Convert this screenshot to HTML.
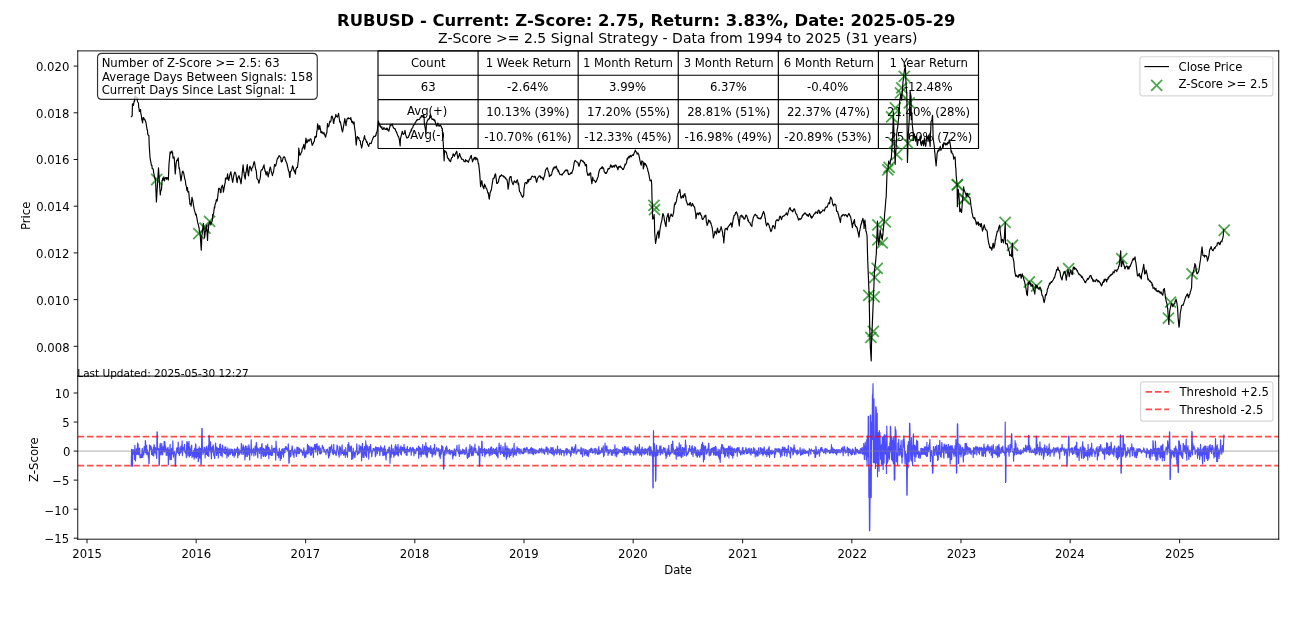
<!DOCTYPE html>
<html><head><meta charset="utf-8"><title>RUBUSD Z-Score</title>
<style>
html,body{margin:0;padding:0;background:#fff;}
body{width:1292px;height:634px;overflow:hidden;font-family:"DejaVu Sans","Liberation Sans",sans-serif;}
svg{display:block;will-change:transform;}
svg text{font-family:"DejaVu Sans",sans-serif;}
</style></head><body>
<svg width="1292" height="634" viewBox="0 0 1107.428571 543.428571" version="1.1">
<defs>
<style type="text/css">*{stroke-linejoin: round; stroke-linecap: butt}</style>
</defs>
<g id="figure_1">
<g id="patch_1">
<path d="M 0 543.428571
L 1107.428571 543.428571
L 1107.428571 0
L 0 0
z
" style="fill: #ffffff"/>
</g>
<g id="axes_1">
<g id="patch_2">
<path d="M 66.642857 322.371429
L 1096.071429 322.371429
L 1096.071429 43.628571
L 66.642857 43.628571
z
" style="fill: #ffffff"/>
</g>
<g id="table_1">
<g id="patch_3">
<path d="M 324 64.534286
L 409.785714 64.534286
L 409.785714 43.628571
L 324 43.628571
L 324 64.534286
z
" style="fill: none; stroke: #000000; stroke-linejoin: miter"/>
</g>
<g id="g_tbl_r0_c0" transform="translate(0.214 0.321)">
<text style="font-size: 10px; font-family: 'DejaVu Sans'; text-anchor: middle" x="366.892857" y="56.840804" transform="rotate(-0 366.892857 56.840804)">Count</text>
</g>
<g id="patch_4">
<path d="M 409.785714 64.534286
L 495.571429 64.534286
L 495.571429 43.628571
L 409.785714 43.628571
M 409.785714 64.534286
" style="fill: none; stroke: #000000; stroke-linejoin: miter"/>
</g>
<g id="g_tbl_r0_c1" transform="translate(0.214 0.214)">
<text style="font-size: 10px; font-family: 'DejaVu Sans'; text-anchor: middle" x="452.678571" y="56.840804" transform="rotate(-0 452.678571 56.840804)">1 Week Return</text>
</g>
<g id="patch_5">
<path d="M 495.571429 64.534286
L 581.357143 64.534286
L 581.357143 43.628571
L 495.571429 43.628571
M 495.571429 64.534286
" style="fill: none; stroke: #000000; stroke-linejoin: miter"/>
</g>
<g id="g_tbl_r0_c2" transform="translate(-0.214 0.214)">
<text style="font-size: 10px; font-family: 'DejaVu Sans'; text-anchor: middle" x="538.464286" y="56.840804" transform="rotate(-0 538.464286 56.840804)">1 Month Return</text>
</g>
<g id="patch_6">
<path d="M 581.357143 64.534286
L 667.142857 64.534286
L 667.142857 43.628571
L 581.357143 43.628571
M 581.357143 64.534286
" style="fill: none; stroke: #000000; stroke-linejoin: miter"/>
</g>
<g id="g_tbl_r0_c3" transform="translate(0.321 0.321)">
<text style="font-size: 10px; font-family: 'DejaVu Sans'; text-anchor: middle" x="624.25" y="56.840804" transform="rotate(-0 624.25 56.840804)">3 Month Return</text>
</g>
<g id="patch_7">
<path d="M 667.142857 64.534286
L 752.928571 64.534286
L 752.928571 43.628571
L 667.142857 43.628571
M 667.142857 64.534286
" style="fill: none; stroke: #000000; stroke-linejoin: miter"/>
</g>
<g id="g_tbl_r0_c4" transform="translate(0.429 0.321)">
<text style="font-size: 10px; font-family: 'DejaVu Sans'; text-anchor: middle" x="710.035714" y="56.840804" transform="rotate(-0 710.035714 56.840804)">6 Month Return</text>
</g>
<g id="patch_8">
<path d="M 752.928571 64.534286
L 838.714286 64.534286
L 838.714286 43.628571
L 752.928571 43.628571
M 752.928571 64.534286
" style="fill: none; stroke: #000000; stroke-linejoin: miter"/>
</g>
<g id="g_tbl_r0_c5" transform="translate(0.214 0.214)">
<text style="font-size: 10px; font-family: 'DejaVu Sans'; text-anchor: middle" x="795.821429" y="56.840804" transform="rotate(-0 795.821429 56.840804)">1 Year Return</text>
</g>
<g id="patch_9">
<path d="M 324 85.44
L 409.785714 85.44
L 409.785714 64.534286
M 324 64.534286
L 324 85.44
" style="fill: none; stroke: #000000; stroke-linejoin: miter"/>
</g>
<g id="g_tbl_r1_c0" transform="translate(0.107 0.000)">
<text style="font-size: 10px; font-family: 'DejaVu Sans'; text-anchor: middle" x="366.892857" y="77.746518" transform="rotate(-0 366.892857 77.746518)">63</text>
</g>
<g id="patch_10">
<path d="M 409.785714 85.44
L 495.571429 85.44
L 495.571429 64.534286
M 409.785714 64.534286
M 409.785714 85.44
" style="fill: none; stroke: #000000; stroke-linejoin: miter"/>
</g>
<g id="g_tbl_r1_c1" transform="translate(-0.321 0.000)">
<text style="font-size: 10px; font-family: 'DejaVu Sans'; text-anchor: middle" x="452.678571" y="77.746518" transform="rotate(-0 452.678571 77.746518)">-2.64%</text>
</g>
<g id="patch_11">
<path d="M 495.571429 85.44
L 581.357143 85.44
L 581.357143 64.534286
M 495.571429 64.534286
M 495.571429 85.44
" style="fill: none; stroke: #000000; stroke-linejoin: miter"/>
</g>
<g id="g_tbl_r1_c2" transform="translate(-0.536 0.000)">
<text style="font-size: 10px; font-family: 'DejaVu Sans'; text-anchor: middle" x="538.464286" y="77.746518" transform="rotate(-0 538.464286 77.746518)">3.99%</text>
</g>
<g id="patch_12">
<path d="M 581.357143 85.44
L 667.142857 85.44
L 667.142857 64.534286
M 581.357143 64.534286
M 581.357143 85.44
" style="fill: none; stroke: #000000; stroke-linejoin: miter"/>
</g>
<g id="g_tbl_r1_c3" transform="translate(0.107 0.000)">
<text style="font-size: 10px; font-family: 'DejaVu Sans'; text-anchor: middle" x="624.25" y="77.746518" transform="rotate(-0 624.25 77.746518)">6.37%</text>
</g>
<g id="patch_13">
<path d="M 667.142857 85.44
L 752.928571 85.44
L 752.928571 64.534286
M 667.142857 64.534286
M 667.142857 85.44
" style="fill: none; stroke: #000000; stroke-linejoin: miter"/>
</g>
<g id="g_tbl_r1_c4" transform="translate(-0.643 -0.107)">
<text style="font-size: 10px; font-family: 'DejaVu Sans'; text-anchor: middle" x="710.035714" y="77.746518" transform="rotate(-0 710.035714 77.746518)">-0.40%</text>
</g>
<g id="patch_14">
<path d="M 752.928571 85.44
L 838.714286 85.44
L 838.714286 64.534286
M 752.928571 64.534286
M 752.928571 85.44
" style="fill: none; stroke: #000000; stroke-linejoin: miter"/>
</g>
<g id="g_tbl_r1_c5" transform="translate(-0.214 0.000)">
<text style="font-size: 10px; font-family: 'DejaVu Sans'; text-anchor: middle" x="795.821429" y="77.746518" transform="rotate(-0 795.821429 77.746518)">-12.48%</text>
</g>
<g id="patch_15">
<path d="M 324 106.345714
L 409.785714 106.345714
L 409.785714 85.44
M 324 85.44
L 324 106.345714
" style="fill: none; stroke: #000000; stroke-linejoin: miter"/>
</g>
<g id="g_tbl_r2_c0" transform="translate(-0.750 -0.321)">
<text style="font-size: 10px; font-family: 'DejaVu Sans'; text-anchor: middle" x="366.892857" y="98.652232" transform="rotate(-0 366.892857 98.652232)">Avg(+)</text>
</g>
<g id="patch_16">
<path d="M 409.785714 106.345714
L 495.571429 106.345714
L 495.571429 85.44
M 409.785714 85.44
M 409.785714 106.345714
" style="fill: none; stroke: #000000; stroke-linejoin: miter"/>
</g>
<g id="g_tbl_r2_c1" transform="translate(-0.214 0.429)">
<text style="font-size: 10px; font-family: 'DejaVu Sans'; text-anchor: middle" x="452.678571" y="98.652232" transform="rotate(-0 452.678571 98.652232)">10.13% (39%)</text>
</g>
<g id="patch_17">
<path d="M 495.571429 106.345714
L 581.357143 106.345714
L 581.357143 85.44
M 495.571429 85.44
M 495.571429 106.345714
" style="fill: none; stroke: #000000; stroke-linejoin: miter"/>
</g>
<g id="g_tbl_r2_c2" transform="translate(0.321 0.429)">
<text style="font-size: 10px; font-family: 'DejaVu Sans'; text-anchor: middle" x="538.464286" y="98.652232" transform="rotate(-0 538.464286 98.652232)">17.20% (55%)</text>
</g>
<g id="patch_18">
<path d="M 581.357143 106.345714
L 667.142857 106.345714
L 667.142857 85.44
M 581.357143 85.44
M 581.357143 106.345714
" style="fill: none; stroke: #000000; stroke-linejoin: miter"/>
</g>
<g id="g_tbl_r2_c3" transform="translate(0.429 0.536)">
<text style="font-size: 10px; font-family: 'DejaVu Sans'; text-anchor: middle" x="624.25" y="98.652232" transform="rotate(-0 624.25 98.652232)">28.81% (51%)</text>
</g>
<g id="patch_19">
<path d="M 667.142857 106.345714
L 752.928571 106.345714
L 752.928571 85.44
M 667.142857 85.44
M 667.142857 106.345714
" style="fill: none; stroke: #000000; stroke-linejoin: miter"/>
</g>
<g id="g_tbl_r2_c4" transform="translate(0.107 0.536)">
<text style="font-size: 10px; font-family: 'DejaVu Sans'; text-anchor: middle" x="710.035714" y="98.652232" transform="rotate(-0 710.035714 98.652232)">22.37% (47%)</text>
</g>
<g id="patch_20">
<path d="M 752.928571 106.345714
L 838.714286 106.345714
L 838.714286 85.44
M 752.928571 85.44
M 752.928571 106.345714
" style="fill: none; stroke: #000000; stroke-linejoin: miter"/>
</g>
<g id="g_tbl_r2_c5" transform="translate(0.107 0.429)">
<text style="font-size: 10px; font-family: 'DejaVu Sans'; text-anchor: middle" x="795.821429" y="98.652232" transform="rotate(-0 795.821429 98.652232)">21.40% (28%)</text>
</g>
<g id="patch_21">
<path d="M 324 127.251429
L 409.785714 127.251429
L 409.785714 106.345714
M 324 106.345714
L 324 127.251429
" style="fill: none; stroke: #000000; stroke-linejoin: miter"/>
</g>
<g id="g_tbl_r3_c0" transform="translate(-0.321 -0.643)">
<text style="font-size: 10px; font-family: 'DejaVu Sans'; text-anchor: middle" x="366.892857" y="119.557946" transform="rotate(-0 366.892857 119.557946)">Avg(-)</text>
</g>
<g id="patch_22">
<path d="M 409.785714 127.251429
L 495.571429 127.251429
L 495.571429 106.345714
M 409.785714 106.345714
M 409.785714 127.251429
" style="fill: none; stroke: #000000; stroke-linejoin: miter"/>
</g>
<g id="g_tbl_r3_c1" transform="translate(-0.107 1.071)">
<text style="font-size: 10px; font-family: 'DejaVu Sans'; text-anchor: middle" x="452.678571" y="119.557946" transform="rotate(-0 452.678571 119.557946)">-10.70% (61%)</text>
</g>
<g id="patch_23">
<path d="M 495.571429 127.251429
L 581.357143 127.251429
L 581.357143 106.345714
M 495.571429 106.345714
M 495.571429 127.251429
" style="fill: none; stroke: #000000; stroke-linejoin: miter"/>
</g>
<g id="g_tbl_r3_c2" transform="translate(-0.214 1.071)">
<text style="font-size: 10px; font-family: 'DejaVu Sans'; text-anchor: middle" x="538.464286" y="119.557946" transform="rotate(-0 538.464286 119.557946)">-12.33% (45%)</text>
</g>
<g id="patch_24">
<path d="M 581.357143 127.251429
L 667.142857 127.251429
L 667.142857 106.345714
M 581.357143 106.345714
M 581.357143 127.251429
" style="fill: none; stroke: #000000; stroke-linejoin: miter"/>
</g>
<g id="g_tbl_r3_c3" transform="translate(-0.107 1.071)">
<text style="font-size: 10px; font-family: 'DejaVu Sans'; text-anchor: middle" x="624.25" y="119.557946" transform="rotate(-0 624.25 119.557946)">-16.98% (49%)</text>
</g>
<g id="patch_25">
<path d="M 667.142857 127.251429
L 752.928571 127.251429
L 752.928571 106.345714
M 667.142857 106.345714
M 667.142857 127.251429
" style="fill: none; stroke: #000000; stroke-linejoin: miter"/>
</g>
<g id="g_tbl_r3_c4" transform="translate(-0.321 1.071)">
<text style="font-size: 10px; font-family: 'DejaVu Sans'; text-anchor: middle" x="710.035714" y="119.557946" transform="rotate(-0 710.035714 119.557946)">-20.89% (53%)</text>
</g>
<g id="patch_26">
<path d="M 752.928571 127.251429
L 838.714286 127.251429
L 838.714286 106.345714
M 752.928571 106.345714
M 752.928571 127.251429
" style="fill: none; stroke: #000000; stroke-linejoin: miter"/>
</g>
<g id="g_tbl_r3_c5" transform="translate(0.214 1.071)">
<text style="font-size: 10px; font-family: 'DejaVu Sans'; text-anchor: middle" x="795.821429" y="119.557946" transform="rotate(-0 795.821429 119.557946)">-25.60% (72%)</text>
</g>
</g>
<g id="matplotlib.axis_1">
<g id="xtick_1">
<g id="line2d_1">
<defs>
<path id="m846767134b" d="M 0 0
L 0 3.5
" style="stroke: #000000; stroke-width: 0.8"/>
</defs>
<g>
<use href="#m846767134b" x="74.571429" y="322.371429" style="stroke: #000000; stroke-width: 0.8"/>
</g>
</g>
</g>
<g id="xtick_2">
<g id="line2d_2">
<g>
<use href="#m846767134b" x="168.147" y="322.371429" style="stroke: #000000; stroke-width: 0.8"/>
</g>
</g>
</g>
<g id="xtick_3">
<g id="line2d_3">
<g>
<use href="#m846767134b" x="261.978943" y="322.371429" style="stroke: #000000; stroke-width: 0.8"/>
</g>
</g>
</g>
<g id="xtick_4">
<g id="line2d_4">
<g>
<use href="#m846767134b" x="355.554514" y="322.371429" style="stroke: #000000; stroke-width: 0.8"/>
</g>
</g>
</g>
<g id="xtick_5">
<g id="line2d_5">
<g>
<use href="#m846767134b" x="449.130086" y="322.371429" style="stroke: #000000; stroke-width: 0.8"/>
</g>
</g>
</g>
<g id="xtick_6">
<g id="line2d_6">
<g>
<use href="#m846767134b" x="542.705657" y="322.371429" style="stroke: #000000; stroke-width: 0.8"/>
</g>
</g>
</g>
<g id="xtick_7">
<g id="line2d_7">
<g>
<use href="#m846767134b" x="636.5376" y="322.371429" style="stroke: #000000; stroke-width: 0.8"/>
</g>
</g>
</g>
<g id="xtick_8">
<g id="line2d_8">
<g>
<use href="#m846767134b" x="730.113171" y="322.371429" style="stroke: #000000; stroke-width: 0.8"/>
</g>
</g>
</g>
<g id="xtick_9">
<g id="line2d_9">
<g>
<use href="#m846767134b" x="823.688743" y="322.371429" style="stroke: #000000; stroke-width: 0.8"/>
</g>
</g>
</g>
<g id="xtick_10">
<g id="line2d_10">
<g>
<use href="#m846767134b" x="917.264314" y="322.371429" style="stroke: #000000; stroke-width: 0.8"/>
</g>
</g>
</g>
<g id="xtick_11">
<g id="line2d_11">
<g>
<use href="#m846767134b" x="1011.096257" y="322.371429" style="stroke: #000000; stroke-width: 0.8"/>
</g>
</g>
</g>
</g>
<g id="matplotlib.axis_2">
<g id="ytick_1">
<g id="line2d_12">
<defs>
<path id="me7e407bb2a" d="M 0 0
L -3.5 0
" style="stroke: #000000; stroke-width: 0.8"/>
</defs>
<g>
<use href="#me7e407bb2a" x="66.642857" y="296.828571" style="stroke: #000000; stroke-width: 0.8"/>
</g>
</g>
<g id="g_ytl1_1" transform="translate(0.000 0.857)">
<text style="font-size: 10px; font-family: 'DejaVu Sans'; text-anchor: end" x="59.642857" y="300.62779" transform="rotate(-0 59.642857 300.62779)">0.008</text>
</g>
</g>
<g id="ytick_2">
<g id="line2d_13">
<g>
<use href="#me7e407bb2a" x="66.642857" y="256.8" style="stroke: #000000; stroke-width: 0.8"/>
</g>
</g>
<g id="g_ytl1_2" transform="translate(0.000 0.536)">
<text style="font-size: 10px; font-family: 'DejaVu Sans'; text-anchor: end" x="59.642857" y="260.599219" transform="rotate(-0 59.642857 260.599219)">0.010</text>
</g>
</g>
<g id="ytick_3">
<g id="line2d_14">
<g>
<use href="#me7e407bb2a" x="66.642857" y="216.771429" style="stroke: #000000; stroke-width: 0.8"/>
</g>
</g>
<g id="g_ytl1_3" transform="translate(-0.107 0.214)">
<text style="font-size: 10px; font-family: 'DejaVu Sans'; text-anchor: end" x="59.642857" y="220.570647" transform="rotate(-0 59.642857 220.570647)">0.012</text>
</g>
</g>
<g id="ytick_4">
<g id="line2d_15">
<g>
<use href="#me7e407bb2a" x="66.642857" y="176.742857" style="stroke: #000000; stroke-width: 0.8"/>
</g>
</g>
<g id="g_ytl1_4">
<text style="font-size: 10px; font-family: 'DejaVu Sans'; text-anchor: end" x="59.642857" y="180.542076" transform="rotate(-0 59.642857 180.542076)">0.014</text>
</g>
</g>
<g id="ytick_5">
<g id="line2d_16">
<g>
<use href="#me7e407bb2a" x="66.642857" y="136.714286" style="stroke: #000000; stroke-width: 0.8"/>
</g>
</g>
<g id="g_ytl1_5" transform="translate(-0.107 -0.214)">
<text style="font-size: 10px; font-family: 'DejaVu Sans'; text-anchor: end" x="59.642857" y="140.513504" transform="rotate(-0 59.642857 140.513504)">0.016</text>
</g>
</g>
<g id="ytick_6">
<g id="line2d_17">
<g>
<use href="#me7e407bb2a" x="66.642857" y="96.685714" style="stroke: #000000; stroke-width: 0.8"/>
</g>
</g>
<g id="g_ytl1_6" transform="translate(-0.107 0.429)">
<text style="font-size: 10px; font-family: 'DejaVu Sans'; text-anchor: end" x="59.642857" y="100.484933" transform="rotate(-0 59.642857 100.484933)">0.018</text>
</g>
</g>
<g id="ytick_7">
<g id="line2d_18">
<g>
<use href="#me7e407bb2a" x="66.642857" y="56.657143" style="stroke: #000000; stroke-width: 0.8"/>
</g>
</g>
<g id="g_ytl1_7" transform="translate(-0.214 0.000)">
<text style="font-size: 10px; font-family: 'DejaVu Sans'; text-anchor: end" x="59.642857" y="60.456362" transform="rotate(-0 59.642857 60.456362)">0.020</text>
</g>
</g>
<g id="g_ylabel1" transform="translate(0.429 0.321)">
<text style="font-size: 10px; font-family: 'DejaVu Sans'; text-anchor: middle" x="24.935045" y="184.628571" transform="rotate(-90 24.935045 184.628571)">Price</text>
</g>
</g>
<g id="PathCollection_1">
<defs>
<path id="m4cc03a8183" d="M -4.743416 4.743416
L 4.743416 -4.743416
M -4.743416 -4.743416
L 4.743416 4.743416
" style="stroke: #008000; stroke-opacity: 0.7; stroke-width: 1.5"/>
</defs>
<g clip-path="url(#pc347632fc4)">
<use href="#m4cc03a8183" x="134.314286" y="153.857143" style="fill: #008000; fill-opacity: 0.7; stroke: #008000; stroke-opacity: 0.7; stroke-width: 1.5"/>
<use href="#m4cc03a8183" x="170.4" y="200.314286" style="fill: #008000; fill-opacity: 0.7; stroke: #008000; stroke-opacity: 0.7; stroke-width: 1.5"/>
<use href="#m4cc03a8183" x="175.714286" y="195.514286" style="fill: #008000; fill-opacity: 0.7; stroke: #008000; stroke-opacity: 0.7; stroke-width: 1.5"/>
<use href="#m4cc03a8183" x="179.657143" y="189.771429" style="fill: #008000; fill-opacity: 0.7; stroke: #008000; stroke-opacity: 0.7; stroke-width: 1.5"/>
<use href="#m4cc03a8183" x="560.485714" y="175.971429" style="fill: #008000; fill-opacity: 0.7; stroke: #008000; stroke-opacity: 0.7; stroke-width: 1.5"/>
<use href="#m4cc03a8183" x="561" y="179.657143" style="fill: #008000; fill-opacity: 0.7; stroke: #008000; stroke-opacity: 0.7; stroke-width: 1.5"/>
<use href="#m4cc03a8183" x="746.485714" y="289.114286" style="fill: #008000; fill-opacity: 0.7; stroke: #008000; stroke-opacity: 0.7; stroke-width: 1.5"/>
<use href="#m4cc03a8183" x="748.542857" y="283.971429" style="fill: #008000; fill-opacity: 0.7; stroke: #008000; stroke-opacity: 0.7; stroke-width: 1.5"/>
<use href="#m4cc03a8183" x="744.685714" y="253.2" style="fill: #008000; fill-opacity: 0.7; stroke: #008000; stroke-opacity: 0.7; stroke-width: 1.5"/>
<use href="#m4cc03a8183" x="749.314286" y="254.485714" style="fill: #008000; fill-opacity: 0.7; stroke: #008000; stroke-opacity: 0.7; stroke-width: 1.5"/>
<use href="#m4cc03a8183" x="749.828571" y="237.771429" style="fill: #008000; fill-opacity: 0.7; stroke: #008000; stroke-opacity: 0.7; stroke-width: 1.5"/>
<use href="#m4cc03a8183" x="751.885714" y="230.057143" style="fill: #008000; fill-opacity: 0.7; stroke: #008000; stroke-opacity: 0.7; stroke-width: 1.5"/>
<use href="#m4cc03a8183" x="752.4" y="192.771429" style="fill: #008000; fill-opacity: 0.7; stroke: #008000; stroke-opacity: 0.7; stroke-width: 1.5"/>
<use href="#m4cc03a8183" x="758.828571" y="190.2" style="fill: #008000; fill-opacity: 0.7; stroke: #008000; stroke-opacity: 0.7; stroke-width: 1.5"/>
<use href="#m4cc03a8183" x="752.4" y="205.628571" style="fill: #008000; fill-opacity: 0.7; stroke: #008000; stroke-opacity: 0.7; stroke-width: 1.5"/>
<use href="#m4cc03a8183" x="756.257143" y="208.2" style="fill: #008000; fill-opacity: 0.7; stroke: #008000; stroke-opacity: 0.7; stroke-width: 1.5"/>
<use href="#m4cc03a8183" x="775.078864" y="65.529518" style="fill: #008000; fill-opacity: 0.7; stroke: #008000; stroke-opacity: 0.7; stroke-width: 1.5"/>
<use href="#m4cc03a8183" x="771.83416" y="79.589905" style="fill: #008000; fill-opacity: 0.7; stroke: #008000; stroke-opacity: 0.7; stroke-width: 1.5"/>
<use href="#m4cc03a8183" x="772.915728" y="75.263632" style="fill: #008000; fill-opacity: 0.7; stroke: #008000; stroke-opacity: 0.7; stroke-width: 1.5"/>
<use href="#m4cc03a8183" x="779.405137" y="88.242452" style="fill: #008000; fill-opacity: 0.7; stroke: #008000; stroke-opacity: 0.7; stroke-width: 1.5"/>
<use href="#m4cc03a8183" x="767.507886" y="92.568725" style="fill: #008000; fill-opacity: 0.7; stroke: #008000; stroke-opacity: 0.7; stroke-width: 1.5"/>
<use href="#m4cc03a8183" x="764.263182" y="100.139703" style="fill: #008000; fill-opacity: 0.7; stroke: #008000; stroke-opacity: 0.7; stroke-width: 1.5"/>
<use href="#m4cc03a8183" x="766.426318" y="122.852636" style="fill: #008000; fill-opacity: 0.7; stroke: #008000; stroke-opacity: 0.7; stroke-width: 1.5"/>
<use href="#m4cc03a8183" x="778.323569" y="122.852636" style="fill: #008000; fill-opacity: 0.7; stroke: #008000; stroke-opacity: 0.7; stroke-width: 1.5"/>
<use href="#m4cc03a8183" x="768.589455" y="132.586751" style="fill: #008000; fill-opacity: 0.7; stroke: #008000; stroke-opacity: 0.7; stroke-width: 1.5"/>
<use href="#m4cc03a8183" x="762.100045" y="143.402434" style="fill: #008000; fill-opacity: 0.7; stroke: #008000; stroke-opacity: 0.7; stroke-width: 1.5"/>
<use href="#m4cc03a8183" x="761.018477" y="145.56557" style="fill: #008000; fill-opacity: 0.7; stroke: #008000; stroke-opacity: 0.7; stroke-width: 1.5"/>
<use href="#m4cc03a8183" x="820.504732" y="158.544389" style="fill: #008000; fill-opacity: 0.7; stroke: #008000; stroke-opacity: 0.7; stroke-width: 1.5"/>
<use href="#m4cc03a8183" x="826.994142" y="170.44164" style="fill: #008000; fill-opacity: 0.7; stroke: #008000; stroke-opacity: 0.7; stroke-width: 1.5"/>
<use href="#m4cc03a8183" x="820.651092" y="158.284182" style="fill: #008000; fill-opacity: 0.7; stroke: #008000; stroke-opacity: 0.7; stroke-width: 1.5"/>
<use href="#m4cc03a8183" x="826.396017" y="170.463424" style="fill: #008000; fill-opacity: 0.7; stroke: #008000; stroke-opacity: 0.7; stroke-width: 1.5"/>
<use href="#m4cc03a8183" x="861.55496" y="190.685561" style="fill: #008000; fill-opacity: 0.7; stroke: #008000; stroke-opacity: 0.7; stroke-width: 1.5"/>
<use href="#m4cc03a8183" x="867.759479" y="210.218307" style="fill: #008000; fill-opacity: 0.7; stroke: #008000; stroke-opacity: 0.7; stroke-width: 1.5"/>
<use href="#m4cc03a8183" x="882.236691" y="241.700498" style="fill: #008000; fill-opacity: 0.7; stroke: #008000; stroke-opacity: 0.7; stroke-width: 1.5"/>
<use href="#m4cc03a8183" x="888.44121" y="245.147453" style="fill: #008000; fill-opacity: 0.7; stroke: #008000; stroke-opacity: 0.7; stroke-width: 1.5"/>
<use href="#m4cc03a8183" x="916.016852" y="230.210647" style="fill: #008000; fill-opacity: 0.7; stroke: #008000; stroke-opacity: 0.7; stroke-width: 1.5"/>
<use href="#m4cc03a8183" x="961.51666" y="221.708158" style="fill: #008000; fill-opacity: 0.7; stroke: #008000; stroke-opacity: 0.7; stroke-width: 1.5"/>
<use href="#m4cc03a8183" x="1003.339717" y="258.935274" style="fill: #008000; fill-opacity: 0.7; stroke: #008000; stroke-opacity: 0.7; stroke-width: 1.5"/>
<use href="#m4cc03a8183" x="1001.50134" y="272.723095" style="fill: #008000; fill-opacity: 0.7; stroke: #008000; stroke-opacity: 0.7; stroke-width: 1.5"/>
<use href="#m4cc03a8183" x="1021.723478" y="234.806588" style="fill: #008000; fill-opacity: 0.7; stroke: #008000; stroke-opacity: 0.7; stroke-width: 1.5"/>
<use href="#m4cc03a8183" x="1049.299119" y="197.349674" style="fill: #008000; fill-opacity: 0.7; stroke: #008000; stroke-opacity: 0.7; stroke-width: 1.5"/>
</g>
</g>
<g id="patch_27">
<path d="M 66.642857 322.371429
L 66.642857 43.628571
" style="fill: none; stroke: #000000; stroke-width: 0.8; stroke-linejoin: miter; stroke-linecap: square"/>
</g>
<g id="patch_28">
<path d="M 1096.071429 322.371429
L 1096.071429 43.628571
" style="fill: none; stroke: #000000; stroke-width: 0.8; stroke-linejoin: miter; stroke-linecap: square"/>
</g>
<g id="patch_29">
<path d="M 66.642857 43.628571
L 1096.071429 43.628571
" style="fill: none; stroke: #000000; stroke-width: 0.8; stroke-linejoin: miter; stroke-linecap: square"/>
</g>
<g id="line2d_19">
<path d="M 112.5144 100.114286
L 113.283514 99.357179
L 113.539886 89.005017
L 113.796257 89.428827
L 114.052629 89.151425
L 114.309 90.270049
L 115.078114 86.389279
L 115.334486 86.98221
L 115.590857 83.466175
L 115.847229 82.130921
L 116.1036 83.712635
L 116.872714 83.701657
L 117.129086 83.585635
L 117.385457 83.048584
L 117.641829 85.720481
L 117.8982 87.185939
L 118.667314 88.291246
L 118.923686 92.285108
L 119.180057 93.119463
L 119.436429 95.603199
L 119.6928 95.465519
L 120.461914 93.960926
L 120.718286 97.501408
L 120.974657 97.949626
L 121.231029 99.581956
L 121.4874 102.389249
L 122.256514 105.367035
L 122.512886 100.97993
L 122.769257 102.350638
L 123.025629 100.818683
L 124.051114 102.862398
L 124.307486 102.513085
L 124.563857 103.622635
L 124.820229 103.964177
L 125.0766 104.848983
L 126.102086 111.316362
L 126.358457 111.190207
L 126.614829 114.430764
L 126.8712 115.568011
L 127.640314 116.324295
L 127.896686 124.755899
L 128.6658 135.810913
L 129.434914 139.591034
L 129.691286 141.437272
L 129.947657 141.883422
L 130.204029 141.692752
L 130.4604 144.504189
L 131.229514 144.688694
L 131.485886 145.897258
L 131.742257 148.410194
L 131.998629 148.982703
L 132.255 150.552623
L 133.024114 154.209123
L 133.280486 153.226069
L 134.0496 173.155661
L 135.8442 143.759889
L 137.382429 167.130419
L 137.6388 164.339732
L 138.407914 162.298079
L 138.920657 154.62987
L 139.177029 154.987771
L 139.4334 152.574714
L 140.202514 154.252865
L 140.458886 151.498944
L 140.715257 154.306197
L 140.971629 155.0128
L 141.228 152.964391
L 141.997114 152.191924
L 142.253486 153.138528
L 142.509857 152.337968
L 142.766229 153.683644
L 143.0226 152.154801
L 143.791714 152.619346
L 144.304457 154.369609
L 144.8172 141.260661
L 145.842686 130.20054
L 146.099057 131.795276
L 146.355429 131.594075
L 146.6118 130.837398
L 147.380914 129.399714
L 147.637286 130.43604
L 147.893657 130.515063
L 148.150029 133.717996
L 148.4064 135.497201
L 149.175514 134.546449
L 149.431886 136.232445
L 150.201 149.043394
L 150.970114 140.286649
L 151.482857 137.475339
L 151.739229 137.116025
L 151.9956 137.547277
L 152.764714 135.351554
L 153.277457 142.306626
L 153.533829 144.605759
L 153.7902 143.757209
L 155.072057 155.014217
L 155.328429 154.123068
L 155.5848 151.945038
L 156.353914 147.021765
L 156.610286 147.545312
L 156.866657 146.548084
L 157.123029 148.092288
L 157.3794 147.945436
L 158.404886 153.571203
L 158.661257 154.020975
L 158.917629 154.855726
L 159.174 157.757429
L 159.943114 160.800847
L 160.199486 163.177711
L 160.455857 161.022466
L 160.712229 160.831928
L 160.9686 164.467948
L 161.737714 164.189136
L 161.994086 166.661084
L 162.250457 170.338956
L 162.506829 171.130472
L 162.7632 174.947138
L 163.532314 174.743384
L 163.788686 176.672613
L 164.5578 169.207524
L 165.326914 172.44478
L 165.839657 175.854495
L 166.096029 177.069084
L 166.3524 178.965603
L 167.377886 182.624306
L 167.634257 184.269201
L 168.147 183.577083
L 169.172486 189.136284
L 169.428857 190.962147
L 169.9416 192.102957
L 170.710714 195.898238
L 170.967086 199.682707
L 171.223457 199.490106
L 171.479829 200.325433
L 171.7362 203.215543
L 172.505314 214.405043
L 172.761686 209.134888
L 173.018057 201.279609
L 173.274429 200.712054
L 173.5308 197.983337
L 174.299914 191.341823
L 174.812657 195.646063
L 175.3254 203.936523
L 176.094514 197.852286
L 176.350886 198.107828
L 176.607257 194.81051
L 177.12 192.915725
L 177.889114 206.024634
L 178.145486 200.23484
L 178.658229 196.684826
L 178.9146 192.964392
L 179.683714 190.249397
L 179.940086 189.848726
L 180.196457 190.153919
L 180.452829 191.116085
L 180.7092 192.769462
L 181.734686 189.478219
L 181.991057 189.466355
L 182.247429 183.833796
L 182.5038 185.725706
L 183.272914 181.445553
L 183.785657 177.278806
L 184.042029 178.205268
L 184.2984 175.540011
L 185.067514 173.576351
L 185.323886 171.44313
L 185.580257 171.147896
L 185.836629 171.160143
L 186.093 172.4616
L 186.862114 166.886133
L 187.374857 161.801606
L 187.631229 161.277412
L 188.656714 162.423012
L 188.913086 165.062241
L 189.169457 162.961389
L 189.425829 164.867332
L 189.6822 160.738918
L 190.707686 158.743575
L 190.964057 160.479102
L 191.220429 161.407222
L 191.4768 164.632583
L 192.758657 157.313088
L 193.015029 156.834844
L 193.2714 152.670068
L 194.040514 152.662393
L 194.296886 152.986741
L 194.553257 153.556595
L 195.066 148.94511
L 195.835114 154.137315
L 196.091486 154.606097
L 196.347857 152.389378
L 196.604229 152.787998
L 196.8606 150.651391
L 197.629714 147.720948
L 197.886086 147.290215
L 198.142457 149.416115
L 198.398829 149.827637
L 198.6552 152.132925
L 199.424314 156.364583
L 200.4498 150.056534
L 201.218914 147.675398
L 201.475286 147.536441
L 202.2444 149.453015
L 203.013514 155.53421
L 203.269886 156.583442
L 203.782629 152.503254
L 204.039 152.191976
L 204.808114 150.534085
L 205.064486 151.451332
L 205.320857 153.140645
L 205.577229 152.66418
L 206.602714 157.671484
L 207.115457 152.878381
L 207.371829 151.048322
L 207.6282 148.034633
L 208.397314 141.202515
L 208.910057 147.640384
L 209.166429 147.601466
L 209.4228 150.21846
L 210.191914 153.618956
L 210.704657 147.782744
L 210.961029 147.870881
L 211.2174 145.623159
L 211.986514 141.072785
L 212.242886 145.399619
L 212.755629 149.250177
L 213.012 150.732659
L 213.781114 143.67611
L 214.037486 142.860682
L 214.293857 142.448091
L 214.8066 143.984909
L 215.575714 146.474856
L 215.832086 144.251825
L 216.6012 143.522624
L 217.626686 139.105057
L 217.883057 138.623457
L 218.139429 138.813168
L 218.3958 140.753296
L 219.164914 145.141326
L 219.421286 145.729413
L 219.677657 146.657638
L 220.1904 152.893236
L 220.959514 154.062719
L 221.215886 154.049012
L 221.472257 155.017366
L 221.728629 156.694122
L 221.985 157.000163
L 222.754114 153.829045
L 223.266857 150.903948
L 223.523229 147.04157
L 223.7796 145.982073
L 224.548714 145.28338
L 224.805086 145.595684
L 225.317829 144.054125
L 225.5742 143.185738
L 226.343314 141.319395
L 226.599686 144.332957
L 226.856057 144.608525
L 227.112429 146.646478
L 227.3688 146.491716
L 228.137914 150.027465
L 228.650657 147.616784
L 228.907029 147.115728
L 229.1634 148.619935
L 229.932514 151.571029
L 230.445257 148.025633
L 230.701629 148.66381
L 230.958 145.78975
L 231.727114 143.129985
L 232.239857 145.413833
L 232.496229 147.098939
L 232.7526 147.621064
L 233.521714 150.519614
L 233.778086 148.943716
L 234.034457 148.516384
L 234.5472 146.758268
L 235.316314 140.983898
L 235.572686 141.131864
L 235.829057 142.060455
L 236.085429 142.368163
L 236.3418 141.988383
L 237.110914 138.996326
L 237.367286 137.277032
L 237.623657 136.603752
L 237.880029 135.502227
L 238.1364 135.848157
L 239.161886 133.577609
L 239.674629 133.489811
L 239.931 134.204931
L 240.700114 135.118727
L 240.956486 138.391855
L 241.212857 138.766958
L 241.469229 138.362201
L 241.7256 138.746902
L 242.751086 135.107734
L 243.007457 135.073518
L 243.5202 134.308652
L 244.289314 135.307868
L 244.545686 137.080231
L 244.802057 136.942003
L 245.058429 138.324726
L 245.3148 138.763215
L 246.083914 140.517303
L 246.340286 142.341056
L 246.596657 143.009842
L 247.1094 145.727027
L 247.878514 147.643653
L 248.134886 150.837858
L 248.391257 152.169464
L 248.647629 151.162248
L 248.904 146.828799
L 249.673114 146.53695
L 249.929486 145.906655
L 250.442229 143.987224
L 250.6986 142.073669
L 251.467714 143.854042
L 251.980457 146.728417
L 252.236829 146.030734
L 252.4932 147.014589
L 253.262314 149.163563
L 253.518686 145.022632
L 254.031429 144.632782
L 254.2878 143.442398
L 255.056914 143.415293
L 255.313286 140.000946
L 255.569657 138.557809
L 255.826029 136.04601
L 256.0824 126.892999
L 256.851514 132.443779
L 257.107886 133.11911
L 257.364257 132.442747
L 257.620629 132.576755
L 257.877 131.413903
L 258.646114 130.125619
L 259.158857 126.810881
L 259.415229 126.747235
L 259.6716 126.371858
L 260.440714 123.763219
L 260.697086 126.703727
L 260.953457 127.854144
L 261.209829 127.750745
L 261.4662 126.216112
L 262.235314 118.346692
L 263.004429 122.601475
L 263.2608 122.236834
L 264.029914 119.695076
L 264.286286 120.543561
L 264.542657 120.409937
L 264.799029 121.141695
L 265.0554 120.577902
L 265.824514 119.167079
L 266.080886 118.96654
L 266.337257 119.374775
L 266.593629 119.197614
L 266.85 120.900524
L 267.619114 124.62209
L 267.875486 123.571218
L 268.131857 123.191201
L 268.388229 123.368375
L 268.6446 122.424721
L 269.413714 120.960176
L 269.926457 117.20385
L 270.182829 116.813395
L 270.4392 118.007692
L 271.208314 117.095925
L 271.464686 112.838001
L 271.721057 112.410234
L 271.977429 110.320211
L 272.2338 106.09694
L 273.002914 109.019925
L 273.259286 111.044224
L 273.515657 111.00923
L 273.772029 109.660618
L 274.0284 107.593881
L 274.797514 111.270264
L 275.053886 113.707216
L 275.310257 113.382691
L 275.566629 113.742359
L 275.823 112.790705
L 276.592114 114.098837
L 276.848486 114.177307
L 277.104857 114.730867
L 277.361229 114.483574
L 277.6176 113.509187
L 278.386714 115.831891
L 278.643086 116.249103
L 278.899457 117.367052
L 279.155829 117.611242
L 279.4122 115.615872
L 280.181314 113.5763
L 280.694057 106.028942
L 281.2068 108.871825
L 281.975914 107.75731
L 282.488657 104.723709
L 282.745029 103.815228
L 283.0014 104.749391
L 283.770514 103.448504
L 284.026886 100.002072
L 284.283257 99.880164
L 284.539629 99.47288
L 284.796 99.752507
L 285.565114 102.582673
L 285.821486 105.532317
L 286.077857 105.849675
L 286.5906 102.057173
L 287.359714 100.61667
L 287.616086 99.86807
L 287.872457 98.02075
L 288.128829 99.241029
L 288.3852 99.634462
L 289.154314 100.438145
L 289.667057 98.75172
L 289.923429 98.578844
L 290.1798 97.082033
L 291.205286 104.686059
L 291.461657 103.891122
L 291.9744 105.525043
L 292.743514 109.136179
L 292.999886 111.318995
L 293.256257 111.745595
L 293.512629 113.144
L 293.769 112.370582
L 295.5636 101.618964
L 296.589086 107.721196
L 296.845457 104.590891
L 297.101829 104.44619
L 297.3582 102.239847
L 298.127314 101.169094
L 298.383686 101.683395
L 298.640057 100.922329
L 298.896429 101.127125
L 299.1528 101.746434
L 300.178286 101.412668
L 300.434657 102.383872
L 300.691029 100.762017
L 300.9474 102.452517
L 301.716514 105.102275
L 301.972886 104.195811
L 302.229257 103.996938
L 302.485629 104.687377
L 302.742 106.165244
L 303.511114 104.514208
L 303.767486 108.409836
L 304.5366 113.674116
L 305.305714 124.338977
L 306.074829 117.634006
L 306.3312 117.066876
L 307.100314 118.449818
L 307.356686 118.321914
L 307.613057 118.029974
L 307.869429 119.744276
L 308.1258 120.207214
L 308.894914 121.025577
L 309.151286 123.866379
L 309.407657 124.023042
L 309.664029 125.061603
L 309.9204 126.889659
L 310.689514 123.751474
L 310.945886 120.887495
L 311.202257 120.963017
L 311.715 119.739027
L 312.484114 116.190013
L 312.740486 118.482037
L 312.996857 119.301079
L 313.5096 119.792485
L 314.278714 122.17657
L 314.535086 121.346498
L 315.047829 123.394297
L 315.3042 124.099774
L 316.073314 125.480745
L 316.329686 123.85028
L 316.586057 123.426577
L 316.842429 122.720166
L 317.0988 122.952377
L 317.867914 122.916832
L 318.124286 123.171697
L 318.8934 120.546257
L 319.918886 117.878772
L 320.175257 117.66492
L 320.431629 116.69518
L 320.688 116.913394
L 321.457114 116.990595
L 321.713486 116.768237
L 321.969857 115.760632
L 322.226229 116.127012
L 322.4826 114.295352
L 323.251714 112.692089
L 323.764457 108.860773
L 324.020829 107.389463
L 324.2772 103.810399
L 325.046314 106.005865
L 325.302686 106.074911
L 325.559057 107.839996
L 325.815429 106.849638
L 326.0718 108.675386
L 326.840914 109.356196
L 327.097286 109.778797
L 327.353657 108.614184
L 327.610029 110.331612
L 327.8664 110.939112
L 328.635514 110.742263
L 328.891886 109.675761
L 329.148257 109.203107
L 329.404629 110.353254
L 330.430114 110.929649
L 330.686486 110.395742
L 330.942857 111.20775
L 331.199229 111.049982
L 331.4556 109.701799
L 332.224714 110.56491
L 332.481086 111.658604
L 332.737457 111.415581
L 332.993829 111.463795
L 333.2502 112.523026
L 334.275686 108.098467
L 334.532057 106.88781
L 335.0448 107.78566
L 336.070286 106.35217
L 336.326657 106.361285
L 336.8394 108.741269
L 337.864886 110.25307
L 338.377629 110.200264
L 338.634 110.335868
L 339.403114 112.460904
L 339.659486 112.685971
L 339.915857 113.910774
L 340.172229 113.612534
L 340.4286 114.784075
L 341.197714 116.710231
L 341.454086 116.745774
L 341.710457 117.318747
L 342.2232 119.235348
L 342.992314 125.142588
L 343.248686 119.226057
L 343.761429 116.884298
L 344.786914 112.584038
L 345.043286 113.046856
L 345.556029 115.156419
L 345.8124 115.16389
L 346.581514 114.371471
L 346.837886 113.711989
L 347.094257 111.77193
L 347.350629 113.086732
L 347.607 115.225966
L 348.632486 118.209224
L 348.888857 117.781512
L 349.4016 118.124101
L 350.170714 117.446261
L 350.427086 116.166264
L 350.683457 115.872372
L 350.939829 115.836497
L 351.1962 114.308563
L 352.221686 112.370337
L 352.478057 111.176345
L 352.734429 112.111947
L 352.9908 110.151703
L 353.759914 109.617433
L 354.272657 107.54486
L 354.529029 107.642559
L 354.7854 106.951351
L 355.554514 106.100024
L 355.810886 104.891388
L 356.067257 104.691586
L 356.323629 104.726178
L 356.58 104.007284
L 357.605486 102.462031
L 357.861857 102.903546
L 358.118229 102.356504
L 358.3746 102.646952
L 359.143714 102.469891
L 359.400086 102.211451
L 359.656457 102.200282
L 360.1692 100.813793
L 360.938314 100.38153
L 361.194686 99.031251
L 361.451057 99.433665
L 361.707429 100.118271
L 361.9638 99.16397
L 362.732914 99.655108
L 362.989286 98.699345
L 363.245657 98.318093
L 363.502029 100.929068
L 363.7584 106.24374
L 364.527514 110.142765
L 365.040257 114.578098
L 365.553 105.845375
L 366.322114 103.327042
L 366.834857 102.680682
L 367.091229 101.820398
L 367.3476 102.291154
L 368.116714 101.795982
L 368.373086 99.731485
L 368.629457 98.627387
L 368.885829 98.441847
L 369.1422 100.733864
L 369.911314 101.064087
L 370.167686 102.082009
L 370.424057 102.137826
L 370.680429 102.384319
L 370.9368 101.988079
L 371.705914 102.833386
L 371.962286 102.315559
L 372.218657 103.372845
L 372.475029 103.738193
L 372.7314 102.937655
L 373.500514 105.884725
L 373.756886 107.322472
L 374.269629 108.111406
L 374.526 108.080971
L 375.295114 105.410293
L 375.807857 107.394338
L 376.064229 107.551955
L 376.3206 108.197657
L 377.602457 107.134261
L 377.858829 108.214222
L 378.1152 108.28103
L 378.884314 110.311606
L 379.140686 110.200522
L 379.397057 117.617859
L 379.9098 122.375842
L 380.678914 137.824972
L 380.935286 131.828816
L 381.191657 129.029805
L 381.448029 129.394466
L 381.7044 130.148228
L 382.473514 130.135019
L 382.729886 131.062151
L 382.986257 132.569784
L 383.242629 133.021063
L 383.499 135.224355
L 384.268114 136.040391
L 384.524486 135.814041
L 384.780857 137.361416
L 385.037229 136.895548
L 385.2936 137.647432
L 386.062714 138.619611
L 386.319086 138.33742
L 386.575457 136.58714
L 386.831829 136.407697
L 387.0882 135.242781
L 387.857314 134.779154
L 388.370057 131.870138
L 388.626429 132.183454
L 388.8828 133.032495
L 389.651914 133.92909
L 389.908286 132.245415
L 390.164657 132.391683
L 390.6774 131.252022
L 391.446514 129.75307
L 391.702886 130.817897
L 391.959257 132.985548
L 392.215629 133.692229
L 392.472 135.955169
L 393.241114 133.672004
L 393.497486 133.754049
L 393.753857 132.253157
L 394.010229 131.589059
L 394.2666 132.862047
L 395.035714 134.876231
L 395.292086 134.990921
L 395.548457 136.406465
L 395.804829 136.248331
L 396.0612 136.465616
L 396.830314 136.609168
L 397.086686 137.085573
L 397.343057 137.085878
L 397.599429 138.353687
L 397.8558 138.06103
L 398.624914 138.821501
L 399.137657 136.782887
L 399.394029 138.029
L 399.6504 137.662271
L 400.419514 137.898206
L 400.675886 138.335731
L 400.932257 138.444076
L 401.188629 138.34334
L 401.445 139.211789
L 402.470486 136.174071
L 402.726857 136.178924
L 402.983229 135.487035
L 403.2396 134.432478
L 404.008714 133.230005
L 404.265086 135.603408
L 404.521457 136.133465
L 405.0342 138.672166
L 406.059686 135.931325
L 406.316057 135.520207
L 406.572429 136.329938
L 406.8288 134.801868
L 407.597914 134.855152
L 407.854286 137.034117
L 408.110657 136.479887
L 408.367029 136.266025
L 408.6234 135.414265
L 409.392514 136.480655
L 409.905257 140.257768
L 410.161629 139.964199
L 410.418 141.562442
L 411.187114 148.791414
L 411.956229 160.043342
L 412.2126 158.099124
L 412.981714 154.785298
L 413.238086 156.482759
L 413.494457 159.050419
L 413.750829 159.125777
L 414.0072 160.392934
L 414.776314 161.808951
L 415.032686 159.260898
L 415.289057 157.832807
L 415.545429 159.628213
L 415.8018 158.781535
L 416.827286 161.610254
L 417.083657 161.56899
L 417.5964 163.148253
L 418.365514 166.000867
L 418.621886 165.228039
L 419.134629 169.824067
L 419.391 170.729863
L 420.160114 164.830173
L 420.416486 164.748691
L 420.672857 163.357481
L 420.929229 163.441824
L 421.1856 162.639502
L 422.467457 153.628628
L 422.723829 152.875045
L 422.9802 153.162836
L 423.749314 152.243925
L 424.005686 150.397991
L 424.518429 149.05745
L 424.7748 149.012719
L 425.800286 157.139349
L 426.313029 157.280017
L 426.5694 156.798111
L 427.338514 155.678667
L 427.594886 153.489236
L 427.851257 153.055808
L 428.364 150.90218
L 429.133114 151.130614
L 429.389486 150.245948
L 429.645857 150.438362
L 429.902229 149.872498
L 430.1586 150.429233
L 430.927714 150.720789
L 431.184086 151.070573
L 431.440457 150.766235
L 431.696829 151.696264
L 431.9532 151.138646
L 432.722314 151.843265
L 432.978686 152.434474
L 433.235057 153.326648
L 433.491429 152.440695
L 433.7478 153.352468
L 434.516914 154.002116
L 435.029657 156.660413
L 435.5424 162.088729
L 436.311514 156.717648
L 436.567886 153.381305
L 436.824257 152.29849
L 437.080629 152.189286
L 437.337 151.267891
L 438.106114 151.435241
L 438.362486 154.542937
L 438.618857 154.954309
L 439.1316 156.606245
L 439.900714 158.258392
L 440.157086 157.166505
L 440.669829 156.007039
L 440.9262 154.91277
L 441.695314 156.068777
L 442.464429 156.667383
L 442.7208 155.122494
L 443.489914 154.068411
L 444.259029 158.386836
L 444.5154 157.171677
L 445.284514 164.04956
L 445.540886 164.501803
L 445.797257 164.708751
L 446.053629 164.752783
L 447.079114 167.85255
L 447.335486 167.655863
L 447.591857 168.034188
L 447.848229 169.060261
L 448.1046 168.944614
L 448.873714 167.771677
L 449.130086 161.834925
L 449.386457 160.68217
L 449.8992 156.953168
L 450.668314 156.452373
L 450.924686 156.502245
L 451.437429 157.474918
L 451.6938 157.236771
L 452.462914 154.021738
L 452.975657 156.000964
L 453.232029 155.07895
L 453.4884 153.522708
L 454.257514 154.051217
L 454.770257 153.371813
L 455.026629 153.68531
L 455.283 152.402835
L 456.052114 150.97178
L 456.308486 150.937865
L 457.0776 151.577177
L 457.846714 151.993564
L 458.359457 150.983867
L 458.615829 151.038318
L 458.8722 151.662594
L 459.897686 156.253265
L 460.154057 155.851022
L 460.6668 153.010389
L 461.435914 151.883445
L 461.692286 151.777006
L 462.205029 150.710577
L 462.4614 150.90554
L 463.230514 151.007207
L 463.486886 152.585132
L 463.743257 152.498581
L 464.256 151.93204
L 465.281486 153.119441
L 465.537857 154.223348
L 465.794229 153.943425
L 466.0506 152.401719
L 466.819714 150.417474
L 467.076086 148.29316
L 467.332457 147.652257
L 467.588829 145.655061
L 467.8452 145.461624
L 468.870686 143.887681
L 469.127057 143.872071
L 469.383429 144.174139
L 469.6398 146.094762
L 470.408914 147.987364
L 470.921657 151.392691
L 471.178029 150.278235
L 471.4344 150.413786
L 472.203514 150.512961
L 472.459886 149.350451
L 472.716257 149.817584
L 472.972629 148.89954
L 473.229 147.432812
L 473.998114 145.322476
L 474.254486 144.010789
L 474.510857 144.959449
L 475.0236 143.105123
L 475.792714 143.902064
L 476.049086 143.837691
L 476.305457 143.177057
L 476.561829 142.865829
L 476.8182 142.328245
L 477.587314 145.448523
L 477.843686 145.063838
L 478.100057 145.705736
L 478.356429 147.207257
L 478.6128 145.891435
L 479.638286 149.143225
L 479.894657 149.192725
L 480.151029 149.654767
L 480.4074 149.576124
L 481.176514 149.513697
L 481.689257 150.12593
L 481.945629 149.801335
L 482.202 148.979567
L 482.971114 148.504472
L 483.227486 147.738308
L 483.483857 147.82737
L 483.740229 147.009765
L 483.9966 146.92028
L 484.765714 145.774056
L 485.022086 145.721972
L 485.278457 146.495257
L 485.534829 146.231453
L 485.7912 145.618672
L 486.560314 145.949437
L 486.816686 148.129928
L 487.073057 148.456924
L 487.329429 149.601403
L 487.5858 148.925838
L 488.354914 149.480204
L 488.867657 148.968233
L 489.124029 148.649512
L 489.3804 147.972246
L 490.149514 148.660425
L 490.405886 147.127338
L 490.662257 146.881538
L 490.918629 145.810812
L 491.175 145.711771
L 492.200486 139.228038
L 492.713229 137.863331
L 492.9696 137.527686
L 493.738714 138.403041
L 494.507829 138.639774
L 494.7642 139.211678
L 495.533314 139.765316
L 495.789686 141.520324
L 496.046057 141.606915
L 496.302429 142.595598
L 496.5588 141.310009
L 497.840657 137.230933
L 498.097029 137.097931
L 498.3534 137.620052
L 499.122514 137.942668
L 499.378886 138.482001
L 499.635257 137.813527
L 499.891629 138.495894
L 500.148 138.445858
L 500.917114 140.044105
L 501.173486 139.451907
L 501.686229 142.176682
L 501.9426 141.086157
L 502.711714 141.072329
L 502.968086 146.760913
L 503.480829 149.004758
L 503.7372 150.236411
L 504.506314 150.216908
L 504.762686 149.054965
L 505.019057 150.23381
L 505.275429 149.153767
L 505.5318 148.560308
L 506.300914 148.197937
L 506.557286 152.284476
L 507.3264 157.368309
L 508.095514 151.884483
L 508.351886 154.020094
L 508.608257 154.442453
L 509.121 154.298061
L 509.890114 155.196915
L 510.146486 155.915779
L 510.402857 156.249712
L 510.659229 155.661833
L 510.9156 155.721567
L 511.684714 154.117024
L 511.941086 153.101618
L 512.197457 152.662365
L 512.7102 151.179053
L 513.479314 146.637889
L 513.735686 146.633616
L 513.992057 145.372899
L 514.5048 144.665771
L 515.273914 144.121989
L 515.786657 143.193059
L 516.043029 144.544946
L 516.2994 143.069203
L 517.324886 144.329344
L 517.581257 145.101821
L 517.837629 146.953224
L 518.094 147.129844
L 518.863114 148.668487
L 519.119486 148.623586
L 519.375857 147.857461
L 519.632229 148.656992
L 519.8886 148.397424
L 520.657714 146.498477
L 521.170457 144.511254
L 521.426829 144.292028
L 521.6832 144.960874
L 522.452314 144.421093
L 522.708686 143.97413
L 523.4778 141.251975
L 524.246914 143.283436
L 524.503286 142.256929
L 525.016029 143.288457
L 525.2724 142.41197
L 526.041514 142.026149
L 526.297886 142.968589
L 526.554257 143.361587
L 527.067 141.469242
L 528.092486 141.480196
L 528.348857 143.001223
L 528.605229 143.089367
L 528.8616 143.024977
L 529.630714 145.528349
L 529.887086 144.605037
L 530.143457 143.017771
L 530.399829 143.3181
L 530.6562 142.532622
L 531.425314 143.289626
L 531.681686 142.70657
L 531.938057 142.4493
L 532.194429 143.399543
L 533.219914 144.287573
L 533.732657 145.242041
L 533.989029 145.053423
L 534.2454 145.182192
L 535.014514 143.623295
L 535.270886 142.389932
L 535.527257 142.004093
L 535.783629 140.543648
L 536.04 141.344137
L 537.065486 139.396975
L 537.578229 135.738441
L 537.8346 136.767527
L 538.603714 134.564726
L 538.860086 134.462879
L 539.116457 134.118516
L 539.372829 135.383935
L 539.6292 134.019276
L 540.398314 133.244788
L 540.654686 134.191869
L 540.911057 134.562648
L 541.167429 134.2202
L 541.4238 133.649348
L 542.192914 132.646645
L 542.449286 133.155632
L 542.705657 133.096973
L 542.962029 133.157318
L 543.2184 132.252413
L 543.987514 129.982484
L 544.243886 130.207261
L 544.500257 128.583476
L 544.756629 129.514511
L 545.013 129.67369
L 545.782114 130.516731
L 546.038486 132.143309
L 546.294857 131.474955
L 546.551229 131.655688
L 546.8076 131.198821
L 547.576714 132.737231
L 548.6022 137.928922
L 549.371314 141.154498
L 549.627686 141.609298
L 550.140429 137.853103
L 550.3968 138.282239
L 551.165914 138.582765
L 551.422286 144.763943
L 551.678657 143.20748
L 551.935029 142.857639
L 552.1914 139.645747
L 552.960514 141.070297
L 553.216886 140.16711
L 553.473257 141.484169
L 553.729629 141.418215
L 553.986 141.651588
L 554.755114 144.099315
L 555.011486 144.347307
L 555.524229 147.339143
L 555.7806 147.313613
L 557.062457 154.307111
L 557.318829 154.997532
L 557.5752 154.911462
L 558.344314 154.329017
L 558.600686 158.102453
L 558.857057 170.359043
L 559.113429 175.478815
L 559.3698 187.704402
L 560.138914 187.207543
L 560.395286 185.943502
L 560.651657 183.892769
L 560.908029 188.370692
L 561.1644 199.463918
L 561.933514 208.721941
L 562.446257 205.471478
L 562.702629 204.602113
L 562.959 201.890713
L 563.728114 199.031373
L 563.984486 199.707508
L 564.240857 197.773391
L 564.7536 204.132269
L 565.779086 196.082533
L 566.5482 191.949284
L 567.317314 188.954211
L 568.086429 183.540911
L 568.3428 183.156718
L 569.111914 185.519417
L 569.368286 187.982404
L 569.881029 190.133389
L 570.1374 191.717195
L 570.906514 194.288205
L 571.419257 186.929397
L 572.701114 182.892772
L 573.470229 189.955716
L 574.495714 184.726182
L 574.752086 184.869361
L 575.264829 183.38625
L 575.5212 184.872593
L 576.290314 184.953341
L 576.546686 185.520664
L 577.059429 183.28318
L 577.3158 182.666199
L 578.084914 175.222887
L 578.341286 175.487167
L 578.597657 173.783122
L 578.854029 175.058343
L 579.1104 174.222237
L 579.879514 172.094275
L 580.392257 168.068999
L 580.648629 168.469883
L 580.905 166.237413
L 581.674114 165.049145
L 581.930486 164.27897
L 582.186857 164.515623
L 582.443229 163.977676
L 582.6996 162.19121
L 583.468714 168.69653
L 583.725086 169.828753
L 583.981457 168.738866
L 584.237829 169.761085
L 584.4942 169.32465
L 585.263314 167.616867
L 585.519686 167.651523
L 585.776057 169.41324
L 586.032429 168.470996
L 586.2888 166.884373
L 587.057914 165.868599
L 587.314286 167.848443
L 587.570657 167.850276
L 587.827029 169.348363
L 588.0834 171.615916
L 589.108886 174.626191
L 589.365257 175.435675
L 589.621629 175.695474
L 589.878 175.347375
L 590.647114 174.809561
L 590.903486 175.765327
L 591.159857 174.02087
L 591.416229 174.184557
L 591.6726 173.576049
L 592.441714 176.763204
L 592.698086 176.026701
L 592.954457 176.297675
L 593.210829 175.936911
L 593.4672 174.207326
L 594.749057 177.062122
L 595.005429 177.034149
L 595.2618 177.149805
L 596.030914 181.643457
L 596.287286 182.265976
L 596.543657 187.412353
L 597.0564 184.119837
L 597.825514 182.621772
L 598.081886 182.721769
L 598.338257 183.254404
L 598.594629 184.256121
L 598.851 182.697486
L 599.620114 182.283946
L 599.876486 182.641241
L 600.132857 183.894284
L 600.389229 182.71675
L 600.6456 184.199202
L 601.414714 184.97711
L 601.671086 186.934515
L 601.927457 187.95958
L 602.183829 187.419705
L 602.4402 188.134151
L 603.465686 186.424777
L 603.722057 185.521956
L 603.978429 185.043606
L 604.2348 185.674252
L 605.003914 184.400411
L 605.516657 190.760539
L 605.773029 190.876074
L 606.0294 193.31799
L 606.798514 191.535594
L 607.311257 188.502403
L 607.567629 190.119628
L 607.824 189.310147
L 608.593114 189.25162
L 608.849486 191.030267
L 609.105857 191.268737
L 609.362229 190.981024
L 609.6186 192.335083
L 610.387714 194.895219
L 611.156829 200.395211
L 611.4132 203.919428
L 612.182314 201.226668
L 612.438686 201.369747
L 612.695057 198.671338
L 612.951429 198.140698
L 613.2078 198.549503
L 613.976914 200.182178
L 614.233286 200.410164
L 614.489657 197.7724
L 615.0024 195.498247
L 615.771514 199.477764
L 616.027886 198.329644
L 616.284257 199.193922
L 616.540629 198.46891
L 616.797 198.953475
L 617.566114 196.247942
L 617.822486 196.084579
L 618.078857 194.166623
L 619.360714 199.201618
L 619.617086 202.374114
L 619.873457 202.572025
L 620.129829 204.508053
L 620.3862 208.199604
L 621.411686 196.356869
L 621.668057 196.552128
L 621.924429 195.821258
L 622.1808 196.204364
L 622.949914 195.702591
L 623.462657 197.098246
L 623.719029 195.345676
L 623.9754 194.710374
L 625.000886 193.261905
L 625.257257 193.073754
L 625.513629 192.335921
L 625.77 192.659091
L 626.539114 190.925127
L 626.795486 191.895398
L 627.051857 192.414859
L 627.308229 194.679315
L 627.5646 193.783748
L 628.590086 186.715401
L 628.846457 187.071566
L 629.102829 184.726521
L 629.3592 184.773166
L 630.128314 183.918144
L 630.384686 182.147944
L 630.641057 182.143336
L 630.897429 182.496847
L 631.1538 181.590433
L 631.922914 183.240169
L 632.179286 184.53709
L 632.435657 184.873039
L 632.692029 187.768112
L 632.9484 188.390932
L 633.717514 193.706719
L 633.973886 188.683897
L 634.486629 185.241736
L 635.512114 184.44806
L 636.024857 186.09299
L 636.281229 185.809601
L 636.5376 185.082969
L 637.306714 186.765133
L 637.563086 187.699811
L 638.075829 187.132242
L 638.3322 187.853137
L 639.357686 184.28965
L 639.614057 184.83901
L 639.870429 184.605597
L 640.1268 185.122272
L 640.895914 187.458995
L 641.152286 189.3605
L 641.408657 188.447842
L 641.9214 190.471369
L 642.690514 190.694724
L 643.203257 192.293766
L 643.459629 192.860943
L 643.716 193.095565
L 644.485114 194.072918
L 644.741486 190.654395
L 644.997857 189.577283
L 645.254229 189.436363
L 645.5106 187.144817
L 646.792457 184.133553
L 647.048829 184.015955
L 647.3052 183.590694
L 648.074314 184.723516
L 648.330686 184.790693
L 648.587057 185.074154
L 648.843429 184.697381
L 649.0998 186.531224
L 649.868914 186.877289
L 650.125286 187.391278
L 650.381657 186.722902
L 650.638029 187.190303
L 650.8944 187.235174
L 651.663514 187.643324
L 651.919886 186.758682
L 652.176257 187.442558
L 653.458114 184.324471
L 653.714486 182.864952
L 653.970857 182.746648
L 654.4836 181.210654
L 655.252714 183.377167
L 655.509086 184.557988
L 655.765457 186.963176
L 656.021829 187.106915
L 656.2782 190.471947
L 657.047314 193.6084
L 657.303686 192.534537
L 657.560057 192.486416
L 658.0728 191.204808
L 658.841914 192.354142
L 659.098286 192.529749
L 659.611029 195.019389
L 659.8674 195.407974
L 660.636514 198.135121
L 660.892886 198.511624
L 661.149257 197.685808
L 661.405629 197.598056
L 661.662 196.140171
L 662.431114 193.317959
L 662.943857 193.601639
L 663.200229 194.084085
L 663.4566 194.287546
L 664.225714 196.114038
L 664.994829 189.507511
L 665.2512 189.127868
L 666.020314 188.208482
L 666.276686 188.471349
L 666.533057 189.140013
L 666.789429 188.776406
L 667.0458 189.243704
L 667.814914 188.306294
L 668.071286 186.229582
L 668.584029 185.248792
L 668.8404 185.354562
L 669.865886 188.292534
L 670.635 185.555212
L 671.404114 185.089788
L 671.916857 185.277798
L 672.4296 184.565421
L 673.198714 184.115281
L 673.455086 183.694122
L 673.711457 183.589676
L 673.967829 182.34155
L 674.2242 183.340561
L 674.993314 184.425731
L 675.506057 182.218041
L 676.0188 180.573571
L 676.787914 178.240118
L 677.044286 178.716184
L 677.300657 178.032332
L 677.8134 180.157551
L 678.582514 180.235622
L 678.838886 180.938499
L 679.095257 180.785145
L 679.351629 181.581234
L 679.608 181.28571
L 680.377114 179.135874
L 680.633486 179.611774
L 680.889857 178.949345
L 681.4026 180.269677
L 682.171714 183.123586
L 682.428086 183.153631
L 682.684457 183.75168
L 682.940829 183.654791
L 683.1972 184.723078
L 683.966314 186.716963
L 684.222686 188.03936
L 684.479057 188.630613
L 684.9918 187.453512
L 685.760914 188.269015
L 686.017286 187.552446
L 686.273657 187.632397
L 686.7864 187.501008
L 687.555514 185.789417
L 687.811886 184.412609
L 688.068257 184.443184
L 688.324629 184.099803
L 688.581 184.375007
L 689.350114 182.886788
L 689.606486 183.238203
L 689.862857 183.264439
L 690.119229 182.356407
L 690.3756 183.139983
L 691.401086 183.616511
L 691.657457 184.836571
L 691.913829 184.918749
L 692.1702 184.202581
L 692.939314 185.427723
L 693.195686 184.004056
L 693.452057 184.475024
L 693.708429 182.985114
L 693.9648 183.242296
L 694.733914 184.738429
L 694.990286 186.188529
L 695.246657 186.464003
L 695.503029 185.432709
L 695.7594 187.023162
L 696.784886 185.387554
L 697.041257 185.136552
L 697.554 183.572499
L 698.579486 183.114138
L 698.835857 182.085329
L 699.092229 182.50924
L 699.3486 181.67625
L 700.117714 181.91516
L 700.630457 182.979055
L 700.886829 182.504019
L 701.1432 180.545058
L 701.912314 180.040815
L 702.168686 180.588092
L 702.425057 182.525091
L 702.681429 182.476844
L 702.9378 183.054286
L 703.706914 181.44575
L 703.963286 181.843803
L 704.219657 181.893592
L 704.476029 181.143398
L 704.7324 180.915498
L 705.501514 179.964033
L 705.757886 180.212313
L 706.270629 180.203246
L 706.527 180.880627
L 707.552486 177.866736
L 707.808857 177.776637
L 708.065229 177.41497
L 708.3216 177.700452
L 709.090714 177.449245
L 709.347086 176.144549
L 709.603457 175.741905
L 710.1162 174.046717
L 710.885314 173.638748
L 711.141686 174.691112
L 711.398057 171.018233
L 711.654429 170.872808
L 711.9108 168.836331
L 712.679914 169.977344
L 713.192657 171.417798
L 713.7054 174.927064
L 714.474514 176.475023
L 714.730886 176.353871
L 714.987257 175.175061
L 715.243629 174.863066
L 715.5 174.895374
L 716.269114 175.48053
L 716.525486 176.047432
L 716.781857 178.090972
L 717.038229 181.119693
L 717.2946 180.714145
L 718.063714 181.367491
L 718.320086 183.315804
L 718.576457 183.261304
L 718.832829 184.032224
L 719.0892 185.996083
L 719.858314 188.225078
L 720.371057 190.758063
L 720.8838 185.955625
L 721.652914 184.617465
L 721.909286 185.14748
L 722.6784 183.719857
L 723.447514 184.39733
L 723.703886 185.026949
L 723.960257 184.282105
L 724.216629 184.539554
L 724.473 183.90956
L 725.498486 184.439292
L 725.754857 185.389952
L 726.011229 185.401585
L 726.2676 185.898723
L 727.036714 183.880334
L 727.293086 183.851734
L 727.549457 182.936533
L 727.805829 183.264981
L 728.0622 183.966465
L 729.087686 185.954867
L 729.344057 187.121163
L 729.600429 188.861146
L 729.8568 189.691484
L 730.625914 195.157162
L 731.138657 191.161995
L 731.395029 191.626898
L 731.6514 190.214458
L 732.420514 188.155913
L 732.676886 191.696253
L 732.933257 193.229832
L 733.189629 192.908758
L 733.446 194.191561
L 734.215114 194.139279
L 734.471486 195.4473
L 734.727857 195.376322
L 734.984229 197.618829
L 735.2406 198.189586
L 736.009714 201.661229
L 736.266086 203.381429
L 736.778829 198.391176
L 737.0352 197.353821
L 738.060686 191.805393
L 738.317057 192.035023
L 738.573429 190.136129
L 739.598914 187.220311
L 739.855286 188.489363
L 740.111657 191.173822
L 740.368029 189.406981
L 740.6244 195.891978
L 741.393514 188.660783
L 741.649886 192.058726
L 741.906257 193.335127
L 742.162629 198.235634
L 742.419 198.135566
L 743.188114 202.079489
L 743.700857 222.055503
L 744.982714 253.151672
L 745.495457 280.866269
L 746.0082 297.542107
L 746.777314 309.352028
L 747.033686 294.071721
L 749.084657 244.41786
L 749.5974 231.30698
L 750.622886 223.37093
L 750.879257 219.853448
L 751.135629 217.9174
L 751.392 209.665384
L 752.161114 189.516473
L 752.417486 199.552862
L 753.1866 209.882016
L 753.955714 203.657423
L 754.468457 197.004693
L 754.724829 199.688993
L 754.9812 199.996493
L 755.750314 204.292387
L 756.006686 203.11894
L 756.263057 205.702805
L 756.519429 201.878974
L 756.7758 200.713955
L 758.057657 187.03408
L 758.314029 182.331899
L 758.5704 180.483742
L 759.339514 170.486088
L 759.595886 168.941486
L 760.365 146.358881
L 761.134114 145.303404
L 761.646857 137.977969
L 761.903229 139.624378
L 762.1596 139.472431
L 762.928714 141.039869
L 763.185086 137.269147
L 763.441457 137.597143
L 763.697829 136.016578
L 763.9542 136.309081
L 765.236057 114.791999
L 765.7488 95.867081
L 766.517914 124.001647
L 767.030657 133.299092
L 767.287029 140.84746
L 767.5434 134.667331
L 768.312514 122.645949
L 768.568886 114.767824
L 768.825257 113.39059
L 769.081629 110.430833
L 769.338 109.987065
L 770.363486 99.990567
L 770.619857 98.776116
L 770.876229 94.844148
L 771.1326 87.148513
L 772.158086 80.617078
L 772.414457 81.305065
L 772.670829 84.844544
L 772.9272 85.935318
L 773.952686 70.666843
L 774.209057 68.32499
L 774.465429 68.075088
L 774.7218 63.975716
L 775.490914 58.532318
L 775.747286 58.945835
L 776.003657 55.880848
L 776.5164 70.36863
L 777.285514 80.974152
L 777.798257 139.169901
L 778.054629 131.919858
L 778.311 119.122319
L 779.336486 103.200968
L 779.849229 87.69665
L 780.1056 78.311296
L 780.874714 82.639666
L 781.131086 102.643518
L 781.643829 96.724047
L 781.9002 106.575241
L 782.669314 113.113736
L 782.925686 120.398378
L 783.182057 116.39033
L 783.438429 114.62594
L 783.6948 114.74273
L 784.720286 121.019454
L 784.976657 117.058625
L 785.233029 117.562899
L 785.4894 116.822093
L 786.258514 124.693347
L 786.514886 124.065476
L 787.027629 119.569607
L 787.284 119.726075
L 788.053114 119.595529
L 788.309486 119.384276
L 788.565857 117.327537
L 788.822229 116.504224
L 789.0786 122.615051
L 789.847714 124.700942
L 790.104086 121.563313
L 790.360457 121.401042
L 790.616829 122.679617
L 790.8732 120.527806
L 791.642314 124.918898
L 791.898686 120.450922
L 792.155057 119.710799
L 792.411429 118.151676
L 792.6678 122.403567
L 793.436914 125.482864
L 793.693286 123.736058
L 794.206029 117.402227
L 794.4624 116.314065
L 795.231514 119.023193
L 795.487886 121.211212
L 795.744257 118.402325
L 796.257 115.747436
L 797.282486 125.529932
L 797.538857 114.739625
L 797.795229 111.526329
L 798.0516 104.216782
L 798.820714 102.822965
L 799.077086 100.113297
L 799.333457 98.79226
L 799.8462 118.711412
L 800.871686 125.60107
L 801.128057 130.23115
L 801.384429 131.497012
L 801.6408 134.997579
L 802.409914 142.142013
L 802.666286 138.08182
L 802.922657 136.394992
L 803.179029 131.593005
L 803.4354 130.935148
L 804.204514 128.508303
L 804.717257 129.50947
L 805.23 127.947036
L 805.999114 125.373904
L 806.255486 127.597257
L 806.511857 128.836863
L 806.768229 128.005381
L 807.0246 127.559729
L 807.793714 127.007122
L 808.050086 123.80236
L 808.306457 126.207939
L 808.562829 126.013281
L 808.8192 122.489737
L 809.588314 123.242027
L 809.844686 122.485446
L 810.101057 123.832552
L 810.357429 123.017451
L 810.6138 124.410201
L 811.382914 123.386234
L 811.639286 122.781228
L 811.895657 123.983261
L 812.152029 122.545791
L 812.4084 121.972488
L 813.177514 122.775142
L 813.433886 120.649409
L 813.690257 119.853633
L 814.203 121.746994
L 814.972114 127.035754
L 815.228486 130.476013
L 815.484857 129.440051
L 815.741229 129.698003
L 815.9976 131.409878
L 816.766714 132.022561
L 817.023086 133.032783
L 817.535829 136.34852
L 817.7922 135.744997
L 818.561314 134.406944
L 818.817686 136.881597
L 819.074057 142.580886
L 819.330429 144.576376
L 819.5868 150.635191
L 820.355914 157.603163
L 820.612286 177.212636
L 821.125029 166.079217
L 821.3814 162.266195
L 822.150514 170.13843
L 822.663257 181.41481
L 822.919629 181.057619
L 823.176 178.979071
L 824.201486 182.097469
L 825.996086 160.109092
L 826.252457 162.379046
L 826.508829 162.792091
L 828.303429 168.084238
L 828.5598 165.821106
L 829.328914 165.812967
L 829.585286 167.943935
L 829.841657 167.901881
L 830.098029 168.628554
L 830.3544 168.613068
L 831.123514 169.182445
L 831.379886 169.678333
L 831.636257 170.835261
L 832.149 175.725266
L 832.918114 179.875756
L 833.174486 182.761221
L 833.430857 183.301179
L 833.687229 184.402554
L 833.9436 186.210154
L 834.712714 187.118189
L 834.969086 186.771189
L 835.225457 187.721833
L 835.481829 186.608469
L 835.7382 187.947511
L 836.507314 190.212466
L 836.763686 192.02858
L 837.020057 190.634918
L 837.276429 192.61204
L 837.5328 190.370018
L 838.301914 191.433317
L 838.558286 190.284438
L 838.814657 193.292414
L 839.071029 191.985694
L 839.3274 191.95433
L 840.096514 192.078233
L 840.352886 194.207156
L 840.609257 193.470676
L 840.865629 192.249245
L 841.122 191.61017
L 842.147486 198.170711
L 842.403857 196.771752
L 842.660229 196.766886
L 842.9166 194.978479
L 843.685714 192.652905
L 843.942086 194.462124
L 844.454829 195.563912
L 844.7112 196.913102
L 845.736686 197.205617
L 846.249429 198.857544
L 846.5058 202.365013
L 847.531286 208.983332
L 847.787657 208.938297
L 848.3004 212.245617
L 849.069514 211.802022
L 849.325886 213.179113
L 849.582257 212.373514
L 849.838629 212.349507
L 850.095 214.336533
L 850.864114 210.864738
L 851.120486 208.715003
L 851.376857 208.533908
L 851.633229 209.894972
L 851.8896 212.695614
L 852.658714 209.885527
L 853.171457 205.400103
L 853.427829 205.371526
L 853.6842 203.256283
L 854.453314 200.018396
L 854.709686 198.281689
L 854.966057 198.736712
L 855.222429 198.106565
L 855.4788 197.925717
L 856.247914 194.302147
L 856.504286 194.054771
L 856.760657 193.023683
L 857.017029 194.269826
L 857.2734 197.836762
L 858.042514 203.465103
L 858.298886 207.873605
L 858.555257 206.50118
L 858.811629 206.449698
L 859.068 205.083221
L 859.837114 206.435557
L 860.093486 208.305475
L 860.8626 203.533903
L 861.631714 190.389576
L 861.888086 208.758122
L 862.144457 209.05588
L 862.400829 208.452401
L 862.6572 209.017053
L 863.426314 208.980063
L 863.939057 212.35054
L 864.195429 212.816247
L 864.4518 214.150038
L 865.220914 215.996292
L 865.477286 219.056784
L 865.733657 218.276628
L 865.990029 218.42759
L 866.2464 218.447905
L 867.015514 219.848217
L 867.271886 214.526299
L 867.528257 212.258661
L 867.784629 208.291356
L 868.041 220.182716
L 869.066486 224.444465
L 869.322857 228.631175
L 869.579229 230.356252
L 869.8356 232.873177
L 870.604714 236.578216
L 870.861086 236.819962
L 871.117457 235.780506
L 871.6302 236.333974
L 872.655686 237.835363
L 872.912057 236.149014
L 873.168429 237.222988
L 873.4248 235.426573
L 874.193914 235.39758
L 874.450286 236.200716
L 874.706657 235.042252
L 874.963029 235.433157
L 875.2194 238.558525
L 875.988514 236.569627
L 876.244886 234.775989
L 876.501257 236.109697
L 876.757629 236.016096
L 877.783114 240.565941
L 878.039486 240.672225
L 878.8086 244.463521
L 879.577714 248.121127
L 880.090457 252.309202
L 880.346829 252.440268
L 880.6032 253.389021
L 881.372314 242.021207
L 881.628686 242.097723
L 881.885057 243.674193
L 882.141429 242.95874
L 882.3978 241.154567
L 883.166914 243.68274
L 883.423286 243.271274
L 883.679657 245.205394
L 884.1924 245.082182
L 884.961514 244.009455
L 885.474257 246.956473
L 885.730629 247.436529
L 885.987 248.411689
L 886.756114 250.564006
L 887.012486 252.068383
L 887.268857 248.011627
L 887.7816 244.133917
L 888.550714 246.709776
L 888.807086 244.805803
L 889.063457 245.387767
L 889.319829 246.46012
L 889.5762 246.957866
L 890.345314 247.809117
L 890.601686 247.752866
L 890.858057 246.892206
L 891.114429 246.681968
L 891.3708 246.040118
L 892.396286 248.137797
L 892.909029 251.697444
L 893.1654 252.984194
L 893.934514 254.082736
L 894.447257 257.123507
L 894.96 259.38306
L 895.729114 256.078982
L 895.985486 253.427072
L 896.241857 252.437854
L 896.498229 252.910719
L 896.7546 253.070314
L 897.523714 249.99972
L 897.780086 247.655772
L 898.036457 247.283037
L 898.292829 247.141182
L 898.5492 245.843943
L 899.318314 243.994749
L 899.574686 242.552842
L 899.831057 243.158893
L 900.087429 243.337475
L 901.112914 241.351601
L 901.369286 242.017978
L 902.907514 239.591224
L 903.163886 238.908255
L 903.420257 238.567565
L 903.676629 237.657455
L 903.933 238.009314
L 904.958486 233.946776
L 905.214857 233.401884
L 905.7276 230.961102
L 906.496714 231.275975
L 906.753086 228.830117
L 907.009457 229.640525
L 907.265829 231.590872
L 908.291314 231.85295
L 908.547686 233.548392
L 908.804057 234.250935
L 909.060429 236.363936
L 909.3168 237.524449
L 910.342286 239.92126
L 910.855029 236.28423
L 911.1114 236.260302
L 912.136886 232.544538
L 912.649629 233.745347
L 912.906 233.065756
L 913.675114 237.612052
L 913.931486 240.186863
L 914.7006 235.080919
L 915.469714 231.009362
L 915.982457 233.66143
L 916.238829 235.899659
L 916.4952 237.056693
L 917.264314 232.827511
L 917.520686 232.634366
L 917.777057 231.388215
L 918.2898 233.971473
L 919.058914 235.466388
L 919.828029 229.925875
L 920.0844 228.836345
L 920.853514 230.717181
L 921.109886 229.035256
L 921.366257 230.635385
L 921.879 230.196727
L 922.648114 230.733517
L 923.160857 232.277379
L 923.417229 231.867293
L 923.6736 232.85506
L 924.955457 235.591569
L 925.211829 234.952706
L 925.4682 235.304768
L 926.237314 236.05048
L 926.493686 236.4639
L 926.750057 236.53886
L 927.006429 237.788163
L 927.2628 236.55831
L 928.801029 239.832253
L 929.0574 239.988849
L 930.082886 242.178
L 930.339257 241.367912
L 930.595629 242.245396
L 930.852 241.150797
L 931.621114 240.192197
L 931.877486 239.254382
L 932.390229 238.520898
L 932.6466 239.469471
L 933.415714 238.439923
L 933.672086 237.671228
L 933.928457 237.422224
L 934.184829 236.571462
L 934.4412 236.213255
L 935.210314 236.28828
L 935.723057 238.818885
L 935.979429 238.116753
L 937.004914 241.364799
L 937.261286 240.915896
L 937.517657 239.870831
L 937.774029 240.797291
L 938.0304 240.840098
L 938.799514 241.384843
L 939.312257 240.542591
L 939.568629 239.615716
L 939.825 239.37324
L 940.594114 240.274353
L 941.106857 241.69768
L 941.363229 241.276873
L 941.6196 240.581004
L 942.901457 242.409609
L 943.157829 242.461872
L 943.4142 243.479489
L 944.183314 245.028988
L 944.439686 243.822395
L 944.696057 244.067747
L 945.2088 241.825294
L 945.977914 242.021083
L 946.234286 239.935727
L 946.747029 241.061135
L 947.0034 239.305945
L 947.772514 239.476991
L 948.028886 240.281619
L 948.285257 240.253114
L 948.541629 241.668883
L 948.798 239.51501
L 949.567114 239.72752
L 949.823486 237.960444
L 950.079857 237.489296
L 950.336229 238.2846
L 950.5926 237.16087
L 951.361714 236.595878
L 951.618086 235.570251
L 951.874457 236.411228
L 952.130829 235.534602
L 952.3872 235.978471
L 953.156314 234.753133
L 953.412686 235.105718
L 953.669057 234.723037
L 954.1818 232.778158
L 954.950914 233.88201
L 955.463657 232.485191
L 955.720029 231.358234
L 955.9764 231.608863
L 956.745514 231.824586
L 957.001886 231.62304
L 957.258257 232.837629
L 957.514629 231.483539
L 957.771 231.038651
L 958.540114 230.175931
L 958.796486 228.178304
L 959.052857 228.504822
L 959.5656 226.057999
L 960.591086 214.970701
L 961.103829 228.509295
L 961.3602 228.188653
L 962.129314 223.543425
L 962.385686 223.940665
L 962.642057 223.76755
L 962.898429 225.890082
L 963.1548 226.395244
L 963.923914 229.055296
L 964.180286 230.594226
L 964.436657 229.931907
L 964.693029 229.63632
L 964.9494 228.596969
L 965.718514 227.997782
L 965.974886 228.653753
L 966.231257 228.216374
L 966.744 230.654645
L 967.513114 228.592332
L 967.769486 230.523328
L 968.025857 228.460574
L 968.282229 228.286582
L 968.5386 228.67422
L 969.564086 226.121923
L 970.3332 224.100254
L 971.358686 221.464139
L 971.615057 222.70494
L 971.871429 222.19448
L 972.1278 222.104439
L 972.896914 220.20297
L 973.153286 223.160193
L 973.666029 225.353897
L 974.691514 234.064832
L 974.947886 236.479303
L 975.204257 236.587847
L 975.717 236.381752
L 976.486114 234.344864
L 976.742486 235.199253
L 976.998857 237.340599
L 977.255229 237.46147
L 977.5116 236.65255
L 978.280714 239.130017
L 978.537086 235.367526
L 979.3062 232.372566
L 980.075314 228.412412
L 980.331686 226.498264
L 980.588057 229.376439
L 980.844429 230.557619
L 981.1008 234.829173
L 981.869914 234.058461
L 982.382657 231.447429
L 983.664514 237.204826
L 983.920886 239.83137
L 984.177257 238.753037
L 984.433629 239.700964
L 984.69 239.821382
L 985.459114 241.147446
L 985.715486 241.169899
L 985.971857 241.343184
L 986.228229 240.888528
L 986.4846 242.196213
L 987.253714 242.176409
L 987.510086 244.910448
L 987.766457 243.524614
L 988.022829 244.161438
L 988.2792 247.106816
L 989.048314 246.991929
L 989.304686 246.438385
L 989.561057 247.710684
L 989.817429 247.476262
L 990.0738 248.541761
L 990.842914 247.176584
L 991.099286 249.171344
L 991.355657 249.003482
L 991.612029 249.687286
L 991.8684 249.927731
L 992.637514 249.041498
L 992.893886 250.112291
L 993.150257 249.561809
L 993.406629 249.410767
L 993.663 249.701592
L 994.432114 251.439086
L 994.688486 250.315568
L 994.944857 250.406906
L 995.201229 250.125485
L 995.4576 251.159934
L 996.226714 252.539095
L 996.483086 252.447786
L 996.739457 253.113908
L 997.2522 248.256389
L 998.021314 247.341842
L 999.0468 255.274327
L 999.815914 259.107301
L 1000.072286 259.760728
L 1000.328657 260.761135
L 1000.585029 263.317628
L 1000.8414 264.073194
L 1001.866886 278.070772
L 1002.123257 272.543775
L 1002.379629 270.62183
L 1002.636 266.209413
L 1003.661486 261.960384
L 1003.917857 259.820259
L 1004.174229 260.597707
L 1004.4306 260.49657
L 1005.199714 262.872907
L 1005.456086 262.658583
L 1005.712457 261.110877
L 1005.968829 261.138818
L 1006.2252 260.551661
L 1006.994314 260.190684
L 1007.250686 257.926208
L 1007.507057 257.727515
L 1007.763429 258.18789
L 1008.0198 256.430625
L 1008.788914 259.525355
L 1009.045286 261.977422
L 1009.301657 262.676563
L 1009.8144 272.464426
L 1010.583514 280.369392
L 1010.839886 279.036445
L 1011.352629 272.892157
L 1011.609 268.730643
L 1012.890857 261.673308
L 1013.147229 261.683906
L 1013.4036 261.507877
L 1014.172714 261.655693
L 1014.429086 260.29477
L 1014.685457 259.999646
L 1014.941829 258.706397
L 1015.1982 258.16553
L 1016.480057 254.139792
L 1016.736429 253.987219
L 1017.761914 251.79663
L 1018.018286 253.522266
L 1018.274657 252.645448
L 1018.531029 254.710426
L 1018.7874 255.240414
L 1019.556514 252.355724
L 1019.812886 252.184288
L 1020.069257 251.61119
L 1020.325629 249.514286
L 1020.582 249.50427
L 1021.351114 246.767999
L 1021.607486 238.907538
L 1022.120229 233.972437
L 1022.3766 234.284164
L 1023.402086 231.010462
L 1023.658457 228.939993
L 1023.914829 229.102819
L 1024.1712 225.986341
L 1024.940314 227.856905
L 1025.196686 230.911276
L 1025.9658 234.786386
L 1026.734914 234.023685
L 1027.504029 232.351268
L 1027.7604 231.036794
L 1028.785886 223.72772
L 1029.042257 222.427845
L 1029.555 217.840688
L 1030.324114 211.566098
L 1030.836857 216.871375
L 1031.093229 218.933218
L 1031.3496 218.872523
L 1032.118714 219.589194
L 1032.375086 220.362367
L 1032.631457 218.664841
L 1032.887829 219.294751
L 1033.1442 219.107582
L 1033.913314 219.681884
L 1034.169686 219.299581
L 1034.682429 221.416548
L 1034.9388 223.66641
L 1035.707914 221.434465
L 1035.964286 219.879318
L 1036.220657 219.289826
L 1036.477029 217.371862
L 1036.7334 214.527185
L 1037.502514 212.76166
L 1037.758886 213.125994
L 1038.015257 211.264078
L 1038.271629 211.97738
L 1038.528 213.230916
L 1039.297114 214.744459
L 1039.809857 214.957801
L 1040.066229 213.713409
L 1040.3226 213.506784
L 1041.091714 212.150871
L 1041.348086 213.194975
L 1041.604457 212.013358
L 1041.860829 211.732892
L 1042.1172 211.171647
L 1042.886314 210.521444
L 1043.142686 210.607236
L 1043.399057 208.313068
L 1043.655429 208.7224
L 1043.9118 208.224716
L 1044.680914 207.692273
L 1045.193657 209.598928
L 1045.450029 208.736815
L 1045.7064 209.725993
L 1046.475514 206.995362
L 1046.731886 206.708752
L 1046.988257 207.056115
L 1047.244629 207.165561
L 1047.501 206.44383
L 1048.270114 203.508375
L 1048.526486 201.964971
L 1048.782857 197.8575
L 1049.039229 196.714286
L 1049.039229 196.714286
" clip-path="url(#pc347632fc4)" style="fill: none; stroke: #000000; stroke-linecap: square"/>
</g>
<g id="g_subtitle" transform="translate(-0.429 -1.071)">
<text style="font-size: 12px; font-family: 'DejaVu Sans'; text-anchor: middle" x="581.357143" y="37.628571" transform="rotate(-0 581.357143 37.628571)">Z-Score &gt;= 2.5 Signal Strategy - Data from 1994 to 2025 (31 years)</text>
</g>
<g id="g_info" transform="translate(0.107 0.214)">
<g id="patch_30">
<path d="M 87.231429 85.007179
L 268.106429 85.007179
Q 271.836429 85.007179 271.836429 81.277179
L 271.836429 49.203429
Q 271.836429 45.473429 268.106429 45.473429
L 87.231429 45.473429
Q 83.501429 45.473429 83.501429 49.203429
L 83.501429 81.277179
Q 83.501429 85.007179 87.231429 85.007179
z
" style="fill: #ffffff; opacity: 0.8; stroke: #000000; stroke-linejoin: miter"/>
</g>
<text style="font-size: 10px; font-family: 'DejaVu Sans'" transform="translate(87.0171 57.0162)">Number of Z-Score &gt;= 2.5: 63</text>
<text style="font-size: 10px; font-family: 'DejaVu Sans'" transform="translate(87.3386 68.8568)">Average Days Between Signals: 158</text>
<text style="font-size: 10px; font-family: 'DejaVu Sans'" transform="translate(87.0171 80.1618)">Current Days Since Last Signal: 1</text>
</g>
<g id="legend_1">
<g id="patch_31">
<path d="M 979.085179 82.164821
L 1089.071429 82.164821
Q 1091.071429 82.164821 1091.071429 80.164821
L 1091.071429 50.628571
Q 1091.071429 48.628571 1089.071429 48.628571
L 979.085179 48.628571
Q 977.085179 48.628571 977.085179 50.628571
L 977.085179 80.164821
Q 977.085179 82.164821 979.085179 82.164821
z
" style="fill: #ffffff; opacity: 0.8; stroke: #cccccc; stroke-linejoin: miter"/>
</g>
<g id="line2d_20">
<path d="M 981.425179 57.067009
L 991.425179 57.067009
L 1001.425179 57.067009
" style="fill: none; stroke: #000000; stroke-linecap: square"/>
</g>
<g id="g_leg1_0" transform="translate(0.750 -0.107)">
<text style="font-size: 10px; font-family: 'DejaVu Sans'; text-anchor: start" x="1009.425179" y="60.567009" transform="rotate(-0 1009.425179 60.567009)">Close Price</text>
</g>
<g id="PathCollection_2">
<g>
<use href="#m4cc03a8183" x="991.425179" y="73.120134" style="fill: #008000; fill-opacity: 0.7; stroke: #008000; stroke-opacity: 0.7; stroke-width: 1.5"/>
</g>
</g>
<g id="g_leg1_1" transform="translate(0.643 -0.536)">
<text style="font-size: 10px; font-family: 'DejaVu Sans'; text-anchor: start" x="1009.425179" y="75.745134" transform="rotate(-0 1009.425179 75.745134)">Z-Score &gt;= 2.5</text>
</g>
</g>
</g>
<g id="axes_2">
<g id="patch_32">
<path d="M 66.642857 462.171429
L 1096.071429 462.171429
L 1096.071429 322.371429
L 66.642857 322.371429
z
" style="fill: #ffffff"/>
</g>
<g id="matplotlib.axis_3">
<g id="xtick_12">
<g id="line2d_21">
<g>
<use href="#m846767134b" x="74.571429" y="462.171429" style="stroke: #000000; stroke-width: 0.8"/>
</g>
</g>
<g id="g_xtl_0" transform="translate(0.107 0.107)">
<text style="font-size: 10px; font-family: 'DejaVu Sans'; text-anchor: middle" x="74.571429" y="477.798438" transform="rotate(-0 74.571429 477.798438)">2015</text>
</g>
</g>
<g id="xtick_13">
<g id="line2d_22">
<g>
<use href="#m846767134b" x="168.147" y="462.171429" style="stroke: #000000; stroke-width: 0.8"/>
</g>
</g>
<g id="g_xtl_1" transform="translate(0.107 0.107)">
<text style="font-size: 10px; font-family: 'DejaVu Sans'; text-anchor: middle" x="168.147" y="477.798438" transform="rotate(-0 168.147 477.798438)">2016</text>
</g>
</g>
<g id="xtick_14">
<g id="line2d_23">
<g>
<use href="#m846767134b" x="261.978943" y="462.171429" style="stroke: #000000; stroke-width: 0.8"/>
</g>
</g>
<g id="g_xtl_2" transform="translate(-0.214 0.214)">
<text style="font-size: 10px; font-family: 'DejaVu Sans'; text-anchor: middle" x="261.978943" y="477.798438" transform="rotate(-0 261.978943 477.798438)">2017</text>
</g>
</g>
<g id="xtick_15">
<g id="line2d_24">
<g>
<use href="#m846767134b" x="355.554514" y="462.171429" style="stroke: #000000; stroke-width: 0.8"/>
</g>
</g>
<g id="g_xtl_3" transform="translate(-0.214 0.107)">
<text style="font-size: 10px; font-family: 'DejaVu Sans'; text-anchor: middle" x="355.554514" y="477.798438" transform="rotate(-0 355.554514 477.798438)">2018</text>
</g>
</g>
<g id="xtick_16">
<g id="line2d_25">
<g>
<use href="#m846767134b" x="449.130086" y="462.171429" style="stroke: #000000; stroke-width: 0.8"/>
</g>
</g>
<g id="g_xtl_4" transform="translate(-0.214 0.107)">
<text style="font-size: 10px; font-family: 'DejaVu Sans'; text-anchor: middle" x="449.130086" y="477.798438" transform="rotate(-0 449.130086 477.798438)">2019</text>
</g>
</g>
<g id="xtick_17">
<g id="line2d_26">
<g>
<use href="#m846767134b" x="542.705657" y="462.171429" style="stroke: #000000; stroke-width: 0.8"/>
</g>
</g>
<g id="g_xtl_5" transform="translate(-0.214 0.214)">
<text style="font-size: 10px; font-family: 'DejaVu Sans'; text-anchor: middle" x="542.705657" y="477.798438" transform="rotate(-0 542.705657 477.798438)">2020</text>
</g>
</g>
<g id="xtick_18">
<g id="line2d_27">
<g>
<use href="#m846767134b" x="636.5376" y="462.171429" style="stroke: #000000; stroke-width: 0.8"/>
</g>
</g>
<g id="g_xtl_6" transform="translate(0.214 0.107)">
<text style="font-size: 10px; font-family: 'DejaVu Sans'; text-anchor: middle" x="636.5376" y="477.798438" transform="rotate(-0 636.5376 477.798438)">2021</text>
</g>
</g>
<g id="xtick_19">
<g id="line2d_28">
<g>
<use href="#m846767134b" x="730.113171" y="462.171429" style="stroke: #000000; stroke-width: 0.8"/>
</g>
</g>
<g id="g_xtl_7" transform="translate(0.429 0.107)">
<text style="font-size: 10px; font-family: 'DejaVu Sans'; text-anchor: middle" x="730.113171" y="477.798438" transform="rotate(-0 730.113171 477.798438)">2022</text>
</g>
</g>
<g id="xtick_20">
<g id="line2d_29">
<g>
<use href="#m846767134b" x="823.688743" y="462.171429" style="stroke: #000000; stroke-width: 0.8"/>
</g>
</g>
<g id="g_xtl_8" transform="translate(0.429 0.214)">
<text style="font-size: 10px; font-family: 'DejaVu Sans'; text-anchor: middle" x="823.688743" y="477.798438" transform="rotate(-0 823.688743 477.798438)">2023</text>
</g>
</g>
<g id="xtick_21">
<g id="line2d_30">
<g>
<use href="#m846767134b" x="917.264314" y="462.171429" style="stroke: #000000; stroke-width: 0.8"/>
</g>
</g>
<g id="g_xtl_9" transform="translate(-0.321 0.107)">
<text style="font-size: 10px; font-family: 'DejaVu Sans'; text-anchor: middle" x="917.264314" y="477.798438" transform="rotate(-0 917.264314 477.798438)">2024</text>
</g>
</g>
<g id="xtick_22">
<g id="line2d_31">
<g>
<use href="#m846767134b" x="1011.096257" y="462.171429" style="stroke: #000000; stroke-width: 0.8"/>
</g>
</g>
<g id="g_xtl_10" transform="translate(0.214 0.214)">
<text style="font-size: 10px; font-family: 'DejaVu Sans'; text-anchor: middle" x="1011.096257" y="477.798438" transform="rotate(-0 1011.096257 477.798438)">2025</text>
</g>
</g>
<g id="g_xlabel" transform="translate(-0.107 -0.643)">
<text style="font-size: 10px; font-family: 'DejaVu Sans'; text-anchor: middle" x="581.357143" y="492.41942" transform="rotate(-0 581.357143 492.41942)">Date</text>
</g>
</g>
<g id="matplotlib.axis_4">
<g id="ytick_8">
<g id="line2d_32">
<g>
<use href="#me7e407bb2a" x="66.642857" y="461.314286" style="stroke: #000000; stroke-width: 0.8"/>
</g>
</g>
<g id="g_ytl2_0" transform="translate(-0.321 0.000)">
<text style="font-size: 10px; font-family: 'DejaVu Sans'; text-anchor: end" x="59.642857" y="465.113504" transform="rotate(-0 59.642857 465.113504)">−15</text>
</g>
</g>
<g id="ytick_9">
<g id="line2d_33">
<g>
<use href="#me7e407bb2a" x="66.642857" y="436.422857" style="stroke: #000000; stroke-width: 0.8"/>
</g>
</g>
<g id="g_ytl2_1" transform="translate(-0.429 0.964)">
<text style="font-size: 10px; font-family: 'DejaVu Sans'; text-anchor: end" x="59.642857" y="440.222076" transform="rotate(-0 59.642857 440.222076)">−10</text>
</g>
</g>
<g id="ytick_10">
<g id="line2d_34">
<g>
<use href="#me7e407bb2a" x="66.642857" y="411.531429" style="stroke: #000000; stroke-width: 0.8"/>
</g>
</g>
<g id="g_ytl2_2" transform="translate(-0.107 0.000)">
<text style="font-size: 10px; font-family: 'DejaVu Sans'; text-anchor: end" x="59.642857" y="415.330647" transform="rotate(-0 59.642857 415.330647)">−5</text>
</g>
</g>
<g id="ytick_11">
<g id="line2d_35">
<g>
<use href="#me7e407bb2a" x="66.642857" y="386.64" style="stroke: #000000; stroke-width: 0.8"/>
</g>
</g>
<g id="g_ytl2_3" transform="translate(0.643 0.107)">
<text style="font-size: 10px; font-family: 'DejaVu Sans'; text-anchor: end" x="59.642857" y="390.439219" transform="rotate(-0 59.642857 390.439219)">0</text>
</g>
</g>
<g id="ytick_12">
<g id="line2d_36">
<g>
<use href="#me7e407bb2a" x="66.642857" y="361.748571" style="stroke: #000000; stroke-width: 0.8"/>
</g>
</g>
<g id="g_ytl2_4" transform="translate(0.107 0.214)">
<text style="font-size: 10px; font-family: 'DejaVu Sans'; text-anchor: end" x="59.642857" y="365.54779" transform="rotate(-0 59.642857 365.54779)">5</text>
</g>
</g>
<g id="ytick_13">
<g id="line2d_37">
<g>
<use href="#me7e407bb2a" x="66.642857" y="336.857143" style="stroke: #000000; stroke-width: 0.8"/>
</g>
</g>
<g id="g_ytl2_5" transform="translate(0.000 0.107)">
<text style="font-size: 10px; font-family: 'DejaVu Sans'; text-anchor: end" x="59.642857" y="340.656362" transform="rotate(-0 59.642857 340.656362)">10</text>
</g>
</g>
<g id="g_ylabel2" transform="translate(0.321 0.536)">
<text style="font-size: 10px; font-family: 'DejaVu Sans'; text-anchor: middle" x="31.944196" y="393.385714" transform="rotate(-90 31.944196 393.385714)">Z-Score</text>
</g>
</g>
<g id="line2d_38">
<path d="M 112.5144 399.583543
L 112.770771 385.138917
L 113.027143 390.703618
L 113.283514 399.583543
L 113.539886 399.445
L 113.796257 385.360343
L 114.052629 389.551883
L 114.309 386.336849
L 114.565371 385.544696
L 114.821743 387.713029
L 115.078114 386.296391
L 115.334486 393.858849
L 115.590857 381.70152
L 115.847229 390.66845
L 116.1036 395.077438
L 116.359971 390.083061
L 116.616343 389.501155
L 116.872714 384.759945
L 117.129086 389.48879
L 117.385457 385.738327
L 117.641829 389.378716
L 117.8982 379.683241
L 118.154571 384.902375
L 118.410943 380.624328
L 118.667314 389.77288
L 118.923686 384.344651
L 119.180057 389.790247
L 119.436429 384.555088
L 119.6928 384.134777
L 119.949171 392.363365
L 120.205543 390.862476
L 120.461914 390.929503
L 120.718286 392.482475
L 120.974657 389.447102
L 121.231029 390.309686
L 121.4874 392.132891
L 121.743771 386.178193
L 122.000143 384.328832
L 122.256514 392.093837
L 122.769257 386.54276
L 123.025629 387.644527
L 123.282 389.8722
L 123.538371 382.929775
L 123.794743 382.946511
L 124.051114 383.619731
L 124.307486 387.524994
L 124.563857 377.541796
L 124.820229 379.030751
L 125.0766 388.336666
L 125.332971 387.119232
L 125.589343 381.691049
L 125.845714 389.686017
L 126.102086 385.059747
L 126.358457 386.433509
L 126.614829 389.175217
L 126.8712 387.444552
L 127.127571 392.310184
L 127.383943 388.570706
L 127.640314 397.592229
L 127.896686 396.949516
L 128.153057 381.271253
L 128.409429 382.14977
L 128.6658 385.516132
L 128.922171 382.967724
L 129.178543 382.102639
L 129.691286 383.45924
L 129.947657 389.481175
L 130.204029 385.385699
L 130.716771 390.187323
L 130.973143 390.01152
L 131.229514 385.32009
L 131.485886 383.453099
L 131.742257 390.763982
L 131.998629 381.077299
L 132.255 381.733137
L 132.511371 387.866209
L 132.767743 388.116314
L 133.024114 386.868281
L 133.280486 383.542016
L 133.536857 387.860678
L 133.793229 389.993417
L 134.0496 385.589983
L 134.305971 392.95103
L 134.562343 370.211657
L 134.818714 370.288433
L 135.075086 385.708023
L 135.331457 384.210942
L 135.587829 385.141532
L 135.8442 384.292023
L 136.100571 386.144875
L 136.356943 399.085714
L 136.613314 398.510614
L 136.869686 386.916252
L 137.126057 381.758953
L 137.382429 379.972605
L 137.895171 389.865698
L 138.151543 389.825022
L 138.407914 387.471747
L 138.664286 380.280329
L 138.920657 385.125556
L 139.177029 386.877177
L 139.4334 389.866555
L 139.689771 383.067523
L 140.202514 386.855548
L 140.458886 386.14721
L 140.715257 378.390939
L 140.971629 387.430491
L 141.228 378.479674
L 141.484371 381.149997
L 141.740743 386.402306
L 141.997114 382.545227
L 142.509857 390.178984
L 142.766229 387.805496
L 143.0226 390.460946
L 143.278971 384.530623
L 143.535343 386.579833
L 143.791714 384.433237
L 144.048086 383.310044
L 144.304457 398.390869
L 144.560829 385.345235
L 144.8172 394.0966
L 145.073571 385.95307
L 145.329943 390.488779
L 145.842686 380.781903
L 146.099057 393.88252
L 146.355429 385.839228
L 146.6118 386.951286
L 146.868171 393.840743
L 147.124543 384.313129
L 147.637286 388.395333
L 147.893657 389.056598
L 148.150029 377.786169
L 148.4064 387.933954
L 148.662771 391.919398
L 148.919143 389.153035
L 149.175514 387.677036
L 149.431886 387.76013
L 149.688257 386.87315
L 149.944629 389.863585
L 150.201 399.583543
L 150.457371 398.896878
L 150.713743 391.32295
L 151.226486 387.969187
L 151.482857 383.841836
L 151.739229 384.970995
L 151.9956 387.742706
L 152.508343 385.844581
L 152.764714 379.029378
L 153.021086 388.874411
L 153.277457 384.930352
L 153.533829 383.902559
L 153.7902 390.322881
L 154.046571 385.865114
L 154.302943 385.961158
L 154.559314 388.43125
L 154.815686 384.410273
L 155.072057 382.634834
L 155.328429 382.256763
L 155.5848 387.370883
L 155.841171 385.882748
L 156.097543 377.924265
L 156.353914 390.541778
L 156.610286 385.855721
L 156.866657 383.364044
L 157.123029 386.059584
L 157.3794 384.028959
L 157.635771 385.934292
L 158.148514 380.940085
L 158.404886 387.641637
L 158.661257 385.76845
L 158.917629 386.910626
L 159.174 388.693976
L 159.430371 386.739997
L 159.686743 392.294886
L 159.943114 383.001742
L 160.199486 378.450079
L 160.455857 378.758433
L 160.712229 380.833171
L 160.9686 390.820888
L 161.224971 380.102581
L 161.481343 389.626089
L 161.737714 386.870466
L 161.994086 378.181582
L 162.250457 391.723823
L 162.506829 382.868855
L 163.275943 390.413578
L 163.532314 384.821855
L 163.788686 388.619829
L 164.045057 382.181992
L 164.301429 381.520864
L 164.5578 392.324461
L 164.814171 388.783409
L 165.070543 387.90307
L 165.326914 391.042696
L 165.583286 390.969493
L 165.839657 386.299593
L 166.096029 387.475174
L 166.3524 393.5629
L 166.865143 384.31288
L 167.121514 391.893629
L 167.377886 390.329075
L 167.634257 380.40787
L 167.890629 381.487641
L 168.147 392.854674
L 168.403371 392.140619
L 168.659743 385.185958
L 168.916114 391.250335
L 169.172486 387.619163
L 169.428857 388.361447
L 169.685229 384.622514
L 169.9416 395.672923
L 170.197971 394.339626
L 170.454343 390.904443
L 170.710714 383.062707
L 171.223457 392.541129
L 171.479829 384.900566
L 171.7362 384.194653
L 171.992571 387.516903
L 172.248943 398.090057
L 172.505314 397.921931
L 173.018057 367.224686
L 173.274429 367.331655
L 173.5308 386.792263
L 173.787171 387.825857
L 174.043543 389.57367
L 174.299914 385.804964
L 174.556286 387.606957
L 174.812657 387.414807
L 175.069029 383.454703
L 175.3254 384.898178
L 175.581771 383.381124
L 175.838143 392.435367
L 176.094514 384.618634
L 176.350886 388.709462
L 176.607257 389.478984
L 176.863629 389.524578
L 177.12 382.549201
L 177.376371 383.908465
L 177.632743 389.012847
L 177.889114 390.614498
L 178.145486 386.592094
L 178.401857 388.211939
L 178.658229 381.451279
L 178.9146 391.290501
L 179.170971 373.198629
L 179.427343 373.797937
L 179.683714 386.604609
L 179.940086 386.193381
L 180.196457 383.977828
L 180.452829 378.75921
L 180.7092 387.876819
L 180.965571 388.628774
L 181.221943 393.262492
L 181.478314 385.75076
L 181.734686 383.504902
L 181.991057 387.607797
L 182.247429 382.481666
L 182.5038 386.529235
L 182.760171 381.213679
L 183.272914 390.501466
L 183.529286 389.023531
L 183.785657 392.114965
L 184.042029 393.062471
L 184.2984 385.684691
L 184.554771 383.503922
L 184.811143 379.702447
L 185.067514 386.836168
L 185.323886 387.454051
L 185.580257 390.396499
L 185.836629 383.25555
L 186.093 385.327683
L 186.349371 388.693195
L 186.605743 384.343686
L 186.862114 384.822785
L 187.118486 392.605886
L 187.374857 384.245837
L 187.8876 388.015845
L 188.143971 387.994252
L 188.400343 380.871887
L 188.656714 381.677234
L 188.913086 380.591997
L 189.169457 390.408332
L 189.425829 388.698877
L 189.6822 384.027186
L 189.938571 390.207924
L 190.194943 388.717803
L 190.451314 391.643083
L 190.707686 381.495412
L 191.220429 385.318739
L 191.4768 386.034209
L 191.733171 387.793832
L 191.989543 387.680413
L 192.245914 385.041712
L 192.502286 388.589923
L 192.758657 383.203706
L 193.015029 388.003469
L 193.2714 389.225963
L 193.527771 383.046947
L 193.784143 387.03582
L 194.040514 385.063385
L 194.296886 387.761344
L 194.553257 392.467931
L 194.809629 385.224834
L 195.066 389.9722
L 195.322371 383.948526
L 195.578743 390.324004
L 195.835114 391.0445
L 196.091486 385.913357
L 196.347857 385.645177
L 196.604229 386.416248
L 196.8606 389.226107
L 197.116971 384.719533
L 197.373343 389.756184
L 197.629714 387.609872
L 197.886086 388.313663
L 198.142457 387.405319
L 198.398829 384.832594
L 198.6552 387.931328
L 198.911571 385.472603
L 199.167943 385.166567
L 199.424314 390.51564
L 199.680686 389.504992
L 199.937057 387.58551
L 200.193429 388.152976
L 200.4498 385.844186
L 200.706171 391.802173
L 200.962543 384.825005
L 201.218914 384.776942
L 201.731657 390.194261
L 201.988029 386.624764
L 202.2444 388.085088
L 202.500771 385.087721
L 202.757143 386.862248
L 203.013514 384.802612
L 203.269886 387.697085
L 203.526257 383.127621
L 203.782629 392.304603
L 204.295371 385.501887
L 204.551743 390.14803
L 204.808114 384.782699
L 205.064486 389.592277
L 205.320857 386.404133
L 205.577229 388.95171
L 206.089971 386.175782
L 206.602714 387.703674
L 206.859086 380.093162
L 207.115457 386.615038
L 207.371829 389.509626
L 207.6282 383.852997
L 207.884571 384.161948
L 208.140943 383.052671
L 208.397314 381.383763
L 208.653686 389.356364
L 208.910057 383.389885
L 209.166429 383.234072
L 209.4228 386.638967
L 209.679171 385.980686
L 209.935543 394.184322
L 210.448286 382.081823
L 210.704657 391.217125
L 211.2174 385.894336
L 211.473771 385.088572
L 211.730143 382.356664
L 211.986514 391.203751
L 212.242886 386.538043
L 212.499257 384.485925
L 212.755629 389.94948
L 213.012 386.744535
L 213.268371 381.347181
L 213.524743 382.697439
L 213.781114 385.02325
L 214.037486 394.191278
L 214.293857 387.040397
L 214.550229 385.376636
L 214.8066 387.713761
L 215.062971 386.863259
L 215.319343 376.935856
L 215.575714 387.422064
L 215.832086 390.064376
L 216.088457 385.766786
L 216.344829 387.802507
L 216.6012 387.733356
L 216.857571 386.935083
L 217.113943 384.049477
L 217.370314 385.815039
L 217.626686 390.878221
L 218.139429 384.959316
L 218.3958 388.314907
L 218.652171 382.317217
L 218.908543 383.715492
L 219.164914 390.243574
L 219.677657 379.113387
L 219.934029 380.491939
L 220.1904 386.847819
L 220.446771 383.227462
L 220.703143 389.258351
L 220.959514 392.312738
L 221.215886 384.477971
L 221.472257 385.734076
L 221.728629 384.831729
L 221.985 386.726932
L 222.241371 385.462401
L 222.497743 388.585989
L 222.754114 384.816936
L 223.010486 383.452657
L 223.266857 386.850131
L 223.523229 383.75659
L 223.7796 393.055655
L 224.035971 389.35993
L 224.292343 381.223354
L 224.548714 380.16675
L 224.805086 385.737627
L 225.061457 387.017983
L 225.317829 390.887257
L 225.5742 385.489456
L 225.830571 384.228224
L 226.086943 391.286204
L 226.343314 384.962823
L 226.856057 385.252481
L 227.112429 390.177786
L 227.3688 384.990294
L 227.625171 391.294099
L 227.881543 381.860288
L 228.394286 390.212958
L 228.650657 382.590291
L 228.907029 383.4315
L 229.1634 388.458366
L 229.419771 380.697962
L 229.676143 389.392509
L 230.188886 383.454122
L 230.445257 393.135771
L 230.701629 383.787329
L 230.958 386.821608
L 231.214371 386.685981
L 231.470743 389.725917
L 231.727114 385.671487
L 231.983486 390.033584
L 232.239857 389.529571
L 232.496229 387.936413
L 232.7526 390.303843
L 233.008971 381.854441
L 233.265343 390.594164
L 233.778086 387.568626
L 234.034457 386.629778
L 234.290829 384.368893
L 234.5472 384.369062
L 234.803571 387.482707
L 235.059943 387.707477
L 235.316314 386.539803
L 235.572686 384.02243
L 235.829057 384.264081
L 236.085429 388.414825
L 236.3418 394.379181
L 236.598171 378.113195
L 236.854543 383.080423
L 237.110914 385.659153
L 237.367286 385.323155
L 237.623657 388.663142
L 237.880029 390.461209
L 238.1364 387.856515
L 238.392771 387.499344
L 238.649143 389.006755
L 238.905514 392.345425
L 239.418257 384.309151
L 239.674629 388.7326
L 239.931 386.544959
L 240.187371 394.657215
L 240.443743 387.470502
L 240.700114 387.094994
L 240.956486 391.032349
L 241.212857 392.886746
L 241.469229 385.216249
L 241.7256 389.498774
L 241.981971 385.003184
L 242.238343 387.998895
L 242.494714 384.571198
L 243.007457 391.589731
L 243.263829 386.913895
L 243.5202 387.710444
L 243.776571 384.488048
L 244.032943 388.061267
L 244.289314 387.939571
L 244.545686 383.811387
L 244.802057 382.734768
L 245.058429 384.131116
L 245.3148 383.076248
L 245.571171 385.227977
L 245.827543 384.300567
L 246.083914 384.008644
L 246.596657 386.470845
L 246.853029 386.277273
L 247.1094 380.394674
L 247.365771 386.605188
L 247.622143 397.0944
L 247.878514 396.680816
L 248.134886 386.723682
L 248.391257 386.037757
L 248.904 391.460484
L 249.160371 385.911322
L 249.416743 390.82991
L 249.673114 385.96476
L 249.929486 386.280887
L 250.442229 382.042088
L 250.954971 388.121871
L 251.211343 389.866665
L 251.467714 388.74607
L 251.724086 386.5316
L 251.980457 392.146166
L 252.236829 386.425649
L 252.4932 386.673598
L 252.749571 384.917572
L 253.005943 387.552365
L 253.262314 386.365023
L 253.518686 388.498089
L 253.775057 387.828729
L 254.031429 391.168867
L 254.544171 383.181136
L 254.800543 386.258393
L 255.056914 385.802579
L 255.313286 388.992453
L 255.569657 383.360118
L 255.826029 388.458975
L 256.0824 384.8183
L 256.338771 386.397317
L 256.595143 388.917211
L 256.851514 384.188451
L 257.107886 386.602338
L 257.364257 386.225047
L 257.620629 385.589865
L 258.133371 387.490638
L 258.389743 385.573991
L 258.646114 387.584496
L 258.902486 386.491348
L 259.415229 390.055199
L 259.6716 388.171084
L 259.927971 387.823741
L 260.184343 386.603627
L 260.440714 383.769818
L 260.697086 390.688742
L 260.953457 386.310307
L 261.209829 392.390398
L 261.4662 389.205995
L 261.722571 387.908942
L 261.978943 391.937514
L 262.235314 391.38597
L 262.491686 386.248224
L 262.748057 386.438074
L 263.004429 386.951973
L 263.2608 388.787899
L 263.517171 380.961871
L 263.773543 387.111758
L 264.029914 389.077395
L 264.286286 382.025691
L 264.799029 387.863323
L 265.0554 382.670569
L 265.311771 386.115773
L 265.568143 384.640131
L 265.824514 385.887891
L 266.080886 390.05265
L 266.337257 383.249008
L 266.85 390.078872
L 267.106371 389.276859
L 267.362743 383.265852
L 267.619114 387.961882
L 267.875486 386.479619
L 268.131857 384.343491
L 268.388229 386.19848
L 268.6446 392.070011
L 268.900971 384.410163
L 269.157343 383.27065
L 269.413714 383.698051
L 269.670086 380.955085
L 269.926457 385.343077
L 270.182829 384.034053
L 270.4392 381.350834
L 270.695571 387.638612
L 270.951943 380.852425
L 271.208314 380.889567
L 271.464686 384.142676
L 271.721057 380.147356
L 271.977429 383.65389
L 272.2338 389.941557
L 272.490171 382.683378
L 272.746543 385.517952
L 273.002914 385.193577
L 273.259286 386.109061
L 273.515657 382.114951
L 273.772029 384.801
L 274.0284 388.855555
L 274.284771 385.075924
L 274.541143 384.135129
L 274.797514 389.12173
L 275.053886 388.050056
L 275.310257 387.774767
L 275.566629 388.404257
L 276.079371 383.938112
L 276.335743 381.731821
L 276.592114 383.56308
L 276.848486 384.169257
L 277.361229 383.500126
L 277.6176 387.460877
L 277.873971 385.042565
L 278.643086 387.769927
L 278.899457 387.914475
L 279.155829 387.307163
L 279.4122 389.809284
L 279.668571 385.333587
L 279.924943 386.695804
L 280.181314 386.377402
L 280.437686 385.832022
L 280.694057 384.91562
L 280.950429 388.056085
L 281.2068 386.900495
L 281.463171 390.670576
L 281.719543 392.413964
L 281.975914 391.111448
L 282.232286 383.136982
L 282.488657 390.54351
L 282.745029 385.620243
L 283.0014 383.361399
L 283.257771 387.613692
L 283.514143 383.289168
L 283.770514 382.758942
L 284.026886 384.604367
L 284.283257 381.302486
L 284.796 388.286039
L 285.052371 385.438577
L 285.565114 389.775603
L 285.821486 389.636093
L 286.077857 380.851761
L 286.334229 388.070887
L 286.5906 386.689399
L 286.846971 388.380594
L 287.103343 386.256104
L 287.359714 387.246756
L 287.616086 387.65839
L 287.872457 389.857282
L 288.128829 390.490075
L 288.641571 385.935952
L 288.897943 381.458918
L 289.154314 384.184121
L 289.410686 382.285784
L 289.667057 385.530173
L 289.923429 386.809029
L 290.1798 389.704477
L 290.436171 386.596834
L 290.692543 391.949944
L 291.205286 382.500074
L 291.461657 385.731564
L 291.718029 383.675404
L 292.230771 390.183215
L 292.487143 387.844621
L 292.743514 387.67794
L 292.999886 383.2122
L 293.256257 381.249499
L 293.512629 388.693369
L 294.025371 387.005893
L 294.281743 387.618446
L 294.538114 390.206318
L 294.794486 386.313237
L 295.050857 385.525936
L 295.307229 385.502222
L 295.5636 390.006949
L 295.819971 386.897188
L 296.076343 391.915379
L 296.332714 383.709432
L 296.589086 389.671691
L 296.845457 387.364503
L 297.3582 388.234194
L 297.614571 389.635798
L 297.870943 391.851663
L 298.127314 381.008123
L 298.383686 385.810102
L 298.640057 385.718803
L 298.896429 379.306845
L 299.1528 386.88204
L 299.409171 384.489588
L 299.665543 386.46017
L 299.921914 382.304569
L 300.178286 384.752574
L 300.434657 385.452634
L 300.691029 387.446747
L 300.9474 385.54057
L 301.203771 382.394061
L 301.460143 393.883977
L 301.716514 386.96508
L 301.972886 387.893737
L 302.229257 387.511381
L 302.485629 393.094445
L 302.742 384.121253
L 302.998371 389.36078
L 303.254743 387.264158
L 303.511114 388.115133
L 303.767486 391.73875
L 304.023857 387.93529
L 304.280229 392.098802
L 304.792971 387.448078
L 305.049343 386.551551
L 305.305714 386.386831
L 305.562086 386.952669
L 305.818457 380.386393
L 306.3312 389.920706
L 306.587571 388.189063
L 306.843943 388.34406
L 307.100314 387.045275
L 307.356686 388.30537
L 307.613057 388.96654
L 307.869429 381.543827
L 308.1258 386.39427
L 308.382171 387.546986
L 308.894914 387.216758
L 309.151286 382.29689
L 309.407657 385.070161
L 309.664029 383.307186
L 309.9204 395.010534
L 310.176771 385.557465
L 310.689514 380.103956
L 311.202257 391.891484
L 311.458629 384.62413
L 311.971371 392.098723
L 312.227743 388.502075
L 312.484114 383.038863
L 312.740486 382.576097
L 312.996857 384.011372
L 313.253229 390.153794
L 313.5096 377.869224
L 313.765971 390.743368
L 314.022343 386.787718
L 314.278714 391.908337
L 314.535086 381.435939
L 314.791457 384.782204
L 315.047829 382.926059
L 315.3042 386.152118
L 315.560571 386.756006
L 315.816943 385.861444
L 316.073314 393.509624
L 316.329686 382.695046
L 316.586057 382.715484
L 316.842429 388.064766
L 317.355171 385.401384
L 317.611543 380.827291
L 317.867914 384.923761
L 318.380657 388.230165
L 318.637029 391.40969
L 319.149771 386.30287
L 319.406143 387.279363
L 319.662514 386.276567
L 319.918886 384.262349
L 320.175257 385.261948
L 320.431629 385.697154
L 320.688 384.584027
L 320.944371 385.976929
L 321.200743 386.599008
L 321.457114 385.144067
L 321.713486 391.378182
L 321.969857 383.008318
L 322.226229 390.409049
L 322.4826 384.039143
L 322.738971 386.471974
L 322.995343 383.415978
L 323.508086 388.922185
L 323.764457 383.540047
L 324.020829 386.0242
L 324.533571 386.281686
L 324.789943 383.720268
L 325.046314 384.293706
L 325.302686 385.908809
L 325.559057 390.486706
L 325.815429 387.548683
L 326.0718 386.251525
L 326.328171 382.061087
L 326.584543 385.60552
L 326.840914 386.729542
L 327.097286 383.834411
L 327.353657 386.782617
L 327.610029 386.575466
L 327.8664 386.074463
L 328.122771 390.526128
L 328.379143 383.785466
L 328.891886 387.316644
L 329.148257 390.110294
L 329.661 382.080347
L 329.917371 388.506776
L 330.173743 390.084476
L 330.430114 384.944136
L 330.686486 392.151142
L 330.942857 394.189279
L 331.199229 387.928271
L 331.4556 388.71744
L 331.711971 387.336321
L 331.968343 388.167601
L 332.224714 385.40475
L 332.737457 388.260165
L 332.993829 387.879891
L 333.2502 384.432968
L 333.506571 383.151027
L 333.762943 383.219478
L 334.019314 383.990811
L 334.275686 397.033128
L 334.532057 390.015272
L 335.0448 385.767673
L 335.301171 391.921236
L 335.557543 381.388527
L 336.070286 388.749975
L 336.326657 385.798869
L 336.8394 389.376759
L 337.095771 384.441702
L 337.608514 391.926592
L 338.121257 386.832928
L 338.377629 390.137715
L 338.634 382.36067
L 338.890371 389.888858
L 339.146743 381.101127
L 339.403114 383.697638
L 339.659486 389.247142
L 340.172229 383.196899
L 340.684971 389.828943
L 340.941343 386.144131
L 341.197714 380.774297
L 341.454086 390.872793
L 341.710457 384.703993
L 341.966829 386.398261
L 342.2232 386.807012
L 342.479571 387.640177
L 342.735943 387.44809
L 342.992314 383.271013
L 343.248686 384.637078
L 343.505057 389.346817
L 343.761429 382.118608
L 344.0178 390.004584
L 344.274171 384.69708
L 344.530543 386.00304
L 344.786914 383.489179
L 345.043286 385.598773
L 345.299657 383.636674
L 345.556029 386.517009
L 345.8124 383.757249
L 346.068771 385.475317
L 346.325143 380.854672
L 346.581514 388.336401
L 346.837886 383.415727
L 347.094257 385.304573
L 347.350629 386.047251
L 347.607 387.883991
L 347.863371 385.423979
L 348.119743 389.897874
L 348.376114 389.844352
L 348.632486 384.552958
L 348.888857 390.425799
L 349.145229 382.661856
L 349.4016 387.153768
L 349.657971 385.851316
L 349.914343 386.243876
L 350.170714 385.300313
L 350.427086 387.184742
L 350.683457 387.424475
L 350.939829 386.769102
L 351.1962 383.865766
L 351.708943 383.483876
L 351.965314 385.674037
L 352.221686 386.899427
L 352.478057 390.101686
L 352.734429 385.096151
L 352.9908 384.638839
L 353.247171 387.393099
L 353.503543 384.590692
L 353.759914 383.459466
L 354.016286 386.231495
L 354.272657 383.976254
L 354.529029 385.75856
L 354.7854 390.689462
L 355.041771 387.633469
L 355.298143 387.494541
L 355.554514 385.234752
L 355.810886 388.496865
L 356.067257 387.510158
L 356.323629 388.77489
L 356.58 386.546374
L 356.836371 386.283552
L 357.092743 384.022847
L 357.349114 384.365151
L 357.605486 385.99646
L 357.861857 385.822945
L 358.118229 386.147671
L 358.3746 386.125155
L 358.630971 382.457986
L 358.887343 392.744432
L 359.143714 386.909998
L 359.400086 385.584876
L 359.656457 383.260785
L 359.912829 389.431542
L 360.1692 385.513823
L 360.425571 384.121652
L 360.938314 391.458658
L 361.194686 387.45183
L 361.451057 389.76609
L 361.707429 384.651188
L 361.9638 388.888117
L 362.220171 381.034645
L 362.476543 385.97477
L 362.732914 388.769509
L 362.989286 387.944651
L 363.245657 389.560322
L 363.7584 382.258602
L 364.014771 387.030581
L 364.271143 383.640369
L 364.527514 389.343107
L 364.783886 385.36373
L 365.040257 379.288415
L 365.296629 390.751957
L 365.553 382.67265
L 365.809371 382.711791
L 366.065743 392.376469
L 366.578486 389.180054
L 366.834857 383.549683
L 367.091229 387.6563
L 367.3476 386.915039
L 367.603971 384.35644
L 367.860343 386.068972
L 368.116714 385.76375
L 368.373086 387.314193
L 368.629457 383.486308
L 368.885829 388.467073
L 369.1422 381.988319
L 369.398571 387.33429
L 369.654943 388.613926
L 369.911314 384.688534
L 370.167686 385.270562
L 370.424057 391.675262
L 370.680429 385.86239
L 370.9368 389.974366
L 371.193171 388.736541
L 371.449543 384.175388
L 371.705914 389.038895
L 371.962286 385.295664
L 372.218657 387.545079
L 372.475029 380.80801
L 372.7314 386.706098
L 372.987771 390.020909
L 373.500514 389.121931
L 373.756886 386.072334
L 374.013257 386.446297
L 374.269629 383.62652
L 374.526 386.008178
L 374.782371 386.132317
L 375.038743 385.684686
L 375.295114 386.801738
L 375.807857 384.400595
L 376.064229 384.252443
L 376.576971 391.014035
L 377.089714 385.734992
L 377.346086 393.006547
L 377.602457 387.678857
L 377.858829 385.324186
L 378.1152 387.942904
L 378.371571 389.285644
L 378.627943 381.671755
L 378.884314 382.858557
L 379.140686 387.140134
L 379.397057 383.014143
L 379.653429 383.157703
L 379.9098 389.263299
L 380.166171 402.072686
L 380.422543 402.025168
L 380.678914 387.236609
L 380.935286 389.679745
L 381.191657 386.248228
L 381.448029 390.179618
L 381.960771 383.784945
L 382.217143 385.983503
L 382.473514 387.182926
L 382.729886 382.324751
L 382.986257 388.946671
L 383.242629 383.957253
L 383.499 387.317682
L 383.755371 385.886511
L 384.011743 386.401163
L 384.268114 386.124175
L 384.524486 386.643797
L 384.780857 388.79784
L 385.037229 388.210938
L 385.2936 385.0943
L 385.549971 386.812054
L 385.806343 389.812058
L 386.062714 388.499959
L 386.319086 388.340126
L 386.575457 386.663358
L 386.831829 386.000176
L 387.0882 386.26703
L 387.344571 388.236587
L 387.600943 386.489175
L 388.113686 393.343029
L 388.370057 386.673873
L 388.626429 390.843033
L 388.8828 388.932021
L 389.139171 389.869543
L 389.395543 384.651413
L 389.651914 389.888682
L 389.908286 385.788796
L 390.421029 390.011406
L 390.6774 390.841224
L 390.933771 385.415686
L 391.190143 385.569482
L 391.446514 384.45141
L 391.702886 381.781752
L 391.959257 385.73597
L 392.215629 385.728367
L 392.472 386.946512
L 392.728371 386.264623
L 393.241114 389.031874
L 393.497486 381.198708
L 393.753857 391.289705
L 394.010229 385.943867
L 394.2666 385.488505
L 394.522971 386.216994
L 394.779343 389.022343
L 395.035714 387.07221
L 395.292086 387.697624
L 395.548457 389.123367
L 395.804829 386.723488
L 396.0612 387.630519
L 396.317571 387.963463
L 396.573943 384.991884
L 396.830314 389.082394
L 397.086686 385.623463
L 397.343057 388.092653
L 397.599429 385.554228
L 397.8558 386.436008
L 398.112171 385.937287
L 398.368543 389.632436
L 398.624914 388.893555
L 398.881286 389.179401
L 399.394029 384.398187
L 399.6504 383.495794
L 399.906771 388.145857
L 400.163143 386.383856
L 400.419514 391.665103
L 400.675886 393.042764
L 400.932257 389.103083
L 401.188629 388.708438
L 401.445 391.582568
L 401.701371 391.837414
L 401.957743 385.195062
L 402.470486 391.011888
L 402.726857 381.124689
L 402.983229 386.256208
L 403.2396 387.443394
L 403.495971 385.085277
L 403.752343 388.552137
L 404.008714 382.462602
L 404.265086 390.669164
L 404.521457 390.077267
L 404.777829 387.033531
L 405.0342 388.556902
L 405.290571 383.136986
L 405.546943 390.613618
L 406.316057 385.319592
L 406.572429 384.12417
L 406.8288 385.796086
L 407.085171 380.712383
L 407.341543 388.047579
L 407.854286 384.532445
L 408.110657 387.42862
L 408.367029 387.349496
L 408.879771 388.187205
L 409.136143 389.18513
L 409.392514 387.889174
L 409.648886 390.048945
L 409.905257 385.897601
L 410.161629 390.189435
L 410.418 382.390684
L 410.674371 383.146972
L 410.930743 399.583543
L 411.187114 399.162399
L 411.443486 387.951385
L 411.699857 384.408586
L 411.956229 386.381457
L 412.2126 385.614121
L 412.468971 388.16214
L 412.725343 384.59621
L 412.981714 378.176914
L 413.238086 378.582111
L 413.494457 390.55772
L 414.0072 385.649894
L 414.263571 387.640083
L 414.519943 387.561201
L 414.776314 385.219611
L 415.032686 386.876929
L 415.289057 384.288111
L 415.545429 391.464392
L 415.8018 385.603775
L 416.058171 385.791508
L 416.314543 389.439954
L 416.570914 389.026244
L 416.827286 385.197343
L 417.083657 388.633596
L 417.340029 387.83665
L 417.5964 385.700445
L 417.852771 387.345425
L 418.109143 385.826628
L 418.365514 388.500076
L 418.878257 384.498139
L 419.134629 386.121856
L 419.391 390.86272
L 419.647371 385.485077
L 419.903743 386.630662
L 420.160114 388.517603
L 420.416486 383.966623
L 420.672857 390.178679
L 420.929229 383.044471
L 421.1856 387.99759
L 421.441971 383.378932
L 421.954714 389.532388
L 422.211086 386.556169
L 422.723829 385.625623
L 422.9802 384.530829
L 423.236571 388.645089
L 423.492943 385.709293
L 423.749314 385.235549
L 424.262057 388.848025
L 424.518429 389.083082
L 424.7748 384.884422
L 425.031171 384.72941
L 425.287543 388.979779
L 425.543914 390.421857
L 425.800286 383.439931
L 426.056657 390.949435
L 426.313029 386.348901
L 426.825771 392.540406
L 427.082143 386.428625
L 427.338514 387.384206
L 427.594886 382.437936
L 427.851257 379.811789
L 428.107629 387.374995
L 428.364 383.774465
L 428.620371 383.656235
L 428.876743 388.432792
L 429.133114 389.593373
L 429.389486 381.437624
L 429.645857 388.045423
L 429.902229 386.916888
L 430.1586 387.837005
L 430.414971 387.255529
L 430.671343 388.693235
L 430.927714 384.464559
L 431.184086 382.754965
L 431.440457 387.910885
L 431.696829 390.78108
L 431.9532 386.656786
L 432.209571 391.424463
L 432.465943 388.853454
L 432.978686 379.534777
L 433.491429 389.945163
L 433.7478 384.530218
L 434.004171 393.620421
L 434.516914 382.431578
L 434.773286 384.631785
L 435.029657 390.873049
L 435.286029 391.553867
L 435.5424 384.277399
L 436.055143 388.505001
L 436.311514 385.617451
L 436.824257 391.820536
L 437.080629 384.787217
L 437.337 388.451722
L 437.849743 390.421308
L 438.106114 386.123093
L 438.362486 388.973521
L 438.618857 385.116232
L 438.875229 387.479291
L 439.1316 384.090913
L 439.387971 387.651687
L 439.644343 388.306849
L 439.900714 391.55117
L 440.157086 389.297352
L 440.669829 379.955411
L 440.9262 389.712415
L 441.182571 389.178073
L 441.438943 385.999469
L 441.695314 385.585585
L 441.951686 388.475461
L 442.208057 386.584232
L 442.464429 390.404513
L 442.977171 384.631108
L 443.233543 382.956911
L 443.489914 387.147432
L 443.746286 387.383768
L 444.259029 384.353165
L 444.5154 385.701766
L 444.771771 388.408116
L 445.028143 386.011926
L 445.284514 384.758153
L 445.540886 388.235598
L 445.797257 389.311443
L 446.053629 385.835168
L 446.31 386.06456
L 446.566371 384.965504
L 447.079114 388.01649
L 447.335486 387.677632
L 447.591857 388.875152
L 447.848229 388.726673
L 448.1046 387.894311
L 448.360971 387.710845
L 448.617343 384.523895
L 448.873714 388.938607
L 449.130086 386.822567
L 449.386457 387.822235
L 449.642829 383.993726
L 449.8992 386.247263
L 450.155571 387.437024
L 450.411943 385.15209
L 450.924686 387.640397
L 451.181057 383.806255
L 451.437429 385.40574
L 451.6938 383.391327
L 451.950171 384.549866
L 452.206543 385.1897
L 452.462914 386.472307
L 452.719286 388.844656
L 452.975657 385.3241
L 453.232029 386.589341
L 453.4884 385.4185
L 454.001143 388.189078
L 454.257514 388.815163
L 454.513886 385.266019
L 454.770257 384.125229
L 455.026629 387.334649
L 455.539371 383.630609
L 455.795743 388.549101
L 456.052114 387.468226
L 456.308486 389.167135
L 456.564857 384.323624
L 457.333971 389.689083
L 457.846714 384.913174
L 458.103086 387.226723
L 458.359457 387.441556
L 458.615829 385.578843
L 458.8722 388.909505
L 459.128571 386.618371
L 459.384943 385.560627
L 459.641314 388.202687
L 459.897686 388.291516
L 460.154057 386.259243
L 460.410429 386.881674
L 460.6668 387.131447
L 460.923171 386.350672
L 461.179543 386.329984
L 461.435914 388.238723
L 461.692286 387.876757
L 462.205029 384.812413
L 462.4614 384.576444
L 462.717771 387.990041
L 462.974143 384.938929
L 463.230514 385.487742
L 463.486886 386.751269
L 464.256 384.049944
L 464.512371 388.29737
L 464.768743 385.745478
L 465.025114 386.930893
L 465.281486 387.040901
L 465.537857 384.842955
L 465.794229 385.396369
L 466.0506 388.372279
L 466.563343 386.301077
L 466.819714 389.249548
L 467.076086 385.136601
L 467.332457 386.838564
L 467.8452 386.080919
L 468.101571 383.218453
L 468.357943 386.631244
L 468.614314 387.409346
L 468.870686 383.257526
L 469.127057 387.644743
L 469.383429 387.711195
L 469.6398 389.469484
L 469.896171 384.490944
L 470.152543 386.126156
L 470.408914 385.706177
L 470.921657 386.95372
L 471.178029 388.250803
L 471.4344 388.246681
L 471.690771 385.780004
L 471.947143 386.449737
L 472.203514 383.469394
L 472.459886 388.25235
L 472.716257 387.742425
L 472.972629 388.9512
L 473.229 383.75858
L 473.485371 389.387795
L 473.741743 385.121058
L 473.998114 383.606449
L 474.254486 386.977356
L 474.510857 385.223747
L 474.767229 390.774226
L 475.0236 387.370857
L 475.279971 389.544871
L 475.536343 386.398006
L 475.792714 386.672087
L 476.049086 388.067374
L 476.305457 385.005382
L 476.561829 386.045008
L 476.8182 387.663842
L 477.074571 387.681449
L 477.330943 389.526843
L 477.587314 387.062716
L 477.843686 382.414909
L 478.100057 388.072665
L 478.356429 385.907828
L 478.6128 387.610699
L 478.869171 385.276318
L 479.125543 385.93264
L 479.381914 387.099514
L 479.638286 389.842206
L 480.151029 384.7138
L 480.4074 387.056778
L 480.663771 385.687906
L 481.176514 389.968057
L 481.432886 385.961292
L 481.689257 386.129396
L 481.945629 387.617719
L 482.202 387.309655
L 482.458371 386.198488
L 482.714743 387.677987
L 482.971114 386.118826
L 483.227486 387.018548
L 483.483857 390.719923
L 483.740229 386.930409
L 484.252971 388.147392
L 484.509343 385.918331
L 484.765714 387.598105
L 485.278457 384.318923
L 485.534829 386.389784
L 485.7912 390.017552
L 486.047571 388.226105
L 486.303943 384.756908
L 486.560314 387.227978
L 486.816686 388.286798
L 487.329429 385.735633
L 487.5858 386.170833
L 487.842171 385.44433
L 488.098543 388.347056
L 488.354914 387.271211
L 488.611286 387.212521
L 488.867657 386.731329
L 489.124029 391.118191
L 489.3804 387.200714
L 489.636771 389.659542
L 489.893143 383.666041
L 490.405886 383.094949
L 490.662257 384.942954
L 490.918629 387.766497
L 491.175 384.5492
L 491.431371 387.11494
L 491.687743 385.311644
L 491.944114 388.556637
L 492.200486 387.922509
L 492.713229 383.072963
L 492.9696 386.726554
L 493.225971 382.014463
L 493.482343 381.015654
L 493.738714 389.208514
L 493.995086 386.724981
L 494.251457 388.46703
L 494.507829 386.923917
L 494.7642 387.594373
L 495.020571 386.788695
L 495.276943 385.00568
L 495.533314 385.060967
L 495.789686 386.206998
L 496.046057 386.66359
L 496.302429 386.462214
L 496.5588 386.461403
L 496.815171 385.680141
L 497.071543 386.658377
L 497.327914 385.814577
L 497.584286 389.069679
L 497.840657 385.238808
L 498.097029 383.418528
L 498.609771 389.015026
L 498.866143 384.477511
L 499.122514 387.211721
L 499.378886 391.476406
L 499.635257 387.028478
L 499.891629 385.685454
L 500.148 386.045649
L 500.404371 384.556714
L 500.917114 386.43985
L 501.173486 390.109767
L 501.429857 388.654734
L 501.686229 386.34066
L 501.9426 385.422461
L 502.198971 388.547213
L 502.455343 387.829548
L 502.711714 385.761969
L 502.968086 390.282505
L 503.224457 390.557294
L 503.480829 387.120465
L 503.7372 386.157249
L 503.993571 387.629922
L 504.249943 391.303123
L 504.506314 386.619985
L 504.762686 389.352202
L 505.019057 385.294619
L 505.275429 386.865951
L 505.788171 385.407195
L 506.044543 387.732894
L 506.300914 384.948535
L 506.557286 384.203041
L 506.813657 385.862818
L 507.070029 384.181918
L 507.3264 387.806322
L 507.582771 384.977633
L 507.839143 386.184561
L 508.095514 388.429593
L 508.351886 386.794701
L 508.608257 387.633202
L 508.864629 387.735577
L 509.121 386.487635
L 509.377371 384.538308
L 509.633743 387.23899
L 509.890114 386.435857
L 510.146486 389.326661
L 510.659229 384.357874
L 511.171971 385.724606
L 511.428343 387.724614
L 511.684714 388.622067
L 511.941086 386.86118
L 512.197457 389.460456
L 512.453829 389.289955
L 512.7102 384.771554
L 512.966571 388.485567
L 513.222943 382.881883
L 513.479314 389.423813
L 513.735686 385.886818
L 513.992057 388.730754
L 514.248429 386.362186
L 514.5048 388.544212
L 514.761171 386.586817
L 515.017543 386.945367
L 515.273914 387.49541
L 515.786657 383.922163
L 516.043029 387.812084
L 516.2994 385.004888
L 516.555771 386.503541
L 516.812143 386.721285
L 517.068514 382.224529
L 517.324886 391.371686
L 517.581257 388.180609
L 517.837629 390.650196
L 518.094 387.364854
L 518.350371 387.177215
L 518.606743 379.791983
L 518.863114 385.879065
L 519.119486 382.518691
L 519.375857 383.800195
L 519.632229 387.692298
L 519.8886 385.420702
L 520.144971 382.037723
L 520.401343 386.183971
L 520.657714 386.131673
L 520.914086 385.446124
L 521.170457 390.365911
L 521.426829 388.613008
L 521.6832 385.895091
L 521.939571 385.46712
L 522.195943 388.572365
L 522.452314 387.340259
L 522.708686 386.934425
L 522.965057 386.99471
L 523.221429 385.175331
L 523.4778 386.453377
L 523.734171 386.328088
L 523.990543 390.018591
L 524.246914 389.128416
L 524.503286 385.869066
L 524.759657 390.38756
L 525.016029 386.05684
L 525.2724 388.066748
L 525.528771 388.292929
L 525.785143 385.329343
L 526.041514 388.180711
L 526.297886 388.378117
L 526.554257 388.044077
L 526.810629 386.551236
L 527.067 381.200456
L 527.323371 390.844025
L 527.579743 386.705832
L 527.836114 387.11352
L 528.092486 384.838045
L 528.348857 387.389946
L 528.605229 391.444275
L 528.8616 384.260699
L 529.117971 388.669932
L 529.374343 386.78338
L 529.630714 389.179271
L 529.887086 388.641349
L 530.143457 387.532245
L 530.399829 385.21829
L 530.6562 385.321372
L 530.912571 387.663977
L 531.168943 385.847988
L 531.425314 387.306076
L 531.681686 386.487473
L 531.938057 386.411149
L 532.194429 385.511164
L 532.4508 387.843088
L 532.963543 386.305626
L 533.219914 386.522796
L 533.476286 388.150991
L 533.732657 383.390507
L 533.989029 387.556726
L 534.2454 385.40329
L 534.501771 386.344991
L 534.758143 384.591774
L 535.014514 390.468208
L 535.270886 382.886914
L 535.527257 387.115203
L 535.783629 388.995476
L 536.296371 382.798977
L 536.809114 389.052362
L 537.065486 387.544784
L 537.321857 384.063194
L 537.578229 389.299362
L 537.8346 387.022115
L 538.090971 387.212009
L 538.347343 383.052487
L 538.603714 387.156866
L 538.860086 384.58962
L 539.116457 387.803942
L 539.372829 388.025464
L 539.6292 385.001493
L 539.885571 385.614369
L 540.141943 389.665463
L 540.398314 385.600551
L 540.654686 385.60208
L 540.911057 387.751668
L 541.167429 386.301218
L 541.4238 386.19365
L 541.680171 387.589355
L 541.936543 387.717042
L 542.192914 387.999534
L 542.449286 387.21914
L 542.705657 389.390043
L 542.962029 386.80058
L 543.2184 390.124645
L 543.474771 386.542425
L 543.731143 386.913202
L 543.987514 389.081358
L 544.243886 384.658168
L 544.500257 382.229527
L 544.756629 383.570185
L 545.013 389.959928
L 545.269371 383.805409
L 545.525743 386.206848
L 545.782114 386.833318
L 546.038486 388.176523
L 546.294857 386.737595
L 546.551229 383.192437
L 547.063971 387.761307
L 547.320343 388.457399
L 547.576714 387.849992
L 547.833086 385.054902
L 548.089457 380.910437
L 548.345829 390.125908
L 548.6022 386.755773
L 549.114943 389.323249
L 549.371314 385.416831
L 549.627686 385.000199
L 549.884057 391.005465
L 550.140429 389.839945
L 550.3968 383.180115
L 550.653171 385.790258
L 550.909543 385.206767
L 551.165914 388.217632
L 551.422286 387.785031
L 551.678657 385.523339
L 552.1914 389.682488
L 552.704143 384.614255
L 552.960514 388.912989
L 553.216886 384.526379
L 553.473257 385.316648
L 553.729629 388.404098
L 553.986 386.696434
L 554.242371 386.809928
L 554.498743 385.310826
L 554.755114 385.131982
L 555.011486 389.804664
L 555.267857 389.952386
L 555.524229 384.165388
L 555.7806 386.454224
L 556.036971 385.695054
L 556.293343 385.870929
L 556.549714 382.457754
L 556.806086 390.093493
L 557.062457 383.474851
L 557.318829 389.061025
L 557.5752 384.627508
L 557.831571 383.000147
L 558.087943 390.69054
L 558.344314 385.590396
L 558.600686 387.533993
L 558.857057 387.596038
L 559.113429 386.615671
L 559.3698 389.844529
L 559.626171 418.252114
L 559.882543 418.123717
L 560.138914 369.119743
L 560.395286 388.511276
L 560.651657 391.108016
L 560.908029 380.29368
L 561.677143 389.857763
L 561.933514 412.527086
L 562.189886 411.011538
L 562.446257 389.781394
L 562.702629 381.79451
L 562.959 386.310751
L 563.215371 385.365925
L 563.471743 390.529717
L 563.728114 390.238345
L 563.984486 389.741758
L 564.240857 385.826059
L 564.497229 387.578476
L 564.7536 387.585063
L 565.009971 385.798925
L 565.266343 386.073658
L 565.522714 382.440041
L 565.779086 387.326671
L 566.035457 390.007018
L 566.291829 386.788221
L 566.5482 382.11178
L 566.804571 388.436763
L 567.060943 386.595626
L 567.317314 387.74928
L 567.573686 385.558138
L 567.830057 386.023853
L 568.086429 388.970234
L 568.3428 387.348412
L 568.599171 384.176538
L 568.855543 383.637519
L 569.111914 384.172888
L 569.368286 384.338895
L 569.624657 387.685138
L 569.881029 387.820022
L 570.1374 384.061876
L 570.393771 390.127021
L 570.650143 386.929566
L 570.906514 392.888121
L 571.162886 388.060687
L 571.419257 389.226722
L 571.675629 390.948854
L 571.932 384.678807
L 572.188371 389.378981
L 572.444743 388.131368
L 572.701114 387.693858
L 572.957486 389.381511
L 573.213857 381.695625
L 573.470229 388.356237
L 573.7266 386.110218
L 573.982971 390.923678
L 574.239343 388.246438
L 574.495714 387.864277
L 574.752086 387.859319
L 575.008457 389.072175
L 575.264829 386.242328
L 575.5212 380.827633
L 575.777571 387.269449
L 576.033943 387.252499
L 576.290314 388.090682
L 576.546686 377.996093
L 577.059429 384.968525
L 577.3158 384.608238
L 577.572171 389.056887
L 578.084914 386.07182
L 578.341286 386.346502
L 578.597657 389.61797
L 578.854029 389.300485
L 579.1104 385.150098
L 579.366771 385.760571
L 579.623143 393.530877
L 579.879514 386.450718
L 580.135886 382.86866
L 580.392257 388.714543
L 580.648629 385.99585
L 580.905 391.071229
L 581.161371 384.049169
L 581.417743 390.372436
L 581.674114 390.846471
L 581.930486 387.687412
L 582.186857 379.568838
L 582.443229 388.652188
L 582.6996 390.870218
L 582.955971 385.291158
L 583.212343 386.001367
L 583.468714 381.316804
L 583.725086 391.095658
L 583.981457 392.369509
L 584.237829 387.840717
L 584.4942 385.437091
L 584.750571 385.542101
L 585.006943 383.325335
L 585.263314 391.448092
L 585.776057 387.154029
L 586.032429 384.040884
L 586.2888 385.09686
L 586.801543 390.37889
L 587.057914 383.637548
L 587.314286 383.569546
L 587.570657 377.234697
L 587.827029 387.325913
L 588.0834 381.391626
L 588.339771 390.80657
L 588.596143 388.466238
L 588.852514 388.826497
L 589.108886 388.251536
L 589.365257 389.661803
L 589.621629 388.568986
L 589.878 386.924324
L 590.134371 388.214972
L 590.390743 384.568734
L 590.647114 387.032446
L 590.903486 386.748912
L 591.159857 381.848618
L 591.416229 385.757329
L 591.928971 386.789369
L 592.185343 386.537805
L 592.441714 384.915304
L 592.698086 389.234858
L 592.954457 383.223269
L 593.210829 381.980607
L 593.4672 383.468691
L 593.979943 391.176133
L 594.236314 387.898027
L 594.749057 384.504443
L 595.005429 387.209837
L 595.2618 387.556886
L 595.518171 382.692473
L 595.774543 388.505175
L 596.030914 383.668613
L 596.287286 384.17964
L 596.543657 390.479561
L 596.800029 385.971144
L 597.0564 388.285838
L 597.312771 389.283072
L 597.569143 391.969612
L 597.825514 391.24358
L 598.081886 385.462558
L 598.338257 387.897683
L 598.594629 385.899163
L 598.851 390.119621
L 599.107371 387.789074
L 599.363743 387.588033
L 599.620114 391.569855
L 599.876486 391.922353
L 600.132857 385.349981
L 600.389229 386.238714
L 600.6456 389.966297
L 601.414714 380.778661
L 601.671086 389.666335
L 602.183829 379.211396
L 602.4402 386.507552
L 602.696571 381.425326
L 602.952943 395.846602
L 603.209314 381.811617
L 603.722057 393.875733
L 603.978429 383.889091
L 604.491171 382.294266
L 604.747543 382.424332
L 605.260286 389.507089
L 605.516657 388.45729
L 606.0294 385.384526
L 606.285771 388.205037
L 606.542143 386.580724
L 606.798514 384.115838
L 607.054886 385.777693
L 607.311257 380.06018
L 607.567629 380.000068
L 607.824 390.411327
L 608.080371 388.583394
L 608.336743 390.732898
L 608.593114 390.327373
L 608.849486 385.127184
L 609.105857 389.655961
L 609.362229 389.799831
L 609.6186 387.538138
L 609.874971 384.187526
L 610.131343 387.847223
L 610.387714 387.814742
L 610.644086 384.027736
L 610.900457 385.332718
L 611.156829 385.296362
L 611.4132 383.607767
L 611.669571 390.081349
L 611.925943 386.029982
L 612.182314 388.780008
L 612.438686 383.503204
L 612.695057 384.21978
L 612.951429 389.804055
L 613.2078 382.626119
L 613.464171 390.47261
L 613.720543 383.007069
L 614.233286 389.471331
L 614.489657 390.314496
L 614.746029 387.677254
L 615.0024 386.81856
L 615.258771 389.01752
L 615.515143 384.89374
L 615.771514 391.540451
L 616.027886 386.773441
L 616.284257 386.745593
L 616.540629 393.483217
L 616.797 385.675665
L 617.309743 396.35382
L 617.566114 389.021847
L 617.822486 387.613706
L 618.078857 383.350624
L 618.335229 388.592725
L 618.5916 380.874074
L 618.847971 380.872705
L 619.104343 382.048451
L 619.360714 381.446174
L 619.873457 388.859463
L 620.129829 384.541137
L 620.3862 383.498534
L 621.155314 391.954567
L 621.411686 384.589233
L 621.668057 385.652831
L 621.924429 390.566546
L 622.1808 386.439719
L 622.437171 384.614697
L 622.693543 387.054988
L 622.949914 384.423422
L 623.206286 384.468462
L 623.462657 391.021071
L 623.9754 385.352665
L 624.488143 382.586624
L 624.744514 392.519529
L 625.000886 386.91815
L 625.513629 383.370206
L 625.77 382.114434
L 626.026371 389.196662
L 626.282743 387.762647
L 626.539114 389.66524
L 626.795486 384.373836
L 627.051857 390.516186
L 627.308229 383.272707
L 627.5646 384.058458
L 627.820971 385.30699
L 628.077343 392.64917
L 628.590086 384.796098
L 628.846457 390.346396
L 629.102829 387.337103
L 629.3592 386.969972
L 629.615571 384.474881
L 629.871943 385.995124
L 630.128314 385.985123
L 630.384686 387.959292
L 630.641057 386.710968
L 630.897429 387.104736
L 631.1538 384.793004
L 631.410171 387.193684
L 631.666543 383.99399
L 631.922914 391.033239
L 632.179286 383.673844
L 632.435657 387.132951
L 632.692029 384.227995
L 632.9484 386.523725
L 633.461143 383.333854
L 633.717514 387.946818
L 633.973886 386.535389
L 634.230257 387.075995
L 634.486629 386.284501
L 634.743 389.945064
L 634.999371 387.028589
L 635.255743 387.187749
L 635.512114 388.27463
L 635.768486 387.084056
L 636.024857 389.612814
L 636.281229 384.049312
L 636.5376 385.932974
L 636.793971 383.355681
L 637.050343 388.157783
L 637.306714 388.676406
L 637.563086 386.232803
L 637.819457 389.384004
L 638.075829 386.330532
L 638.3322 387.924643
L 638.588571 387.255099
L 638.844943 386.267706
L 639.101314 386.620076
L 639.357686 383.694109
L 639.614057 385.672402
L 639.870429 388.852866
L 640.1268 385.132581
L 640.383171 388.7902
L 640.639543 386.559098
L 640.895914 388.698476
L 641.152286 388.058749
L 641.408657 384.473857
L 641.665029 387.626233
L 641.9214 387.772396
L 642.177771 387.685335
L 642.434143 387.273604
L 642.690514 384.054037
L 642.946886 389.215621
L 643.203257 389.212822
L 643.459629 385.560582
L 643.716 390.044805
L 644.228743 384.471356
L 644.485114 386.718474
L 644.741486 387.73217
L 645.254229 388.712422
L 645.5106 388.032095
L 645.766971 386.41957
L 646.023343 383.703596
L 646.279714 384.287201
L 646.536086 388.19776
L 646.792457 388.765866
L 647.048829 384.98697
L 647.3052 391.62092
L 647.561571 387.944061
L 647.817943 387.615627
L 648.074314 389.67208
L 648.330686 389.240255
L 648.587057 385.899275
L 648.843429 391.141385
L 649.0998 389.10041
L 649.356171 388.423092
L 649.612543 386.558618
L 649.868914 390.600438
L 650.125286 383.949906
L 650.381657 387.5761
L 650.638029 387.485667
L 650.8944 387.831242
L 651.407143 389.512608
L 651.663514 383.675685
L 651.919886 386.256461
L 652.176257 387.096527
L 652.432629 384.171566
L 652.689 388.567309
L 652.945371 385.1048
L 653.201743 386.746359
L 653.458114 389.11175
L 653.714486 384.818124
L 653.970857 390.715444
L 654.227229 385.110279
L 654.4836 389.345443
L 654.996343 383.031961
L 655.252714 385.197712
L 655.509086 388.564549
L 655.765457 386.923884
L 656.021829 387.822422
L 656.2782 389.682062
L 656.534571 389.454123
L 656.790943 386.713708
L 657.047314 385.5349
L 657.303686 391.228082
L 657.560057 387.006218
L 657.816429 385.617665
L 658.0728 386.566126
L 658.329171 389.243383
L 658.585543 384.165292
L 658.841914 389.91951
L 659.098286 385.281271
L 659.354657 382.869442
L 659.611029 391.823634
L 659.8674 386.239485
L 660.123771 386.148724
L 660.380143 386.342902
L 660.636514 388.4399
L 660.892886 387.471907
L 661.149257 389.570272
L 661.405629 386.551238
L 661.662 385.69579
L 661.918371 388.220162
L 662.174743 388.852566
L 662.687486 386.853966
L 662.943857 386.71122
L 663.200229 387.044801
L 663.4566 386.689138
L 663.969343 392.179179
L 664.225714 385.62112
L 664.482086 384.189514
L 664.738457 389.334887
L 665.507571 384.974591
L 665.763943 385.584188
L 666.020314 384.437618
L 666.276686 386.924619
L 666.533057 386.034487
L 666.789429 386.034316
L 667.0458 387.664365
L 667.302171 384.580964
L 667.558543 385.657612
L 667.814914 384.99134
L 668.071286 387.562351
L 668.327657 384.801996
L 668.584029 388.942664
L 668.8404 386.076896
L 669.096771 391.718232
L 669.609514 385.402653
L 669.865886 387.751236
L 670.122257 386.485331
L 670.378629 390.569589
L 670.635 383.295322
L 671.147743 386.967875
L 671.404114 385.807779
L 671.660486 386.020174
L 671.916857 383.304139
L 672.4296 390.524057
L 672.942343 383.69515
L 673.455086 387.983591
L 673.711457 385.266298
L 673.967829 386.600697
L 674.2242 385.217635
L 674.480571 391.221748
L 674.736943 389.557417
L 674.993314 384.990087
L 675.249686 387.605238
L 675.506057 385.954468
L 675.762429 381.850328
L 676.0188 387.709419
L 676.275171 386.281355
L 676.531543 388.341844
L 676.787914 388.561868
L 677.044286 387.116654
L 677.300657 390.738328
L 677.557029 392.410906
L 677.8134 383.322334
L 678.069771 387.203839
L 678.326143 383.952654
L 678.582514 386.588659
L 678.838886 386.520879
L 679.095257 385.245916
L 679.351629 385.134119
L 679.608 389.870411
L 679.864371 384.007517
L 680.120743 389.087155
L 680.377114 386.406586
L 680.633486 381.221737
L 680.889857 386.687414
L 681.146229 383.559214
L 681.4026 387.469086
L 681.658971 385.746545
L 681.915343 386.728195
L 682.171714 386.038879
L 682.428086 388.411058
L 682.684457 388.663548
L 682.940829 386.180132
L 683.1972 389.996313
L 683.453571 388.607435
L 683.709943 385.549795
L 683.966314 388.027526
L 684.479057 388.722751
L 684.735429 386.557224
L 684.9918 387.452108
L 685.248171 386.555502
L 685.504543 387.143808
L 685.760914 383.654343
L 686.273657 390.253146
L 686.530029 386.611313
L 686.7864 386.811321
L 687.042771 386.541999
L 687.299143 389.49866
L 687.555514 384.973665
L 687.811886 386.856903
L 688.068257 386.872805
L 688.324629 389.341535
L 688.581 386.000952
L 688.837371 386.91547
L 689.093743 384.635513
L 689.350114 387.442742
L 689.606486 388.703534
L 689.862857 386.595959
L 690.119229 388.342421
L 690.3756 386.090265
L 690.631971 388.625083
L 690.888343 387.04192
L 691.144714 387.234812
L 691.401086 386.888845
L 691.913829 388.451823
L 692.1702 386.953306
L 692.426571 387.935361
L 692.682943 386.538275
L 692.939314 387.321938
L 693.195686 390.777409
L 693.708429 384.581812
L 693.9648 386.318727
L 694.221171 385.843051
L 694.477543 386.047402
L 694.990286 389.260873
L 695.246657 385.358265
L 695.503029 384.85075
L 695.7594 385.8254
L 696.015771 386.0397
L 696.272143 386.104251
L 696.528514 386.876502
L 696.784886 386.317838
L 697.041257 386.817664
L 697.297629 386.195558
L 697.554 388.690507
L 697.810371 388.23524
L 698.066743 385.617655
L 698.323114 387.64283
L 698.579486 392.148154
L 698.835857 386.586941
L 699.092229 391.922047
L 699.3486 382.490458
L 699.604971 385.131057
L 699.861343 385.228787
L 700.117714 388.536493
L 700.374086 389.587304
L 700.630457 387.331073
L 700.886829 386.812762
L 701.1432 388.45993
L 701.655943 385.427057
L 701.912314 385.595407
L 702.425057 390.947782
L 702.681429 386.808171
L 702.9378 387.987457
L 703.450543 383.852308
L 703.706914 383.730464
L 703.963286 386.254772
L 704.476029 383.508496
L 704.7324 386.734917
L 704.988771 386.304798
L 705.245143 385.280265
L 705.501514 386.876988
L 706.014257 388.267745
L 706.270629 386.803569
L 706.527 387.930874
L 706.783371 385.380565
L 707.039743 387.358172
L 707.296114 384.284261
L 707.552486 384.723909
L 707.808857 389.018255
L 708.065229 385.056066
L 708.3216 387.421059
L 708.577971 384.640222
L 709.090714 386.828021
L 709.347086 385.766279
L 709.603457 387.593825
L 709.859829 386.25487
L 710.1162 386.152192
L 710.372571 386.973743
L 710.628943 386.197098
L 710.885314 388.329447
L 711.141686 385.902402
L 711.398057 388.709587
L 711.654429 385.745998
L 711.9108 385.979737
L 712.167171 385.54592
L 712.423543 387.710043
L 712.679914 381.127935
L 712.936286 387.234597
L 713.192657 386.477386
L 713.449029 388.243299
L 713.7054 383.888639
L 713.961771 387.703852
L 714.218143 384.912188
L 714.474514 388.470711
L 714.730886 386.198383
L 714.987257 387.443021
L 715.243629 385.142315
L 715.5 387.23269
L 715.756371 388.154512
L 716.012743 386.027169
L 716.269114 388.681903
L 716.525486 388.185531
L 716.781857 385.47749
L 717.038229 389.85762
L 717.2946 385.453838
L 717.550971 387.373828
L 717.807343 388.268537
L 718.063714 386.325421
L 718.320086 385.595097
L 718.576457 387.768219
L 718.832829 387.035035
L 719.0892 385.389313
L 719.345571 385.393034
L 719.858314 388.020225
L 720.114686 388.286385
L 720.371057 387.705982
L 720.627429 385.51706
L 720.8838 385.687679
L 721.140171 386.173697
L 721.396543 384.149463
L 721.652914 387.281188
L 721.909286 387.451048
L 722.165657 387.474615
L 722.422029 383.065887
L 722.6784 390.585934
L 722.934771 386.220998
L 723.191143 385.924887
L 723.447514 386.596401
L 723.703886 382.470121
L 723.960257 384.593257
L 724.216629 385.320114
L 724.473 388.527762
L 724.729371 385.686296
L 724.985743 387.45888
L 725.242114 386.612812
L 725.498486 386.278396
L 725.754857 387.749459
L 726.2676 383.227859
L 726.780343 386.222921
L 727.036714 390.709482
L 727.293086 384.385199
L 727.549457 384.273642
L 727.805829 387.137836
L 728.0622 387.724997
L 728.318571 385.38491
L 728.574943 388.269369
L 728.831314 385.060497
L 729.087686 388.852088
L 729.344057 388.666059
L 729.600429 386.641768
L 729.8568 389.878608
L 730.113171 386.669825
L 730.369543 385.534485
L 730.625914 389.416098
L 730.882286 384.804214
L 731.138657 387.829052
L 731.395029 385.559296
L 731.6514 386.252587
L 731.907771 387.535447
L 732.164143 387.672511
L 732.420514 389.810247
L 732.676886 387.932925
L 732.933257 388.121874
L 733.189629 383.437041
L 733.446 384.762994
L 733.702371 389.227164
L 733.958743 385.194144
L 734.471486 387.39114
L 734.727857 385.844284
L 734.984229 385.140801
L 735.2406 387.823843
L 735.496971 387.219962
L 735.753343 386.304692
L 736.009714 388.745818
L 736.266086 386.241193
L 736.522457 386.837699
L 736.778829 388.18144
L 737.0352 388.521645
L 737.291571 385.923372
L 737.547943 384.544411
L 737.804314 385.839003
L 738.060686 388.769769
L 738.317057 384.711872
L 738.573429 386.173149
L 739.086171 383.337146
L 739.342543 389.33063
L 739.598914 387.062975
L 740.111657 389.323125
L 740.368029 380.118756
L 740.6244 383.475583
L 740.880771 393.877614
L 741.137143 384.438437
L 741.393514 389.968185
L 741.649886 379.009802
L 741.906257 386.002651
L 742.162629 388.138824
L 742.419 394.107429
L 742.675371 394.107429
L 742.931743 376.683429
L 743.188114 398.587886
L 743.444486 373.696457
L 743.700857 373.696457
L 743.957229 391.618286
L 744.2136 356.770286
L 744.469971 356.770286
L 744.726343 426.466286
L 744.982714 401.574857
L 745.239086 454.842514
L 745.495457 454.842514
L 745.751829 427.959771
L 746.0082 355.774629
L 746.264571 355.774629
L 746.520943 406.553143
L 746.777314 426.466286
L 747.033686 361.748571
L 747.290057 361.748571
L 747.546429 376.683429
L 747.8028 338.350629
L 748.059171 338.350629
L 748.315543 328.891886
L 748.571914 396.596571
L 748.828286 341.835429
L 749.084657 341.835429
L 749.5974 396.596571
L 749.853771 396.596571
L 750.110143 374.194286
L 750.366514 401.574857
L 750.622886 348.805029
L 750.879257 348.805029
L 751.135629 351.792
L 751.392 397.0944
L 751.648371 397.0944
L 751.904743 354.281143
L 752.161114 408.544457
L 752.417486 370.709486
L 752.673857 370.709486
L 752.930229 399.085714
L 753.1866 371.705143
L 753.442971 403.885971
L 753.699343 368.966923
L 753.955714 370.709486
L 754.212086 370.966273
L 754.468457 379.433869
L 754.724829 393.536529
L 754.9812 381.632117
L 755.237571 386.438982
L 755.493943 397.640724
L 755.750314 380.598593
L 756.006686 398.879872
L 756.263057 374.479569
L 756.7758 396.03848
L 757.032171 402.301246
L 757.288543 373.766797
L 757.544914 375.211629
L 757.801286 396.883455
L 758.057657 372.592228
L 758.314029 385.192901
L 758.5704 388.698703
L 758.826771 387.431097
L 759.083143 389.234898
L 759.339514 373.142524
L 759.595886 385.240473
L 759.852257 405.825707
L 760.108629 365.244605
L 760.365 378.250636
L 760.621371 396.960577
L 760.877743 390.105774
L 761.134114 395.371991
L 761.390486 386.178195
L 761.646857 382.81304
L 761.903229 384.437081
L 762.1596 391.871194
L 762.415971 393.674251
L 762.672343 379.398138
L 762.928714 387.494785
L 763.185086 365.233371
L 763.441457 366.509986
L 763.697829 379.359777
L 764.210571 393.899502
L 764.466943 374.111417
L 764.979686 395.17672
L 765.236057 389.571512
L 765.492429 377.48045
L 765.7488 397.384724
L 766.005171 374.254791
L 766.261543 380.228351
L 766.517914 411.531429
L 767.030657 410.774877
L 767.287029 365.789244
L 767.5434 384.944298
L 767.799771 368.137075
L 768.056143 372.038406
L 768.312514 395.727395
L 768.568886 388.465189
L 768.825257 388.502054
L 769.081629 390.113811
L 769.338 398.328889
L 769.594371 379.747824
L 769.850743 386.003906
L 770.107114 385.953935
L 770.363486 376.476153
L 770.619857 390.554397
L 771.1326 384.693666
L 771.388971 389.892113
L 771.645343 387.434318
L 771.901714 381.445916
L 772.158086 386.699552
L 772.414457 377.562829
L 772.670829 391.781281
L 772.9272 385.232769
L 773.183571 396.819637
L 773.439943 387.506536
L 773.696314 391.434424
L 773.952686 376.976645
L 774.209057 381.55782
L 774.465429 383.186052
L 774.7218 373.549695
L 774.978171 376.75686
L 775.234543 381.633917
L 775.747286 397.743313
L 776.003657 386.873869
L 776.5164 391.641996
L 776.772771 389.045651
L 777.029143 400.34011
L 777.285514 424.474971
L 777.541886 424.316455
L 777.798257 392.426034
L 778.054629 381.602665
L 778.311 400.973062
L 778.567371 378.97619
L 778.823743 378.451596
L 779.336486 395.725215
L 779.592857 362.744229
L 779.849229 362.800261
L 780.361971 386.182877
L 780.618343 392.613931
L 780.874714 394.4388
L 781.387457 374.982213
L 781.643829 395.539164
L 781.9002 390.636889
L 782.156571 398.822594
L 782.412943 381.979686
L 782.669314 385.570909
L 782.925686 371.919171
L 783.182057 387.423825
L 783.6948 390.828786
L 783.951171 381.57215
L 784.207543 395.498416
L 784.463914 382.383498
L 784.720286 385.212762
L 784.976657 389.403759
L 785.233029 391.581379
L 785.4894 380.906606
L 785.745771 377.246184
L 786.002143 388.859962
L 786.514886 378.261986
L 786.771257 389.553673
L 787.027629 387.764866
L 787.284 392.276711
L 787.540371 387.305163
L 787.796743 386.992976
L 788.309486 389.540716
L 788.565857 392.985255
L 788.822229 391.963973
L 789.0786 390.431545
L 789.334971 384.210916
L 789.591343 388.475401
L 789.847714 389.556831
L 790.104086 384.288537
L 790.360457 384.682606
L 790.616829 389.267538
L 790.8732 388.819209
L 791.129571 384.47475
L 791.385943 385.414745
L 791.642314 389.329125
L 791.898686 385.843962
L 792.155057 386.734222
L 792.411429 382.895106
L 792.6678 389.591709
L 792.924171 383.730221
L 793.180543 385.101525
L 793.436914 390.247148
L 793.693286 382.797308
L 793.949657 383.341497
L 794.206029 391.288698
L 794.4624 379.043265
L 794.718771 391.112872
L 794.975143 390.199527
L 795.231514 387.845081
L 795.487886 383.721285
L 795.744257 384.419831
L 796.000629 387.006832
L 796.257 381.263244
L 796.513371 385.124977
L 797.026114 376.527466
L 797.538857 395.646657
L 797.795229 388.214736
L 798.0516 390.340798
L 798.307971 386.31779
L 798.564343 386.292607
L 798.820714 391.105856
L 799.077086 390.912937
L 799.333457 405.557486
L 799.589829 405.182719
L 799.8462 396.109593
L 800.102571 382.774115
L 800.358943 386.523278
L 800.615314 386.677752
L 800.871686 385.593363
L 801.128057 390.387706
L 801.6408 382.946971
L 801.897171 382.711888
L 802.666286 389.886427
L 802.922657 381.554393
L 803.4354 388.186617
L 803.691771 394.588901
L 803.948143 389.748928
L 804.204514 393.936464
L 804.460886 381.679029
L 804.973629 389.374526
L 805.23 387.621936
L 805.486371 377.343716
L 805.742743 382.413167
L 805.999114 391.111271
L 806.255486 387.051366
L 806.511857 390.48624
L 806.768229 391.982787
L 807.280971 379.382611
L 807.537343 381.784436
L 807.793714 386.506872
L 808.050086 387.846411
L 808.306457 385.991078
L 808.562829 383.308985
L 808.8192 391.41779
L 809.075571 392.693665
L 809.331943 380.571837
L 809.588314 385.772815
L 809.844686 381.528397
L 810.101057 385.901538
L 810.357429 382.189268
L 810.6138 388.531741
L 811.126543 381.218826
L 811.382914 383.140655
L 811.639286 388.280624
L 811.895657 383.363691
L 812.152029 389.227372
L 812.4084 392.255084
L 812.664771 384.450222
L 812.921143 380.886657
L 813.177514 383.129058
L 813.433886 392.014274
L 813.690257 382.862494
L 813.946629 383.619944
L 814.203 388.661124
L 814.459371 397.73855
L 814.715743 382.077981
L 814.972114 382.576881
L 815.228486 384.41527
L 815.484857 394.011432
L 815.741229 393.325392
L 815.9976 381.840695
L 816.510343 384.247246
L 816.766714 387.820248
L 817.023086 384.705893
L 817.279457 389.266998
L 817.535829 388.28085
L 817.7922 391.208856
L 818.048571 385.293895
L 818.304943 388.654047
L 818.561314 381.999702
L 818.817686 382.88262
L 819.074057 390.907767
L 819.330429 376.841977
L 819.843171 405.557486
L 820.099543 404.874999
L 820.612286 363.242057
L 820.868657 363.466142
L 821.125029 380.586856
L 821.3814 379.692501
L 821.637771 397.212899
L 821.894143 389.739993
L 822.150514 387.09726
L 822.406886 388.65827
L 822.663257 380.772308
L 822.919629 389.255613
L 823.176 381.981572
L 823.432371 384.614979
L 823.688743 391.612586
L 824.457857 386.313866
L 824.714229 383.384982
L 824.9706 387.221811
L 825.226971 383.767916
L 825.483343 391.606032
L 825.739714 396.031883
L 825.996086 387.744656
L 826.252457 385.15642
L 826.7652 390.101508
L 827.277943 380.002786
L 827.534314 386.993945
L 827.790686 389.187614
L 828.047057 389.464258
L 828.303429 379.944589
L 828.5598 386.782463
L 829.072543 382.625786
L 829.328914 383.232028
L 829.585286 389.425323
L 829.841657 383.790611
L 830.098029 384.209152
L 830.3544 385.218938
L 830.610771 383.72549
L 830.867143 388.173054
L 831.123514 386.848839
L 831.379886 388.200512
L 831.636257 384.325732
L 831.892629 388.529699
L 832.149 385.542587
L 832.405371 389.646454
L 832.661743 386.959317
L 832.918114 387.539132
L 833.430857 386.317943
L 833.687229 387.111863
L 833.9436 387.214832
L 834.199971 392.121038
L 834.456343 383.712037
L 834.712714 388.338198
L 834.969086 387.318314
L 835.225457 388.976159
L 835.481829 383.845315
L 835.7382 389.11864
L 835.994571 385.297686
L 836.507314 382.301688
L 837.020057 385.007566
L 837.276429 389.891809
L 837.5328 383.152581
L 837.789171 383.33803
L 838.045543 384.42615
L 838.301914 384.319531
L 838.814657 388.030613
L 839.071029 383.720486
L 839.3274 383.333736
L 839.583771 389.254406
L 839.840143 384.365975
L 840.096514 385.976044
L 840.352886 384.169667
L 840.609257 385.799663
L 840.865629 383.409182
L 841.378371 383.827178
L 841.634743 390.826318
L 841.891114 384.214095
L 842.147486 386.457904
L 842.403857 390.184082
L 842.660229 384.291893
L 842.9166 390.948387
L 843.172971 383.658081
L 843.429343 380.743334
L 843.685714 388.374919
L 843.942086 383.301434
L 844.198457 384.967378
L 844.454829 384.27957
L 844.7112 391.163201
L 844.967571 384.528643
L 845.223943 386.15951
L 845.480314 384.13012
L 845.736686 386.54012
L 845.993057 382.654517
L 846.249429 385.53173
L 846.5058 383.900031
L 846.762171 381.029121
L 847.018543 385.829472
L 847.274914 382.740288
L 847.531286 385.750392
L 847.787657 384.757445
L 848.044029 388.331687
L 848.3004 383.998349
L 848.556771 382.757489
L 848.813143 386.805069
L 849.069514 384.016152
L 849.325886 385.137489
L 849.582257 390.243943
L 850.095 382.148568
L 850.607743 392.227596
L 850.864114 385.912617
L 851.120486 388.403169
L 851.376857 381.046936
L 851.633229 386.663104
L 851.8896 386.5609
L 852.145971 388.350133
L 852.402343 385.818171
L 852.658714 388.107832
L 852.915086 388.96485
L 853.171457 386.720884
L 853.427829 388.876014
L 853.6842 382.812467
L 853.940571 389.882895
L 854.196943 386.745559
L 854.709686 390.080954
L 854.966057 382.074108
L 855.222429 392.233996
L 855.4788 382.554965
L 855.735171 390.363501
L 856.247914 380.869893
L 856.504286 391.534883
L 856.760657 389.456506
L 857.017029 383.922553
L 857.529771 387.683176
L 857.786143 386.63127
L 858.042514 388.710562
L 858.555257 383.334015
L 858.811629 387.354889
L 859.068 386.269109
L 859.580743 382.427436
L 859.837114 387.790576
L 860.093486 385.916939
L 860.349857 387.904688
L 860.606229 388.090147
L 860.8626 387.501584
L 861.118971 388.024515
L 861.375343 390.601288
L 861.631714 361.748571
L 861.888086 413.522743
L 862.144457 412.862221
L 862.400829 383.568154
L 862.6572 387.869591
L 862.913571 386.958082
L 863.169943 384.866909
L 863.426314 384.748113
L 863.682686 386.833561
L 863.939057 386.683907
L 864.195429 381.698395
L 864.4518 387.414107
L 864.708171 387.824182
L 864.964543 390.998784
L 865.220914 385.348193
L 865.477286 387.25892
L 865.733657 380.787499
L 865.990029 387.495864
L 866.2464 384.158067
L 866.502771 383.75013
L 866.759143 381.477999
L 867.015514 371.705143
L 867.271886 372.1507
L 867.528257 386.469662
L 867.784629 386.872269
L 868.041 387.530727
L 868.297371 387.867897
L 868.553743 387.763203
L 868.810114 395.349621
L 869.066486 384.586108
L 869.322857 386.268285
L 869.579229 389.997277
L 869.8356 386.743568
L 870.091971 377.647217
L 870.348343 385.072093
L 870.604714 387.896582
L 870.861086 380.10729
L 871.117457 389.506518
L 871.373829 387.112227
L 871.6302 388.663758
L 871.886571 387.405301
L 872.142943 383.787735
L 872.399314 384.414688
L 872.655686 389.136135
L 872.912057 386.967935
L 873.168429 386.234435
L 873.4248 387.807537
L 873.681171 386.645278
L 873.937543 388.811623
L 874.193914 388.752357
L 874.450286 386.418902
L 874.706657 389.307696
L 874.963029 385.464247
L 875.475771 388.923074
L 875.732143 388.079894
L 875.988514 387.649978
L 876.501257 386.328424
L 876.757629 386.993641
L 877.014 388.206086
L 877.270371 383.87992
L 877.526743 384.843831
L 877.783114 386.360479
L 878.039486 384.694833
L 878.552229 387.083697
L 878.8086 386.42216
L 879.064971 381.479985
L 879.321343 384.590558
L 879.577714 384.617663
L 879.834086 387.357224
L 880.090457 385.32485
L 880.346829 382.07426
L 880.6032 385.706
L 880.859571 384.389269
L 881.115943 384.140839
L 881.372314 385.45914
L 881.628686 373.198629
L 881.885057 373.333446
L 882.141429 385.693367
L 882.3978 387.690267
L 882.654171 381.95099
L 882.910543 386.035491
L 883.166914 386.379658
L 883.423286 383.877202
L 883.679657 387.521207
L 883.936029 386.592098
L 884.1924 388.064557
L 884.448771 386.541515
L 884.705143 387.344093
L 884.961514 385.493634
L 885.474257 387.827082
L 885.987 386.843597
L 886.243371 387.749109
L 886.499743 384.377158
L 886.756114 385.048661
L 887.012486 386.231006
L 887.268857 389.744361
L 887.525229 385.219287
L 887.7816 389.827111
L 888.037971 386.087602
L 888.294343 373.696457
L 888.550714 374.325627
L 888.807086 388.81005
L 889.063457 388.547095
L 889.319829 380.930118
L 889.5762 387.245238
L 889.832571 387.12315
L 890.088943 383.932396
L 890.345314 385.489343
L 890.601686 383.633455
L 890.858057 389.869115
L 891.114429 389.432755
L 891.3708 378.736087
L 891.627171 386.681931
L 891.883543 387.406571
L 892.139914 386.083457
L 892.396286 383.555166
L 892.652657 390.21564
L 892.909029 385.65374
L 893.1654 386.642351
L 893.421771 384.585816
L 893.678143 386.040373
L 893.934514 388.168557
L 894.190886 389.13943
L 894.447257 393.619529
L 894.703629 383.66161
L 894.96 391.024499
L 895.216371 387.850623
L 895.472743 381.253209
L 895.729114 387.915734
L 895.985486 384.576564
L 896.241857 387.180082
L 896.498229 384.510746
L 897.010971 388.047395
L 897.267343 382.374517
L 897.780086 390.316251
L 898.292829 385.06457
L 898.5492 389.77844
L 898.805571 384.236013
L 899.061943 384.43966
L 899.318314 380.516052
L 899.574686 388.329666
L 899.831057 384.695658
L 900.087429 391.122741
L 900.3438 387.648334
L 900.600171 386.297447
L 900.856543 385.572448
L 901.112914 386.706177
L 901.369286 386.796362
L 901.625657 388.141149
L 901.882029 387.681738
L 902.1384 385.835141
L 902.394771 385.183772
L 902.651143 384.986279
L 902.907514 384.112968
L 903.163886 383.728656
L 903.420257 390.922291
L 903.676629 387.902032
L 903.933 386.990698
L 904.189371 388.17635
L 904.445743 384.095061
L 904.702114 384.855681
L 904.958486 386.816493
L 905.214857 386.319989
L 905.471229 383.887559
L 905.7276 387.343059
L 905.983971 387.281608
L 906.240343 384.518983
L 906.496714 385.417945
L 906.753086 383.135428
L 907.009457 385.69588
L 907.265829 384.692446
L 907.5222 387.915359
L 907.778571 388.899993
L 908.034943 386.595565
L 908.291314 393.305256
L 908.547686 385.544258
L 908.804057 384.295886
L 909.060429 386.399591
L 909.3168 387.102213
L 909.573171 384.051697
L 909.829543 386.675756
L 910.342286 380.795289
L 910.598657 384.57297
L 910.855029 384.132083
L 911.1114 385.369932
L 911.367771 385.916297
L 911.624143 385.873418
L 911.880514 386.419077
L 912.136886 384.06069
L 912.393257 390.193974
L 912.906 385.229048
L 913.162371 388.322261
L 913.418743 386.806806
L 913.675114 388.065127
L 913.931486 385.638086
L 914.187857 384.896561
L 914.444229 399.583543
L 914.7006 399.431424
L 914.956971 388.306837
L 915.213343 385.917319
L 915.469714 385.114186
L 915.726086 382.90688
L 915.982457 373.696457
L 916.238829 373.955929
L 916.4952 390.752451
L 916.751571 384.944088
L 917.007943 385.550247
L 917.264314 385.435656
L 917.520686 384.591688
L 917.777057 385.729446
L 918.033429 388.082131
L 918.546171 383.785432
L 918.802543 386.851537
L 919.058914 386.514736
L 919.315286 389.503177
L 919.571657 383.77173
L 919.828029 387.793478
L 920.0844 388.391841
L 920.340771 387.633289
L 920.597143 388.567875
L 920.853514 387.167248
L 921.109886 383.23961
L 921.366257 384.338756
L 921.622629 382.412183
L 921.879 382.207307
L 922.135371 389.27088
L 922.648114 381.59774
L 922.904486 378.892291
L 923.160857 391.499247
L 923.417229 391.884391
L 923.6736 384.91157
L 924.186343 390.271394
L 924.442714 385.021654
L 924.955457 394.716755
L 925.211829 386.630481
L 925.4682 386.150853
L 925.980943 383.427203
L 926.493686 387.398427
L 926.750057 388.998946
L 927.006429 392.774288
L 927.519171 382.45322
L 927.775543 383.943262
L 928.031914 378.688641
L 928.544657 393.063992
L 928.801029 383.691566
L 929.0574 383.057996
L 929.313771 390.825083
L 929.570143 392.020044
L 929.826514 386.050986
L 930.082886 384.292261
L 930.339257 390.33405
L 930.595629 387.770416
L 931.108371 390.595841
L 931.364743 391.077333
L 931.621114 386.090852
L 931.877486 387.752447
L 932.133857 388.641482
L 932.390229 394.355352
L 932.6466 380.945552
L 932.902971 389.460673
L 933.159343 387.030496
L 933.415714 390.249331
L 933.672086 385.428292
L 933.928457 391.661971
L 934.184829 386.289797
L 934.4412 387.178133
L 934.697571 383.755967
L 934.953943 390.034946
L 935.466686 387.373243
L 935.723057 379.733947
L 935.979429 391.171138
L 936.2358 385.725233
L 936.492171 388.563932
L 936.748543 385.699023
L 937.004914 384.808141
L 937.261286 386.265732
L 937.517657 385.934894
L 937.774029 385.919058
L 938.0304 388.144488
L 938.286771 387.213939
L 938.543143 391.468392
L 938.799514 387.654537
L 939.055886 388.960255
L 939.312257 387.402367
L 939.568629 384.286275
L 939.825 385.364755
L 940.081371 385.091013
L 940.337743 382.909636
L 940.594114 394.368207
L 940.850486 385.253149
L 941.106857 386.687554
L 941.363229 386.934281
L 941.6196 390.740888
L 941.875971 384.855704
L 942.132343 382.863803
L 942.388714 383.179399
L 942.645086 386.899395
L 942.901457 384.645197
L 943.157829 383.673079
L 943.4142 381.06527
L 943.670571 382.890915
L 943.926943 386.192714
L 944.183314 386.351867
L 944.696057 385.948647
L 944.952429 388.118736
L 945.2088 384.156926
L 945.465171 388.795894
L 945.721543 389.132773
L 945.977914 385.491939
L 946.234286 388.553386
L 946.490657 387.408549
L 946.747029 393.515539
L 947.0034 383.831263
L 947.259771 386.646384
L 947.516143 387.094759
L 947.772514 384.96285
L 948.028886 385.806703
L 948.285257 389.273822
L 948.541629 379.53668
L 948.798 388.169579
L 949.310743 380.011318
L 949.567114 388.868297
L 949.823486 386.280384
L 950.079857 389.429359
L 950.336229 383.211228
L 950.848971 390.302416
L 951.105343 382.493628
L 951.361714 383.720129
L 951.618086 389.342318
L 951.874457 383.019127
L 952.130829 386.064297
L 952.3872 378.854678
L 952.643571 381.761667
L 952.899943 388.255519
L 953.156314 387.419387
L 953.412686 389.280331
L 953.669057 386.238965
L 953.925429 386.500213
L 954.1818 384.487959
L 954.438171 386.367671
L 954.694543 391.044533
L 954.950914 389.138256
L 955.207286 382.212632
L 955.463657 383.027031
L 955.720029 387.147106
L 955.9764 387.074709
L 956.232771 387.159435
L 956.489143 386.564203
L 956.745514 392.007514
L 957.001886 384.021493
L 957.258257 388.498276
L 957.514629 386.208641
L 957.771 394.029085
L 958.027371 385.95824
L 958.283743 383.000621
L 958.540114 392.634513
L 958.796486 382.423311
L 959.5656 391.138057
L 959.821971 383.434422
L 960.078343 385.955115
L 960.334714 372.7008
L 960.591086 373.406864
L 960.847457 405.557486
L 961.103829 405.50107
L 961.3602 389.408065
L 961.616571 384.085314
L 961.872943 391.456002
L 962.129314 389.234223
L 962.385686 390.863081
L 962.642057 373.198629
L 962.898429 373.801253
L 963.1548 389.943115
L 963.411171 384.708976
L 963.667543 385.974124
L 963.923914 380.67211
L 964.180286 381.312782
L 964.436657 384.790054
L 964.693029 384.576335
L 964.9494 391.994992
L 965.205771 389.097075
L 965.462143 387.543113
L 965.718514 387.123048
L 965.974886 390.504172
L 966.231257 389.22362
L 966.487629 389.130238
L 966.744 383.724958
L 967.256743 387.586138
L 967.513114 387.384135
L 967.769486 385.853009
L 968.025857 388.537957
L 968.282229 387.402671
L 968.5386 391.702782
L 968.794971 384.61878
L 969.051343 383.634662
L 969.307714 385.543021
L 969.564086 385.199929
L 969.820457 385.57084
L 970.076829 380.387405
L 970.589571 390.627948
L 970.845943 389.729329
L 971.102314 384.480693
L 971.358686 383.405274
L 971.615057 384.328548
L 971.871429 384.110713
L 972.1278 386.081117
L 972.384171 391.012428
L 972.640543 388.757643
L 972.896914 392.013649
L 973.153286 387.769809
L 973.409657 390.438502
L 973.666029 386.382653
L 973.9224 387.106097
L 974.178771 392.284369
L 974.435143 384.629873
L 974.691514 384.643462
L 974.947886 390.160899
L 975.204257 386.296702
L 975.460629 384.914915
L 975.717 387.322681
L 975.973371 384.736364
L 976.229743 386.262131
L 976.486114 384.513373
L 976.742486 386.297612
L 976.998857 386.969541
L 977.255229 385.662296
L 977.5116 385.026246
L 978.280714 388.389723
L 978.537086 387.43941
L 978.793457 387.863534
L 979.049829 386.23757
L 979.3062 386.334705
L 979.562571 386.824616
L 979.818943 386.665965
L 980.075314 386.348545
L 980.331686 383.880402
L 980.588057 384.480708
L 980.844429 387.716803
L 981.1008 385.824621
L 981.357171 387.347164
L 981.613543 386.870478
L 981.869914 387.17782
L 982.126286 387.87049
L 982.382657 389.352256
L 982.639029 391.821259
L 982.8954 386.259168
L 983.151771 384.296212
L 983.408143 388.726056
L 983.664514 385.494772
L 983.920886 387.595727
L 984.177257 386.017161
L 984.433629 388.543891
L 984.69 387.221119
L 984.946371 386.944625
L 985.202743 392.179842
L 985.459114 386.152251
L 985.715486 387.039514
L 985.971857 393.706434
L 986.228229 384.862816
L 986.4846 386.810219
L 986.997343 385.402582
L 987.510086 391.034276
L 987.766457 388.499251
L 988.022829 388.503226
L 988.2792 377.709693
L 988.535571 379.228035
L 988.791943 388.719663
L 989.048314 388.355144
L 989.304686 385.479308
L 989.561057 384.502901
L 989.817429 389.683186
L 990.0738 391.108289
L 990.330171 378.035831
L 990.586543 381.90881
L 990.842914 393.733712
L 991.099286 394.819354
L 991.612029 385.795753
L 991.8684 384.307914
L 992.124771 388.268631
L 992.381143 394.288348
L 992.637514 385.770075
L 992.893886 384.09697
L 993.406629 389.121177
L 993.663 384.297899
L 993.919371 387.011212
L 994.175743 391.759471
L 994.432114 386.351581
L 994.688486 392.501846
L 994.944857 382.364255
L 995.201229 384.652285
L 995.4576 391.275889
L 995.970343 381.864493
L 996.226714 395.022257
L 996.739457 380.635207
L 996.995829 392.365373
L 997.2522 387.309155
L 997.508571 391.598998
L 997.764943 386.957649
L 998.021314 394.83839
L 998.790429 386.299203
L 999.0468 385.575859
L 999.303171 385.43392
L 999.559543 383.126086
L 999.815914 384.528646
L 1000.072286 384.472516
L 1000.328657 389.742265
L 1000.585029 387.185576
L 1000.8414 377.884635
L 1001.097771 380.057874
L 1001.354143 384.28135
L 1001.610514 384.38081
L 1001.866886 383.754049
L 1002.123257 387.993671
L 1002.379629 370.211657
L 1002.636 370.49194
L 1002.892371 411.0336
L 1003.148743 410.830395
L 1003.405114 393.925354
L 1003.661486 385.547283
L 1003.917857 392.832922
L 1004.174229 389.018953
L 1004.4306 387.070757
L 1004.686971 387.924253
L 1004.943343 386.144376
L 1005.199714 389.293432
L 1005.456086 387.076523
L 1005.712457 390.634709
L 1005.968829 388.070234
L 1006.2252 391.801026
L 1006.481571 384.412728
L 1006.737943 391.370665
L 1006.994314 384.08449
L 1007.250686 388.379397
L 1007.507057 387.892693
L 1007.763429 382.314648
L 1008.0198 386.345872
L 1008.276171 393.661685
L 1008.532543 384.835113
L 1008.788914 397.826344
L 1009.045286 385.692932
L 1009.301657 388.430903
L 1009.558029 392.484671
L 1009.8144 405.059657
L 1010.070771 404.761322
L 1010.327143 377.904032
L 1010.583514 388.677662
L 1010.839886 378.092102
L 1011.096257 381.028907
L 1011.352629 389.43791
L 1011.609 390.158405
L 1011.865371 381.459137
L 1012.121743 387.333069
L 1012.378114 386.089005
L 1012.634486 387.801228
L 1012.890857 391.63454
L 1013.147229 388.361861
L 1013.659971 393.016238
L 1013.916343 387.940756
L 1014.172714 380.057747
L 1014.429086 380.658009
L 1014.685457 386.973645
L 1014.941829 386.264348
L 1015.1982 385.004332
L 1015.454571 382.027448
L 1015.967314 388.499048
L 1016.223686 388.247651
L 1016.736429 376.312327
L 1016.9928 389.226409
L 1017.249171 394.454363
L 1017.505543 383.853699
L 1017.761914 387.033308
L 1018.018286 386.227877
L 1018.274657 382.231457
L 1019.043771 393.797694
L 1019.300143 386.925956
L 1019.556514 390.795138
L 1019.812886 385.717698
L 1020.069257 391.03761
L 1020.325629 387.91197
L 1020.582 391.53929
L 1020.838371 387.902617
L 1021.094743 388.259091
L 1021.351114 384.657743
L 1021.607486 369.713829
L 1021.863857 370.427219
L 1022.120229 389.847422
L 1022.3766 379.854583
L 1022.632971 385.54712
L 1022.889343 384.821549
L 1023.145714 384.744096
L 1023.402086 382.128809
L 1023.914829 384.722111
L 1024.1712 384.489887
L 1024.427571 389.458259
L 1024.683943 388.717703
L 1024.940314 387.098076
L 1025.196686 386.392961
L 1025.453057 386.670884
L 1025.709429 385.510267
L 1025.9658 386.639001
L 1026.222171 388.384649
L 1026.478543 392.750802
L 1026.734914 383.719386
L 1026.991286 384.699165
L 1027.247657 389.922994
L 1027.504029 384.868662
L 1027.7604 385.182244
L 1028.016771 386.459851
L 1028.273143 393.846434
L 1028.785886 389.100585
L 1029.042257 380.870795
L 1029.298629 389.927042
L 1029.555 388.029749
L 1029.811371 390.819344
L 1030.067743 388.6368
L 1030.324114 385.469228
L 1030.580486 394.417271
L 1030.836857 397.632219
L 1031.093229 384.076564
L 1031.605971 389.031063
L 1031.862343 383.095401
L 1032.118714 382.912126
L 1032.375086 395.299539
L 1032.887829 382.211701
L 1033.1442 389.623549
L 1033.400571 388.128247
L 1033.656943 382.439379
L 1034.169686 392.721757
L 1034.426057 390.217744
L 1034.682429 393.296785
L 1034.9388 384.073604
L 1035.195171 394.624872
L 1035.451543 382.457991
L 1035.707914 393.552003
L 1035.964286 386.56459
L 1036.220657 392.466325
L 1036.7334 382.48774
L 1036.989771 381.945192
L 1037.246143 381.106731
L 1037.502514 387.125785
L 1038.015257 385.754311
L 1038.271629 383.916332
L 1038.528 388.587785
L 1038.784371 381.939079
L 1039.040743 385.372333
L 1039.297114 381.840932
L 1039.553486 384.760922
L 1039.809857 384.049358
L 1040.066229 389.708114
L 1040.3226 388.492419
L 1040.578971 392.502315
L 1040.835343 387.988358
L 1041.091714 387.420569
L 1041.348086 383.645962
L 1041.604457 391.361057
L 1041.860829 375.931151
L 1042.1172 387.191396
L 1042.373571 382.286217
L 1042.629943 383.222133
L 1042.886314 395.602914
L 1043.399057 381.237737
L 1043.655429 395.407226
L 1043.9118 384.001215
L 1044.168171 389.84866
L 1044.424543 388.280869
L 1044.680914 385.952253
L 1044.937286 392.975682
L 1045.193657 386.080217
L 1045.450029 388.919845
L 1045.7064 389.308582
L 1045.962771 384.346562
L 1046.219143 377.09475
L 1046.475514 385.476729
L 1046.731886 384.781196
L 1047.244629 389.209329
L 1047.757371 381.718227
L 1048.013743 386.098155
L 1048.270114 383.890989
L 1048.526486 387.449247
L 1049.039229 372.949714
L 1049.039229 372.949714
" clip-path="url(#p99f132e95e)" style="fill: none; stroke: #0000ff; stroke-opacity: 0.7; stroke-linecap: square"/>
</g>
<g id="line2d_39">
<path d="M 66.642857 374.194286
L 1096.071429 374.194286
" clip-path="url(#p99f132e95e)" style="fill: none; stroke-dasharray: 5.55,2.4; stroke-dashoffset: 0; stroke: #ff0000; stroke-opacity: 0.7; stroke-width: 1.5"/>
</g>
<g id="line2d_40">
<path d="M 66.642857 399.085714
L 1096.071429 399.085714
" clip-path="url(#p99f132e95e)" style="fill: none; stroke-dasharray: 5.55,2.4; stroke-dashoffset: 0; stroke: #ff0000; stroke-opacity: 0.7; stroke-width: 1.5"/>
</g>
<g id="line2d_41">
<path d="M 66.642857 386.64
L 1096.071429 386.64
" clip-path="url(#p99f132e95e)" style="fill: none; stroke: #808080; stroke-opacity: 0.5; stroke-linecap: square"/>
</g>
<g id="patch_33">
<path d="M 66.642857 462.171429
L 66.642857 322.371429
" style="fill: none; stroke: #000000; stroke-width: 0.8; stroke-linejoin: miter; stroke-linecap: square"/>
</g>
<g id="patch_34">
<path d="M 1096.071429 462.171429
L 1096.071429 322.371429
" style="fill: none; stroke: #000000; stroke-width: 0.8; stroke-linejoin: miter; stroke-linecap: square"/>
</g>
<g id="patch_35">
<path d="M 66.642857 462.171429
L 1096.071429 462.171429
" style="fill: none; stroke: #000000; stroke-width: 0.8; stroke-linejoin: miter; stroke-linecap: square"/>
</g>
<g id="patch_36">
<path d="M 66.642857 322.371429
L 1096.071429 322.371429
" style="fill: none; stroke: #000000; stroke-width: 0.8; stroke-linejoin: miter; stroke-linecap: square"/>
</g>
<g id="legend_2">
<g id="patch_37">
<path d="M 979.653929 360.907679
L 1089.071429 360.907679
Q 1091.071429 360.907679 1091.071429 358.907679
L 1091.071429 329.371429
Q 1091.071429 327.371429 1089.071429 327.371429
L 979.653929 327.371429
Q 977.653929 327.371429 977.653929 329.371429
L 977.653929 358.907679
Q 977.653929 360.907679 979.653929 360.907679
z
" style="fill: #ffffff; opacity: 0.8; stroke: #cccccc; stroke-linejoin: miter"/>
</g>
<g id="line2d_42">
<path d="M 981.993929 335.809866
L 991.993929 335.809866
L 1001.993929 335.809866
" style="fill: none; stroke-dasharray: 5.55,2.4; stroke-dashoffset: 0; stroke: #ff0000; stroke-opacity: 0.7; stroke-width: 1.5"/>
</g>
<g id="g_leg2_0" transform="translate(0.964 -0.214)">
<text style="font-size: 10px; font-family: 'DejaVu Sans'; text-anchor: start" x="1009.993929" y="339.309866" transform="rotate(-0 1009.993929 339.309866)">Threshold +2.5</text>
</g>
<g id="line2d_43">
<path d="M 981.993929 350.987991
L 991.993929 350.987991
L 1001.993929 350.987991
" style="fill: none; stroke-dasharray: 5.55,2.4; stroke-dashoffset: 0; stroke: #ff0000; stroke-opacity: 0.7; stroke-width: 1.5"/>
</g>
<g id="g_leg2_1" transform="translate(0.964 0.000)">
<text style="font-size: 10px; font-family: 'DejaVu Sans'; text-anchor: start" x="1009.993929" y="354.487991" transform="rotate(-0 1009.993929 354.487991)">Threshold -2.5</text>
</g>
</g>
</g>
<g id="g_title">
<text style="font-weight: 700; font-size: 14.07px; font-family: 'DejaVu Sans'; text-anchor: middle" x="553.928571" y="22.691002" transform="rotate(-0 553.928571 22.691002)">RUBUSD - Current: Z-Score: 2.75, Return: 3.83%, Date: 2025-05-29</text>
</g>
<g id="g_lastupd">
<text style="font-size: 9px; font-family: 'DejaVu Sans'; text-anchor: start" x="66.257143" y="323.057143" transform="rotate(-0 66.257143 323.057143)">Last Updated: 2025-05-30 12:27</text>
</g>
</g>
<defs>
<clipPath id="pc347632fc4">
<rect x="66.642857" y="43.628571" width="1029.428571" height="278.742857"/>
</clipPath>
<clipPath id="p99f132e95e">
<rect x="66.642857" y="322.371429" width="1029.428571" height="139.8"/>
</clipPath>
</defs>
</svg>

</body></html>
